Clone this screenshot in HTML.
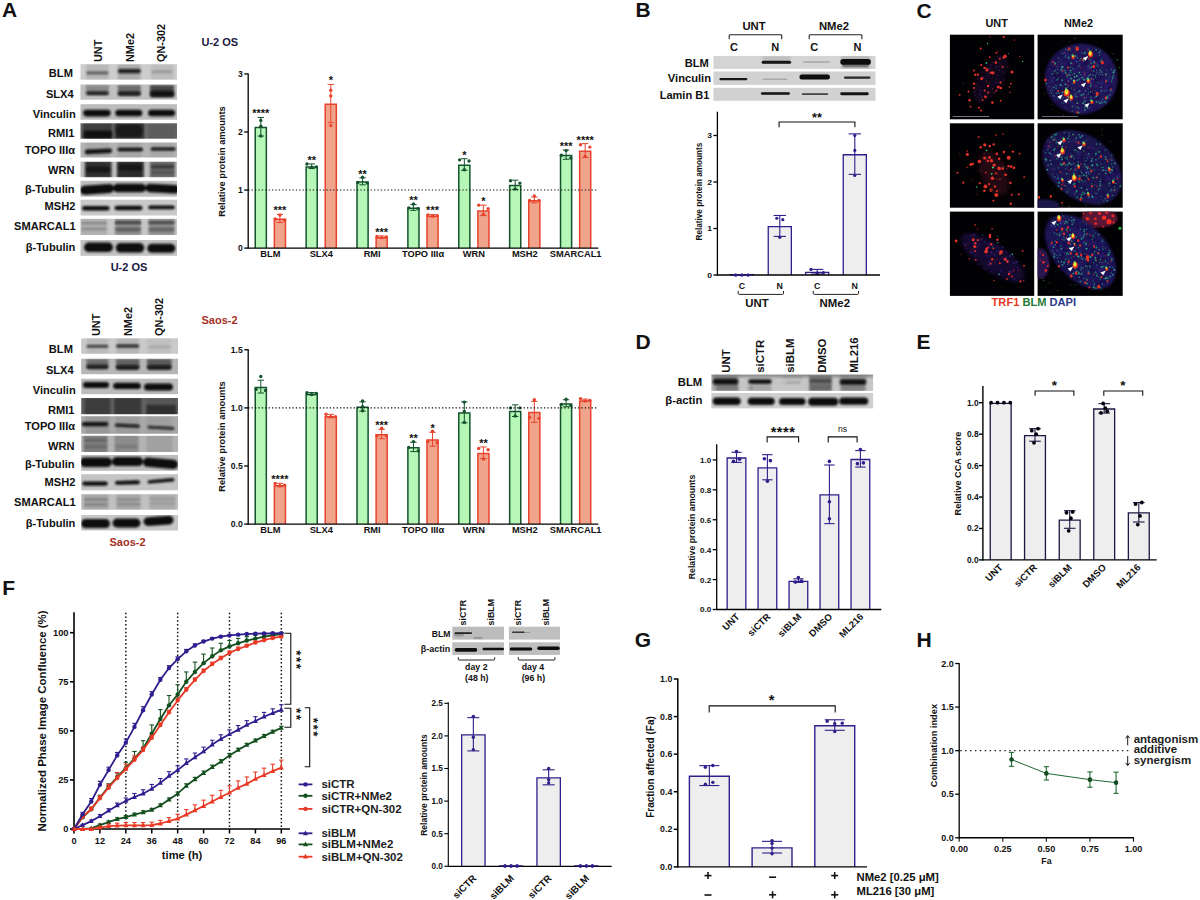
<!DOCTYPE html>
<html><head><meta charset="utf-8"><title>Figure</title>
<style>
html,body{margin:0;padding:0;background:#fff;}
body{width:1200px;height:900px;overflow:hidden;font-family:"Liberation Sans", sans-serif;}
svg{display:block;font-family:"Liberation Sans", sans-serif;}
</style></head><body>
<svg width="1200" height="900" viewBox="0 0 1200 900">
<defs>
<filter id="bl0" x="-20%" y="-50%" width="140%" height="200%"><feGaussianBlur stdDeviation="0.5"/></filter>
<filter id="bl1" x="-20%" y="-50%" width="140%" height="200%"><feGaussianBlur stdDeviation="0.8"/></filter>
<filter id="bl2" x="-20%" y="-50%" width="140%" height="200%"><feGaussianBlur stdDeviation="1.6"/></filter>
<filter id="bl3" x="-50%" y="-50%" width="200%" height="200%"><feGaussianBlur stdDeviation="0.6"/></filter>
<filter id="bl4" x="-50%" y="-50%" width="200%" height="200%"><feGaussianBlur stdDeviation="2.2"/></filter>
<filter id="bl5" x="-50%" y="-50%" width="200%" height="200%"><feGaussianBlur stdDeviation="1.1"/></filter>
</defs>
<rect x="0" y="0" width="1200" height="900" fill="#ffffff"/>

<text x="9.50" y="17.00" font-size="21" text-anchor="middle" font-weight="bold" fill="#111">A</text>
<text x="72.90" y="76.70" font-size="11.1" text-anchor="end" font-weight="bold" fill="#111">BLM</text>
<text x="73.70" y="97.50" font-size="11.1" text-anchor="end" font-weight="bold" fill="#111">SLX4</text>
<text x="75.70" y="118.00" font-size="11.1" text-anchor="end" font-weight="bold" fill="#111">Vinculin</text>
<text x="74.40" y="136.70" font-size="11.1" text-anchor="end" font-weight="bold" fill="#111">RMI1</text>
<text x="75.10" y="154.20" font-size="11.1" text-anchor="end" font-weight="bold" fill="#111">TOPO IIIα</text>
<text x="74.60" y="173.70" font-size="11.1" text-anchor="end" font-weight="bold" fill="#111">WRN</text>
<text x="74.60" y="192.50" font-size="11.1" text-anchor="end" font-weight="bold" fill="#111">β-Tubulin</text>
<text x="75.40" y="209.70" font-size="11.1" text-anchor="end" font-weight="bold" fill="#111">MSH2</text>
<text x="75.70" y="230.00" font-size="11.1" text-anchor="end" font-weight="bold" fill="#111">SMARCAL1</text>
<text x="75.40" y="251.30" font-size="11.1" text-anchor="end" font-weight="bold" fill="#111">β-Tubulin</text>
<text x="102.00" y="62.00" font-size="10.9" text-anchor="start" font-weight="bold" fill="#111" transform="rotate(-90 102.00 62.00)">UNT</text>
<text x="133.50" y="62.00" font-size="10.9" text-anchor="start" font-weight="bold" fill="#111" transform="rotate(-90 133.50 62.00)">NMe2</text>
<text x="165.00" y="62.00" font-size="10.9" text-anchor="start" font-weight="bold" fill="#111" transform="rotate(-90 165.00 62.00)">QN-302</text>
<clipPath id="cAt0"><rect x="80.50" y="64.20" width="96.50" height="15.50"/></clipPath>
<rect x="80.50" y="64.20" width="96.50" height="15.50" fill="#cdcdcd" stroke="none" stroke-width="1"/>
<g clip-path="url(#cAt0)">
<g filter="url(#bl1)">
<rect x="85.90" y="64.00" width="23.00" height="16.00" fill="#0a0a0a" opacity="0.1"/>
<rect x="117.80" y="64.00" width="23.00" height="16.00" fill="#0a0a0a" opacity="0.16"/>
<rect x="150.60" y="64.00" width="23.00" height="16.00" fill="#0a0a0a" opacity="0.08"/>
</g>
<g filter="url(#bl1)">
<rect x="86.40" y="71.40" width="22.00" height="1.60" rx="0.80" fill="#0a0a0a" opacity="0.55"/>
<rect x="86.40" y="73.10" width="22.00" height="1.40" rx="0.70" fill="#0a0a0a" opacity="0.45"/>
<rect x="117.80" y="69.00" width="23.00" height="4.20" rx="2.10" fill="#0a0a0a" opacity="0.9"/>
<rect x="151.60" y="70.50" width="21.00" height="2.60" rx="1.30" fill="#0a0a0a" opacity="0.22"/>
</g></g>
<clipPath id="cAt1"><rect x="80.50" y="84.50" width="96.50" height="15.20"/></clipPath>
<rect x="80.50" y="84.50" width="96.50" height="15.20" fill="#c0c0c0" stroke="none" stroke-width="1"/>
<g clip-path="url(#cAt1)">
<g filter="url(#bl1)">
<rect x="85.90" y="85.00" width="23.00" height="10.00" fill="#0a0a0a" opacity="0.28"/>
<rect x="117.80" y="85.00" width="23.00" height="11.00" fill="#0a0a0a" opacity="0.42"/>
<rect x="150.10" y="85.00" width="24.00" height="12.00" fill="#0a0a0a" opacity="0.68"/>
</g>
<g filter="url(#bl1)">
<rect x="86.40" y="91.60" width="22.00" height="3.40" rx="1.70" fill="#0a0a0a" opacity="0.9"/>
<rect x="118.05" y="91.60" width="22.50" height="3.80" rx="1.90" fill="#0a0a0a" opacity="0.9"/>
<rect x="150.10" y="90.80" width="24.00" height="6.00" rx="3.00" fill="#0a0a0a" opacity="0.95"/>
</g></g>
<clipPath id="cAt2"><rect x="80.50" y="104.20" width="96.50" height="15.50"/></clipPath>
<rect x="80.50" y="104.20" width="96.50" height="15.50" fill="#bcbcbc" stroke="none" stroke-width="1"/>
<g clip-path="url(#cAt2)">
<g filter="url(#bl1)">
<rect x="83.15" y="109.80" width="27.50" height="6.60" rx="3.30" fill="#0a0a0a" opacity="1"/>
<rect x="115.30" y="109.70" width="27.00" height="6.60" rx="3.30" fill="#0a0a0a" opacity="1"/>
<rect x="148.10" y="109.70" width="27.00" height="6.60" rx="3.30" fill="#0a0a0a" opacity="1"/>
</g></g>
<clipPath id="cAt3"><rect x="80.50" y="123.30" width="96.50" height="15.40"/></clipPath>
<rect x="80.50" y="123.30" width="96.50" height="15.40" fill="#6a6a6a" stroke="none" stroke-width="1"/>
<g clip-path="url(#cAt3)">
<g filter="url(#bl1)">
<rect x="82.90" y="130.50" width="29.00" height="8.50" fill="#0a0a0a" opacity="0.5"/>
<rect x="82.90" y="123.00" width="29.00" height="16.00" fill="#0a0a0a" opacity="0.42"/>
<rect x="114.80" y="123.00" width="29.00" height="16.00" fill="#0a0a0a" opacity="0.68"/>
<rect x="148.10" y="123.00" width="28.00" height="16.00" fill="#0a0a0a" opacity="0.12"/>
</g>
<g filter="url(#bl1)">
<rect x="84.40" y="131.00" width="28.00" height="7.00" rx="3.50" fill="#0a0a0a" opacity="0.5"/>
<rect x="115.80" y="125.00" width="27.00" height="12.00" rx="6.00" fill="#0a0a0a" opacity="0.45"/>
</g></g>
<clipPath id="cAt4"><rect x="80.50" y="142.50" width="96.50" height="15.00"/></clipPath>
<rect x="80.50" y="142.50" width="96.50" height="15.00" fill="#b4b4b4" stroke="none" stroke-width="1"/>
<g clip-path="url(#cAt4)">
<g filter="url(#bl1)">
<rect x="85.40" y="142.00" width="24.00" height="16.00" fill="#0a0a0a" opacity="0.06"/>
<rect x="117.30" y="142.00" width="24.00" height="16.00" fill="#0a0a0a" opacity="0.08"/>
<rect x="150.10" y="142.00" width="24.00" height="16.00" fill="#0a0a0a" opacity="0.06"/>
</g>
<g filter="url(#bl1)">
<rect x="84.65" y="149.00" width="27.50" height="4.60" rx="2.30" fill="#0a0a0a" opacity="0.97" transform="rotate(-3 98.40 151.30)"/>
<rect x="117.55" y="147.70" width="25.50" height="3.60" rx="1.80" fill="#0a0a0a" opacity="1"/>
<rect x="150.60" y="147.50" width="25.00" height="3.00" rx="1.50" fill="#0a0a0a" opacity="1"/>
</g></g>
<clipPath id="cAt5"><rect x="80.50" y="161.70" width="96.50" height="15.50"/></clipPath>
<rect x="80.50" y="161.70" width="96.50" height="15.50" fill="#bdbdbd" stroke="none" stroke-width="1"/>
<g clip-path="url(#cAt5)">
<g filter="url(#bl1)">
<rect x="84.95" y="161.00" width="26.50" height="17.00" fill="#0a0a0a" opacity="0.8"/>
<rect x="117.15" y="161.00" width="26.50" height="17.00" fill="#0a0a0a" opacity="0.84"/>
<rect x="150.00" y="161.00" width="25.00" height="17.00" fill="#0a0a0a" opacity="0.45"/>
</g>
<g filter="url(#bl1)">
<rect x="86.20" y="166.50" width="24.00" height="6.00" rx="3.00" fill="#0a0a0a" opacity="0.55"/>
<rect x="118.40" y="164.50" width="24.00" height="6.00" rx="3.00" fill="#0a0a0a" opacity="0.5"/>
<rect x="151.00" y="165.05" width="23.00" height="3.50" rx="1.75" fill="#0a0a0a" opacity="0.45"/>
<rect x="151.00" y="171.00" width="23.00" height="3.00" rx="1.50" fill="#0a0a0a" opacity="0.2"/>
</g></g>
<clipPath id="cAt6"><rect x="80.50" y="180.80" width="96.50" height="15.90"/></clipPath>
<rect x="80.50" y="180.80" width="96.50" height="15.90" fill="#bebebe" stroke="none" stroke-width="1"/>
<g clip-path="url(#cAt6)">
<g filter="url(#bl1)">
<rect x="80.00" y="184.80" width="34.00" height="9.00" rx="4.50" fill="#0a0a0a" opacity="1" transform="rotate(-4 97.00 189.30)"/>
<rect x="113.00" y="183.70" width="33.00" height="8.60" rx="4.30" fill="#0a0a0a" opacity="1"/>
<rect x="145.50" y="184.30" width="34.00" height="8.60" rx="4.30" fill="#0a0a0a" opacity="1" transform="rotate(3 162.50 188.60)"/>
</g></g>
<clipPath id="cAt7"><rect x="80.50" y="199.70" width="96.50" height="15.80"/></clipPath>
<rect x="80.50" y="199.70" width="96.50" height="15.80" fill="#c9c9c9" stroke="none" stroke-width="1"/>
<g clip-path="url(#cAt7)">
<g filter="url(#bl1)">
<rect x="82.05" y="206.00" width="27.50" height="4.40" rx="2.20" fill="#0a0a0a" opacity="1"/>
<rect x="114.50" y="205.70" width="28.00" height="4.60" rx="2.30" fill="#0a0a0a" opacity="1"/>
<rect x="148.25" y="205.50" width="26.50" height="3.80" rx="1.90" fill="#0a0a0a" opacity="1"/>
</g></g>
<clipPath id="cAt8"><rect x="80.50" y="218.80" width="96.50" height="16.20"/></clipPath>
<rect x="80.50" y="218.80" width="96.50" height="16.20" fill="#c6c6c6" stroke="none" stroke-width="1"/>
<g clip-path="url(#cAt8)">
<g filter="url(#bl1)">
<rect x="81.00" y="218.00" width="26.00" height="18.00" fill="#0a0a0a" opacity="0.1"/>
<rect x="115.00" y="218.00" width="26.00" height="18.00" fill="#0a0a0a" opacity="0.25"/>
<rect x="148.50" y="218.00" width="26.00" height="18.00" fill="#0a0a0a" opacity="0.25"/>
</g>
<g filter="url(#bl1)">
<rect x="81.00" y="222.20" width="26.00" height="2.00" rx="1.00" fill="#0a0a0a" opacity="0.3"/>
<rect x="81.00" y="227.50" width="26.00" height="3.00" rx="1.50" fill="#0a0a0a" opacity="0.22"/>
<rect x="115.00" y="221.50" width="26.00" height="2.60" rx="1.30" fill="#0a0a0a" opacity="0.75"/>
<rect x="115.00" y="227.25" width="26.00" height="4.50" rx="2.25" fill="#0a0a0a" opacity="0.35"/>
<rect x="148.50" y="221.50" width="26.00" height="2.60" rx="1.30" fill="#0a0a0a" opacity="0.7"/>
<rect x="148.50" y="227.25" width="26.00" height="4.50" rx="2.25" fill="#0a0a0a" opacity="0.32"/>
</g></g>
<clipPath id="cAt9"><rect x="80.50" y="240.00" width="96.50" height="15.80"/></clipPath>
<rect x="80.50" y="240.00" width="96.50" height="15.80" fill="#c2c2c2" stroke="none" stroke-width="1"/>
<g clip-path="url(#cAt9)">
<g filter="url(#bl1)">
<rect x="84.00" y="242.50" width="29.00" height="9.60" rx="4.80" fill="#0a0a0a" opacity="1"/>
<rect x="115.75" y="243.00" width="28.50" height="9.60" rx="4.80" fill="#0a0a0a" opacity="1"/>
<rect x="147.30" y="243.70" width="28.00" height="9.00" rx="4.50" fill="#0a0a0a" opacity="1"/>
</g></g>
<text x="129.00" y="271.20" font-size="11" text-anchor="middle" font-weight="bold" fill="#1b1943">U-2 OS</text>
<text x="72.90" y="352.70" font-size="11.1" text-anchor="end" font-weight="bold" fill="#111">BLM</text>
<text x="73.70" y="373.70" font-size="11.1" text-anchor="end" font-weight="bold" fill="#111">SLX4</text>
<text x="75.70" y="394.20" font-size="11.1" text-anchor="end" font-weight="bold" fill="#111">Vinculin</text>
<text x="74.40" y="413.70" font-size="11.1" text-anchor="end" font-weight="bold" fill="#111">RMI1</text>
<text x="75.10" y="430.00" font-size="11.1" text-anchor="end" font-weight="bold" fill="#111">TOPO IIIα</text>
<text x="74.60" y="449.70" font-size="11.1" text-anchor="end" font-weight="bold" fill="#111">WRN</text>
<text x="74.60" y="468.00" font-size="11.1" text-anchor="end" font-weight="bold" fill="#111">β-Tubulin</text>
<text x="75.40" y="486.20" font-size="11.1" text-anchor="end" font-weight="bold" fill="#111">MSH2</text>
<text x="75.70" y="505.80" font-size="11.1" text-anchor="end" font-weight="bold" fill="#111">SMARCAL1</text>
<text x="75.40" y="526.70" font-size="11.1" text-anchor="end" font-weight="bold" fill="#111">β-Tubulin</text>
<text x="99.50" y="336.00" font-size="10.9" text-anchor="start" font-weight="bold" fill="#111" transform="rotate(-90 99.50 336.00)">UNT</text>
<text x="131.50" y="336.00" font-size="10.9" text-anchor="start" font-weight="bold" fill="#111" transform="rotate(-90 131.50 336.00)">NMe2</text>
<text x="162.50" y="336.00" font-size="10.9" text-anchor="start" font-weight="bold" fill="#111" transform="rotate(-90 162.50 336.00)">QN-302</text>
<clipPath id="cAb0"><rect x="81.20" y="338.30" width="96.80" height="15.50"/></clipPath>
<rect x="81.20" y="338.30" width="96.80" height="15.50" fill="#cacaca" stroke="none" stroke-width="1"/>
<g clip-path="url(#cAb0)">
<g filter="url(#bl1)">
<rect x="86.40" y="338.00" width="22.00" height="16.00" fill="#0a0a0a" opacity="0.08"/>
<rect x="116.20" y="338.00" width="23.00" height="16.00" fill="#0a0a0a" opacity="0.1"/>
<rect x="147.30" y="338.00" width="24.00" height="16.00" fill="#0a0a0a" opacity="0.05"/>
</g>
<g filter="url(#bl1)">
<rect x="86.65" y="344.90" width="21.50" height="2.60" rx="1.30" fill="#0a0a0a" opacity="0.8"/>
<rect x="116.20" y="344.40" width="23.00" height="3.20" rx="1.60" fill="#0a0a0a" opacity="0.88"/>
<rect x="148.30" y="345.70" width="22.00" height="2.60" rx="1.30" fill="#0a0a0a" opacity="0.14"/>
</g></g>
<clipPath id="cAb1"><rect x="81.20" y="358.70" width="96.80" height="15.50"/></clipPath>
<rect x="81.20" y="358.70" width="96.80" height="15.50" fill="#b6b6b6" stroke="none" stroke-width="1"/>
<g clip-path="url(#cAb1)">
<g filter="url(#bl1)">
<rect x="86.40" y="359.00" width="22.00" height="9.00" fill="#0a0a0a" opacity="0.4"/>
<rect x="115.95" y="359.00" width="23.50" height="9.00" fill="#0a0a0a" opacity="0.46"/>
<rect x="147.05" y="359.00" width="24.50" height="9.00" fill="#0a0a0a" opacity="0.5"/>
</g>
<g filter="url(#bl1)">
<rect x="86.40" y="364.80" width="22.00" height="4.40" rx="2.20" fill="#0a0a0a" opacity="0.85"/>
<rect x="115.95" y="365.30" width="23.50" height="4.60" rx="2.30" fill="#0a0a0a" opacity="0.88"/>
<rect x="147.05" y="365.30" width="24.50" height="4.60" rx="2.30" fill="#0a0a0a" opacity="0.88"/>
</g></g>
<clipPath id="cAb2"><rect x="81.20" y="378.70" width="96.80" height="15.50"/></clipPath>
<rect x="81.20" y="378.70" width="96.80" height="15.50" fill="#bcbcbc" stroke="none" stroke-width="1"/>
<g clip-path="url(#cAb2)">
<g filter="url(#bl1)">
<rect x="83.00" y="382.00" width="26.00" height="6.00" rx="3.00" fill="#0a0a0a" opacity="1"/>
<rect x="113.25" y="382.70" width="27.50" height="6.40" rx="3.20" fill="#0a0a0a" opacity="1"/>
<rect x="144.00" y="383.40" width="29.00" height="7.20" rx="3.60" fill="#0a0a0a" opacity="1"/>
</g></g>
<clipPath id="cAb3"><rect x="81.20" y="398.00" width="96.80" height="16.20"/></clipPath>
<rect x="81.20" y="398.00" width="96.80" height="16.20" fill="#626262" stroke="none" stroke-width="1"/>
<g clip-path="url(#cAb3)">
<g filter="url(#bl1)">
<rect x="84.40" y="398.00" width="26.00" height="17.00" fill="#0a0a0a" opacity="0.38"/>
<rect x="114.20" y="398.00" width="27.00" height="17.00" fill="#0a0a0a" opacity="0.42"/>
<rect x="146.30" y="405.00" width="30.00" height="10.00" fill="#0a0a0a" opacity="0.45"/>
<rect x="146.30" y="398.00" width="30.00" height="17.00" fill="#0a0a0a" opacity="0.12"/>
</g>
<g filter="url(#bl1)">
</g></g>
<clipPath id="cAb4"><rect x="81.20" y="416.20" width="96.80" height="17.60"/></clipPath>
<rect x="81.20" y="416.20" width="96.80" height="17.60" fill="#a9a9a9" stroke="none" stroke-width="1"/>
<g clip-path="url(#cAb4)">
<g filter="url(#bl1)">
<rect x="85.40" y="416.00" width="24.00" height="18.00" fill="#0a0a0a" opacity="0.1"/>
<rect x="115.70" y="416.00" width="24.00" height="18.00" fill="#0a0a0a" opacity="0.08"/>
<rect x="146.30" y="416.00" width="26.00" height="18.00" fill="#0a0a0a" opacity="0.06"/>
</g>
<g filter="url(#bl1)">
<rect x="81.75" y="422.10" width="26.50" height="4.20" rx="2.10" fill="#0a0a0a" opacity="0.97"/>
<rect x="114.80" y="424.00" width="25.00" height="3.20" rx="1.60" fill="#0a0a0a" opacity="0.9" transform="rotate(3 127.30 425.60)"/>
<rect x="147.50" y="426.40" width="27.00" height="2.80" rx="1.40" fill="#0a0a0a" opacity="0.85" transform="rotate(3 161.00 427.80)"/>
</g></g>
<clipPath id="cAb5"><rect x="81.20" y="435.80" width="96.80" height="16.20"/></clipPath>
<rect x="81.20" y="435.80" width="96.80" height="16.20" fill="#b3b3b3" stroke="none" stroke-width="1"/>
<g clip-path="url(#cAb5)">
<g filter="url(#bl1)">
<rect x="83.50" y="435.00" width="24.00" height="18.00" fill="#0a0a0a" opacity="0.3"/>
<rect x="114.50" y="435.00" width="24.00" height="18.00" fill="#0a0a0a" opacity="0.22"/>
<rect x="146.50" y="435.00" width="26.00" height="18.00" fill="#0a0a0a" opacity="0.1"/>
</g>
<g filter="url(#bl1)">
<rect x="84.00" y="439.10" width="23.00" height="2.40" rx="1.20" fill="#0a0a0a" opacity="0.22"/>
<rect x="84.00" y="445.50" width="23.00" height="2.60" rx="1.30" fill="#0a0a0a" opacity="0.2"/>
<rect x="115.00" y="445.00" width="23.00" height="3.00" rx="1.50" fill="#0a0a0a" opacity="0.14"/>
</g></g>
<clipPath id="cAb6"><rect x="81.20" y="455.00" width="96.80" height="15.80"/></clipPath>
<rect x="81.20" y="455.00" width="96.80" height="15.80" fill="#bcbcbc" stroke="none" stroke-width="1"/>
<g clip-path="url(#cAb6)">
<g filter="url(#bl1)">
<rect x="80.00" y="457.60" width="32.00" height="9.40" rx="4.70" fill="#0a0a0a" opacity="1"/>
<rect x="112.00" y="457.10" width="31.00" height="9.00" rx="4.50" fill="#0a0a0a" opacity="1"/>
<rect x="143.00" y="458.60" width="35.00" height="9.40" rx="4.70" fill="#0a0a0a" opacity="1" transform="rotate(5 160.50 463.30)"/>
</g></g>
<clipPath id="cAb7"><rect x="81.20" y="474.20" width="96.80" height="16.10"/></clipPath>
<rect x="81.20" y="474.20" width="96.80" height="16.10" fill="#c4c4c4" stroke="none" stroke-width="1"/>
<g clip-path="url(#cAb7)">
<g filter="url(#bl1)">
<rect x="82.25" y="481.50" width="25.50" height="4.20" rx="2.10" fill="#0a0a0a" opacity="1"/>
<rect x="115.00" y="480.70" width="25.00" height="3.80" rx="1.90" fill="#0a0a0a" opacity="1" transform="rotate(-2 127.50 482.60)"/>
<rect x="147.50" y="479.10" width="27.00" height="3.40" rx="1.70" fill="#0a0a0a" opacity="1" transform="rotate(-5 161.00 480.80)"/>
</g></g>
<clipPath id="cAb8"><rect x="81.20" y="494.20" width="96.80" height="15.50"/></clipPath>
<rect x="81.20" y="494.20" width="96.80" height="15.50" fill="#c0c0c0" stroke="none" stroke-width="1"/>
<g clip-path="url(#cAb8)">
<g filter="url(#bl1)">
<rect x="83.50" y="494.00" width="25.00" height="16.00" fill="#0a0a0a" opacity="0.12"/>
<rect x="116.50" y="494.00" width="24.00" height="16.00" fill="#0a0a0a" opacity="0.12"/>
<rect x="149.50" y="494.00" width="26.00" height="16.00" fill="#0a0a0a" opacity="0.1"/>
</g>
<g filter="url(#bl1)">
<rect x="84.00" y="498.60" width="24.00" height="2.00" rx="1.00" fill="#0a0a0a" opacity="0.32"/>
<rect x="84.00" y="503.20" width="24.00" height="2.60" rx="1.30" fill="#0a0a0a" opacity="0.26"/>
<rect x="116.50" y="498.40" width="24.00" height="2.00" rx="1.00" fill="#0a0a0a" opacity="0.24"/>
<rect x="116.50" y="503.00" width="24.00" height="2.60" rx="1.30" fill="#0a0a0a" opacity="0.2"/>
<rect x="149.50" y="497.90" width="26.00" height="1.80" rx="0.90" fill="#0a0a0a" opacity="0.16"/>
<rect x="149.50" y="502.40" width="26.00" height="2.20" rx="1.10" fill="#0a0a0a" opacity="0.12"/>
</g></g>
<clipPath id="cAb9"><rect x="81.20" y="515.00" width="96.80" height="15.50"/></clipPath>
<rect x="81.20" y="515.00" width="96.80" height="15.50" fill="#c6c6c6" stroke="none" stroke-width="1"/>
<g clip-path="url(#cAb9)">
<g filter="url(#bl1)">
<rect x="81.00" y="519.10" width="29.00" height="9.00" rx="4.50" fill="#0a0a0a" opacity="1"/>
<rect x="112.50" y="518.60" width="28.00" height="8.80" rx="4.40" fill="#0a0a0a" opacity="1"/>
<rect x="143.50" y="516.40" width="30.00" height="8.80" rx="4.40" fill="#0a0a0a" opacity="1" transform="rotate(-4 158.50 520.80)"/>
</g></g>
<text x="127.50" y="546.30" font-size="11" text-anchor="middle" font-weight="bold" fill="#a5301f">Saos-2</text>
<text x="201.50" y="45.60" font-size="11" text-anchor="start" font-weight="bold" fill="#1b1943">U-2 OS</text>
<rect x="255.25" y="127.53" width="11.10" height="120.57" fill="#b6f6b6"/>
<path d="M255.25 248.10 V127.53 H266.35 V248.10" fill="none" stroke="#14532d" stroke-width="1.5"/>
<line x1="260.80" y1="117.49" x2="260.80" y2="136.06" stroke="#14532d" stroke-width="1.0"/>
<line x1="257.60" y1="117.49" x2="264.00" y2="117.49" stroke="#14532d" stroke-width="1.0"/>
<line x1="257.60" y1="136.06" x2="264.00" y2="136.06" stroke="#14532d" stroke-width="1.0"/>
<circle cx="260.80" cy="120.39" r="1.70" fill="#14532d"/>
<circle cx="260.80" cy="126.19" r="1.70" fill="#14532d"/>
<circle cx="260.80" cy="136.06" r="1.70" fill="#14532d"/>
<text x="260.80" y="117.40" font-size="11" text-anchor="middle" font-weight="bold" fill="#111">****</text>
<rect x="274.35" y="219.24" width="11.10" height="28.86" fill="#f0a48c"/>
<path d="M274.35 248.10 V219.24 H285.45 V248.10" fill="none" stroke="#e8432e" stroke-width="1.5"/>
<line x1="279.90" y1="214.43" x2="279.90" y2="222.56" stroke="#e8432e" stroke-width="1.0"/>
<line x1="276.70" y1="214.43" x2="283.10" y2="214.43" stroke="#e8432e" stroke-width="1.0"/>
<line x1="276.70" y1="222.56" x2="283.10" y2="222.56" stroke="#e8432e" stroke-width="1.0"/>
<circle cx="279.90" cy="215.01" r="1.70" fill="#e8432e"/>
<circle cx="275.20" cy="219.07" r="1.70" fill="#e8432e"/>
<circle cx="284.60" cy="220.24" r="1.70" fill="#e8432e"/>
<text x="279.90" y="214.34" font-size="11" text-anchor="middle" font-weight="bold" fill="#111">***</text>
<text x="270.40" y="257.30" font-size="9.3" text-anchor="middle" font-weight="bold" fill="#111">BLM</text>
<rect x="306.13" y="167.00" width="11.10" height="81.10" fill="#b6f6b6"/>
<path d="M306.13 248.10 V167.00 H317.23 V248.10" fill="none" stroke="#14532d" stroke-width="1.5"/>
<line x1="311.68" y1="163.93" x2="311.68" y2="168.57" stroke="#14532d" stroke-width="1.0"/>
<line x1="308.48" y1="163.93" x2="314.88" y2="163.93" stroke="#14532d" stroke-width="1.0"/>
<line x1="308.48" y1="168.57" x2="314.88" y2="168.57" stroke="#14532d" stroke-width="1.0"/>
<circle cx="306.98" cy="163.93" r="1.70" fill="#14532d"/>
<circle cx="316.38" cy="166.83" r="1.70" fill="#14532d"/>
<circle cx="311.68" cy="167.41" r="1.70" fill="#14532d"/>
<text x="311.68" y="163.84" font-size="11" text-anchor="middle" font-weight="bold" fill="#111">**</text>
<rect x="325.23" y="104.31" width="11.10" height="143.79" fill="#f0a48c"/>
<path d="M325.23 248.10 V104.31 H336.33 V248.10" fill="none" stroke="#e8432e" stroke-width="1.5"/>
<line x1="330.78" y1="84.40" x2="330.78" y2="122.71" stroke="#e8432e" stroke-width="1.0"/>
<line x1="327.58" y1="84.40" x2="333.98" y2="84.40" stroke="#e8432e" stroke-width="1.0"/>
<line x1="327.58" y1="122.71" x2="333.98" y2="122.71" stroke="#e8432e" stroke-width="1.0"/>
<circle cx="330.78" cy="90.20" r="1.70" fill="#e8432e"/>
<circle cx="330.78" cy="96.01" r="1.70" fill="#e8432e"/>
<circle cx="330.78" cy="125.61" r="1.70" fill="#e8432e"/>
<text x="330.78" y="84.31" font-size="11" text-anchor="middle" font-weight="bold" fill="#111">*</text>
<text x="321.28" y="257.30" font-size="9.3" text-anchor="middle" font-weight="bold" fill="#111">SLX4</text>
<rect x="357.01" y="182.09" width="11.10" height="66.01" fill="#b6f6b6"/>
<path d="M357.01 248.10 V182.09 H368.11 V248.10" fill="none" stroke="#14532d" stroke-width="1.5"/>
<line x1="362.56" y1="177.86" x2="362.56" y2="184.83" stroke="#14532d" stroke-width="1.0"/>
<line x1="359.36" y1="177.86" x2="365.76" y2="177.86" stroke="#14532d" stroke-width="1.0"/>
<line x1="359.36" y1="184.83" x2="365.76" y2="184.83" stroke="#14532d" stroke-width="1.0"/>
<circle cx="362.56" cy="177.28" r="1.70" fill="#14532d"/>
<circle cx="357.86" cy="182.50" r="1.70" fill="#14532d"/>
<circle cx="367.26" cy="183.08" r="1.70" fill="#14532d"/>
<text x="362.56" y="177.77" font-size="11" text-anchor="middle" font-weight="bold" fill="#111">**</text>
<rect x="376.11" y="237.82" width="11.10" height="10.28" fill="#f0a48c"/>
<path d="M376.11 248.10 V237.82 H387.21 V248.10" fill="none" stroke="#e8432e" stroke-width="1.5"/>
<line x1="381.66" y1="235.91" x2="381.66" y2="238.23" stroke="#e8432e" stroke-width="1.0"/>
<line x1="378.46" y1="235.91" x2="384.86" y2="235.91" stroke="#e8432e" stroke-width="1.0"/>
<line x1="378.46" y1="238.23" x2="384.86" y2="238.23" stroke="#e8432e" stroke-width="1.0"/>
<circle cx="376.96" cy="236.49" r="1.70" fill="#e8432e"/>
<circle cx="386.36" cy="237.07" r="1.70" fill="#e8432e"/>
<circle cx="381.66" cy="237.65" r="1.70" fill="#e8432e"/>
<text x="381.66" y="235.82" font-size="11" text-anchor="middle" font-weight="bold" fill="#111">***</text>
<text x="372.16" y="257.30" font-size="9.3" text-anchor="middle" font-weight="bold" fill="#111">RMI</text>
<rect x="407.89" y="208.22" width="11.10" height="39.88" fill="#b6f6b6"/>
<path d="M407.89 248.10 V208.22 H418.99 V248.10" fill="none" stroke="#14532d" stroke-width="1.5"/>
<line x1="413.44" y1="204.56" x2="413.44" y2="210.37" stroke="#14532d" stroke-width="1.0"/>
<line x1="410.24" y1="204.56" x2="416.64" y2="204.56" stroke="#14532d" stroke-width="1.0"/>
<line x1="410.24" y1="210.37" x2="416.64" y2="210.37" stroke="#14532d" stroke-width="1.0"/>
<circle cx="413.44" cy="203.98" r="1.70" fill="#14532d"/>
<circle cx="408.74" cy="208.05" r="1.70" fill="#14532d"/>
<circle cx="418.14" cy="208.63" r="1.70" fill="#14532d"/>
<text x="413.44" y="204.47" font-size="11" text-anchor="middle" font-weight="bold" fill="#111">**</text>
<rect x="426.99" y="216.34" width="11.10" height="31.76" fill="#f0a48c"/>
<path d="M426.99 248.10 V216.34 H438.09 V248.10" fill="none" stroke="#e8432e" stroke-width="1.5"/>
<line x1="432.54" y1="214.43" x2="432.54" y2="216.75" stroke="#e8432e" stroke-width="1.0"/>
<line x1="429.34" y1="214.43" x2="435.74" y2="214.43" stroke="#e8432e" stroke-width="1.0"/>
<line x1="429.34" y1="216.75" x2="435.74" y2="216.75" stroke="#e8432e" stroke-width="1.0"/>
<circle cx="427.84" cy="215.01" r="1.70" fill="#e8432e"/>
<circle cx="437.24" cy="215.59" r="1.70" fill="#e8432e"/>
<circle cx="432.54" cy="216.17" r="1.70" fill="#e8432e"/>
<text x="432.54" y="214.34" font-size="11" text-anchor="middle" font-weight="bold" fill="#111">***</text>
<text x="423.04" y="257.30" font-size="9.3" text-anchor="middle" font-weight="bold" fill="#111">TOPO IIIα</text>
<rect x="458.77" y="165.26" width="11.10" height="82.84" fill="#b6f6b6"/>
<path d="M458.77 248.10 V165.26 H469.87 V248.10" fill="none" stroke="#14532d" stroke-width="1.5"/>
<line x1="464.32" y1="158.70" x2="464.32" y2="170.31" stroke="#14532d" stroke-width="1.0"/>
<line x1="461.12" y1="158.70" x2="467.52" y2="158.70" stroke="#14532d" stroke-width="1.0"/>
<line x1="461.12" y1="170.31" x2="467.52" y2="170.31" stroke="#14532d" stroke-width="1.0"/>
<circle cx="459.62" cy="159.86" r="1.70" fill="#14532d"/>
<circle cx="469.02" cy="161.03" r="1.70" fill="#14532d"/>
<circle cx="464.32" cy="169.73" r="1.70" fill="#14532d"/>
<text x="464.32" y="158.61" font-size="11" text-anchor="middle" font-weight="bold" fill="#111">*</text>
<rect x="477.87" y="211.12" width="11.10" height="36.98" fill="#f0a48c"/>
<path d="M477.87 248.10 V211.12 H488.97 V248.10" fill="none" stroke="#e8432e" stroke-width="1.5"/>
<line x1="483.42" y1="205.14" x2="483.42" y2="215.59" stroke="#e8432e" stroke-width="1.0"/>
<line x1="480.22" y1="205.14" x2="486.62" y2="205.14" stroke="#e8432e" stroke-width="1.0"/>
<line x1="480.22" y1="215.59" x2="486.62" y2="215.59" stroke="#e8432e" stroke-width="1.0"/>
<circle cx="478.72" cy="205.14" r="1.70" fill="#e8432e"/>
<circle cx="488.12" cy="208.63" r="1.70" fill="#e8432e"/>
<circle cx="483.42" cy="214.43" r="1.70" fill="#e8432e"/>
<text x="483.42" y="205.05" font-size="11" text-anchor="middle" font-weight="bold" fill="#111">*</text>
<text x="473.92" y="257.30" font-size="9.3" text-anchor="middle" font-weight="bold" fill="#111">WRN</text>
<rect x="509.65" y="185.58" width="11.10" height="62.52" fill="#b6f6b6"/>
<path d="M509.65 248.10 V185.58 H520.75 V248.10" fill="none" stroke="#14532d" stroke-width="1.5"/>
<line x1="515.20" y1="180.18" x2="515.20" y2="189.47" stroke="#14532d" stroke-width="1.0"/>
<line x1="512.00" y1="180.18" x2="518.40" y2="180.18" stroke="#14532d" stroke-width="1.0"/>
<line x1="512.00" y1="189.47" x2="518.40" y2="189.47" stroke="#14532d" stroke-width="1.0"/>
<circle cx="510.50" cy="180.76" r="1.70" fill="#14532d"/>
<circle cx="519.90" cy="183.08" r="1.70" fill="#14532d"/>
<circle cx="515.20" cy="188.89" r="1.70" fill="#14532d"/>
<rect x="528.75" y="200.67" width="11.10" height="47.43" fill="#f0a48c"/>
<path d="M528.75 248.10 V200.67 H539.85 V248.10" fill="none" stroke="#e8432e" stroke-width="1.5"/>
<line x1="534.30" y1="197.02" x2="534.30" y2="202.82" stroke="#e8432e" stroke-width="1.0"/>
<line x1="531.10" y1="197.02" x2="537.50" y2="197.02" stroke="#e8432e" stroke-width="1.0"/>
<line x1="531.10" y1="202.82" x2="537.50" y2="202.82" stroke="#e8432e" stroke-width="1.0"/>
<circle cx="534.30" cy="195.85" r="1.70" fill="#e8432e"/>
<circle cx="529.60" cy="200.50" r="1.70" fill="#e8432e"/>
<circle cx="539.00" cy="200.50" r="1.70" fill="#e8432e"/>
<text x="524.80" y="257.30" font-size="9.3" text-anchor="middle" font-weight="bold" fill="#111">MSH2</text>
<rect x="560.53" y="155.39" width="11.10" height="92.71" fill="#b6f6b6"/>
<path d="M560.53 248.10 V155.39 H571.63 V248.10" fill="none" stroke="#14532d" stroke-width="1.5"/>
<line x1="566.08" y1="150.00" x2="566.08" y2="159.28" stroke="#14532d" stroke-width="1.0"/>
<line x1="562.88" y1="150.00" x2="569.28" y2="150.00" stroke="#14532d" stroke-width="1.0"/>
<line x1="562.88" y1="159.28" x2="569.28" y2="159.28" stroke="#14532d" stroke-width="1.0"/>
<circle cx="566.08" cy="150.58" r="1.70" fill="#14532d"/>
<circle cx="561.38" cy="155.22" r="1.70" fill="#14532d"/>
<circle cx="570.78" cy="158.12" r="1.70" fill="#14532d"/>
<text x="566.08" y="149.91" font-size="11" text-anchor="middle" font-weight="bold" fill="#111">***</text>
<rect x="579.63" y="151.33" width="11.10" height="96.77" fill="#f0a48c"/>
<path d="M579.63 248.10 V151.33 H590.73 V248.10" fill="none" stroke="#e8432e" stroke-width="1.5"/>
<line x1="585.18" y1="143.61" x2="585.18" y2="157.54" stroke="#e8432e" stroke-width="1.0"/>
<line x1="581.98" y1="143.61" x2="588.38" y2="143.61" stroke="#e8432e" stroke-width="1.0"/>
<line x1="581.98" y1="157.54" x2="588.38" y2="157.54" stroke="#e8432e" stroke-width="1.0"/>
<circle cx="580.48" cy="144.77" r="1.70" fill="#e8432e"/>
<circle cx="589.88" cy="147.09" r="1.70" fill="#e8432e"/>
<circle cx="585.18" cy="156.38" r="1.70" fill="#e8432e"/>
<text x="585.18" y="143.52" font-size="11" text-anchor="middle" font-weight="bold" fill="#111">****</text>
<text x="575.68" y="257.30" font-size="9.3" text-anchor="middle" font-weight="bold" fill="#111">SMARCAL1</text>
<line x1="248.20" y1="190.05" x2="597.50" y2="190.05" stroke="#111" stroke-width="1.1" stroke-dasharray="1.3 2.1"/>
<line x1="248.20" y1="73.50" x2="248.20" y2="248.60" stroke="#000" stroke-width="1.3"/>
<line x1="244.20" y1="248.10" x2="248.20" y2="248.10" stroke="#000" stroke-width="1.3"/>
<text x="242.70" y="251.20" font-size="8.6" text-anchor="end" font-weight="bold" fill="#111">0</text>
<line x1="244.20" y1="190.05" x2="248.20" y2="190.05" stroke="#000" stroke-width="1.3"/>
<text x="242.70" y="193.15" font-size="8.6" text-anchor="end" font-weight="bold" fill="#111">1</text>
<line x1="244.20" y1="132.00" x2="248.20" y2="132.00" stroke="#000" stroke-width="1.3"/>
<text x="242.70" y="135.10" font-size="8.6" text-anchor="end" font-weight="bold" fill="#111">2</text>
<line x1="244.20" y1="73.95" x2="248.20" y2="73.95" stroke="#000" stroke-width="1.3"/>
<text x="242.70" y="77.05" font-size="8.6" text-anchor="end" font-weight="bold" fill="#111">3</text>
<line x1="247.70" y1="248.10" x2="598.30" y2="248.10" stroke="#000" stroke-width="1.4"/>
<text x="225.00" y="161.50" font-size="9.25" text-anchor="middle" font-weight="bold" fill="#111" transform="rotate(-90 225.00 161.50)">Relative protein amounts</text>
<text x="201.50" y="323.50" font-size="11" text-anchor="start" font-weight="bold" fill="#a5301f">Saos-2</text>
<rect x="255.25" y="387.39" width="11.10" height="136.71" fill="#b6f6b6"/>
<path d="M255.25 524.10 V387.39 H266.35 V524.10" fill="none" stroke="#14532d" stroke-width="1.5"/>
<line x1="260.80" y1="380.24" x2="260.80" y2="393.03" stroke="#14532d" stroke-width="1.0"/>
<line x1="257.60" y1="380.24" x2="264.00" y2="380.24" stroke="#14532d" stroke-width="1.0"/>
<line x1="257.60" y1="393.03" x2="264.00" y2="393.03" stroke="#14532d" stroke-width="1.0"/>
<circle cx="260.80" cy="376.53" r="1.70" fill="#14532d"/>
<circle cx="256.10" cy="389.31" r="1.70" fill="#14532d"/>
<circle cx="265.50" cy="390.47" r="1.70" fill="#14532d"/>
<rect x="274.35" y="485.81" width="11.10" height="38.29" fill="#f0a48c"/>
<path d="M274.35 524.10 V485.81 H285.45 V524.10" fill="none" stroke="#e8432e" stroke-width="1.5"/>
<line x1="279.90" y1="483.31" x2="279.90" y2="486.80" stroke="#e8432e" stroke-width="1.0"/>
<line x1="276.70" y1="483.31" x2="283.10" y2="483.31" stroke="#e8432e" stroke-width="1.0"/>
<line x1="276.70" y1="486.80" x2="283.10" y2="486.80" stroke="#e8432e" stroke-width="1.0"/>
<circle cx="275.20" cy="483.43" r="1.70" fill="#e8432e"/>
<circle cx="284.60" cy="485.17" r="1.70" fill="#e8432e"/>
<circle cx="279.90" cy="485.75" r="1.70" fill="#e8432e"/>
<text x="279.90" y="483.22" font-size="11" text-anchor="middle" font-weight="bold" fill="#111">****</text>
<text x="270.40" y="532.80" font-size="9.3" text-anchor="middle" font-weight="bold" fill="#111">BLM</text>
<rect x="306.13" y="394.47" width="11.10" height="129.63" fill="#b6f6b6"/>
<path d="M306.13 524.10 V394.47 H317.23 V524.10" fill="none" stroke="#14532d" stroke-width="1.5"/>
<line x1="311.68" y1="392.56" x2="311.68" y2="394.89" stroke="#14532d" stroke-width="1.0"/>
<line x1="308.48" y1="392.56" x2="314.88" y2="392.56" stroke="#14532d" stroke-width="1.0"/>
<line x1="308.48" y1="394.89" x2="314.88" y2="394.89" stroke="#14532d" stroke-width="1.0"/>
<circle cx="306.98" cy="392.79" r="1.70" fill="#14532d"/>
<circle cx="316.38" cy="393.38" r="1.70" fill="#14532d"/>
<circle cx="311.68" cy="394.54" r="1.70" fill="#14532d"/>
<rect x="325.23" y="416.78" width="11.10" height="107.32" fill="#f0a48c"/>
<path d="M325.23 524.10 V416.78 H336.33 V524.10" fill="none" stroke="#e8432e" stroke-width="1.5"/>
<line x1="330.78" y1="414.29" x2="330.78" y2="417.78" stroke="#e8432e" stroke-width="1.0"/>
<line x1="327.58" y1="414.29" x2="333.98" y2="414.29" stroke="#e8432e" stroke-width="1.0"/>
<line x1="327.58" y1="417.78" x2="333.98" y2="417.78" stroke="#e8432e" stroke-width="1.0"/>
<circle cx="326.08" cy="414.29" r="1.70" fill="#e8432e"/>
<circle cx="335.48" cy="416.62" r="1.70" fill="#e8432e"/>
<circle cx="330.78" cy="416.62" r="1.70" fill="#e8432e"/>
<text x="321.28" y="532.80" font-size="9.3" text-anchor="middle" font-weight="bold" fill="#111">SLX4</text>
<rect x="357.01" y="407.26" width="11.10" height="116.84" fill="#b6f6b6"/>
<path d="M357.01 524.10 V407.26 H368.11 V524.10" fill="none" stroke="#14532d" stroke-width="1.5"/>
<line x1="362.56" y1="401.86" x2="362.56" y2="411.15" stroke="#14532d" stroke-width="1.0"/>
<line x1="359.36" y1="401.86" x2="365.76" y2="401.86" stroke="#14532d" stroke-width="1.0"/>
<line x1="359.36" y1="411.15" x2="365.76" y2="411.15" stroke="#14532d" stroke-width="1.0"/>
<circle cx="362.56" cy="400.93" r="1.70" fill="#14532d"/>
<circle cx="362.56" cy="406.74" r="1.70" fill="#14532d"/>
<circle cx="362.56" cy="410.81" r="1.70" fill="#14532d"/>
<rect x="376.11" y="434.80" width="11.10" height="89.31" fill="#f0a48c"/>
<path d="M376.11 524.10 V434.80 H387.21 V524.10" fill="none" stroke="#e8432e" stroke-width="1.5"/>
<line x1="381.66" y1="429.40" x2="381.66" y2="438.69" stroke="#e8432e" stroke-width="1.0"/>
<line x1="378.46" y1="429.40" x2="384.86" y2="429.40" stroke="#e8432e" stroke-width="1.0"/>
<line x1="378.46" y1="438.69" x2="384.86" y2="438.69" stroke="#e8432e" stroke-width="1.0"/>
<circle cx="381.66" cy="428.24" r="1.70" fill="#e8432e"/>
<circle cx="376.96" cy="435.79" r="1.70" fill="#e8432e"/>
<circle cx="386.36" cy="435.79" r="1.70" fill="#e8432e"/>
<text x="381.66" y="429.31" font-size="11" text-anchor="middle" font-weight="bold" fill="#111">***</text>
<text x="372.16" y="532.80" font-size="9.3" text-anchor="middle" font-weight="bold" fill="#111">RMI</text>
<rect x="407.89" y="447.69" width="11.10" height="76.41" fill="#b6f6b6"/>
<path d="M407.89 524.10 V447.69 H418.99 V524.10" fill="none" stroke="#14532d" stroke-width="1.5"/>
<line x1="413.44" y1="442.30" x2="413.44" y2="451.59" stroke="#14532d" stroke-width="1.0"/>
<line x1="410.24" y1="442.30" x2="416.64" y2="442.30" stroke="#14532d" stroke-width="1.0"/>
<line x1="410.24" y1="451.59" x2="416.64" y2="451.59" stroke="#14532d" stroke-width="1.0"/>
<circle cx="413.44" cy="441.60" r="1.70" fill="#14532d"/>
<circle cx="408.74" cy="447.41" r="1.70" fill="#14532d"/>
<circle cx="418.14" cy="450.89" r="1.70" fill="#14532d"/>
<text x="413.44" y="442.21" font-size="11" text-anchor="middle" font-weight="bold" fill="#111">**</text>
<rect x="426.99" y="440.02" width="11.10" height="84.08" fill="#f0a48c"/>
<path d="M426.99 524.10 V440.02 H438.09 V524.10" fill="none" stroke="#e8432e" stroke-width="1.5"/>
<line x1="432.54" y1="432.30" x2="432.54" y2="446.25" stroke="#e8432e" stroke-width="1.0"/>
<line x1="429.34" y1="432.30" x2="435.74" y2="432.30" stroke="#e8432e" stroke-width="1.0"/>
<line x1="429.34" y1="446.25" x2="435.74" y2="446.25" stroke="#e8432e" stroke-width="1.0"/>
<circle cx="432.54" cy="431.14" r="1.70" fill="#e8432e"/>
<circle cx="427.84" cy="441.60" r="1.70" fill="#e8432e"/>
<circle cx="437.24" cy="442.76" r="1.70" fill="#e8432e"/>
<text x="432.54" y="432.21" font-size="11" text-anchor="middle" font-weight="bold" fill="#111">*</text>
<text x="423.04" y="532.80" font-size="9.3" text-anchor="middle" font-weight="bold" fill="#111">TOPO IIIα</text>
<rect x="458.77" y="413.07" width="11.10" height="111.03" fill="#b6f6b6"/>
<path d="M458.77 524.10 V413.07 H469.87 V524.10" fill="none" stroke="#14532d" stroke-width="1.5"/>
<line x1="464.32" y1="401.86" x2="464.32" y2="422.77" stroke="#14532d" stroke-width="1.0"/>
<line x1="461.12" y1="401.86" x2="467.52" y2="401.86" stroke="#14532d" stroke-width="1.0"/>
<line x1="461.12" y1="422.77" x2="467.52" y2="422.77" stroke="#14532d" stroke-width="1.0"/>
<circle cx="464.32" cy="402.09" r="1.70" fill="#14532d"/>
<circle cx="464.32" cy="411.39" r="1.70" fill="#14532d"/>
<circle cx="464.32" cy="422.43" r="1.70" fill="#14532d"/>
<rect x="477.87" y="453.50" width="11.10" height="70.60" fill="#f0a48c"/>
<path d="M477.87 524.10 V453.50 H488.97 V524.10" fill="none" stroke="#e8432e" stroke-width="1.5"/>
<line x1="483.42" y1="446.94" x2="483.42" y2="458.56" stroke="#e8432e" stroke-width="1.0"/>
<line x1="480.22" y1="446.94" x2="486.62" y2="446.94" stroke="#e8432e" stroke-width="1.0"/>
<line x1="480.22" y1="458.56" x2="486.62" y2="458.56" stroke="#e8432e" stroke-width="1.0"/>
<circle cx="478.72" cy="448.57" r="1.70" fill="#e8432e"/>
<circle cx="488.12" cy="449.73" r="1.70" fill="#e8432e"/>
<circle cx="483.42" cy="459.03" r="1.70" fill="#e8432e"/>
<text x="483.42" y="446.85" font-size="11" text-anchor="middle" font-weight="bold" fill="#111">**</text>
<text x="473.92" y="532.80" font-size="9.3" text-anchor="middle" font-weight="bold" fill="#111">WRN</text>
<rect x="509.65" y="411.44" width="11.10" height="112.66" fill="#b6f6b6"/>
<path d="M509.65 524.10 V411.44 H520.75 V524.10" fill="none" stroke="#14532d" stroke-width="1.5"/>
<line x1="515.20" y1="404.88" x2="515.20" y2="416.50" stroke="#14532d" stroke-width="1.0"/>
<line x1="512.00" y1="404.88" x2="518.40" y2="404.88" stroke="#14532d" stroke-width="1.0"/>
<line x1="512.00" y1="416.50" x2="518.40" y2="416.50" stroke="#14532d" stroke-width="1.0"/>
<circle cx="510.50" cy="407.90" r="1.70" fill="#14532d"/>
<circle cx="519.90" cy="407.90" r="1.70" fill="#14532d"/>
<circle cx="515.20" cy="416.03" r="1.70" fill="#14532d"/>
<rect x="528.75" y="412.60" width="11.10" height="111.50" fill="#f0a48c"/>
<path d="M528.75 524.10 V412.60 H539.85 V524.10" fill="none" stroke="#e8432e" stroke-width="1.5"/>
<line x1="534.30" y1="401.39" x2="534.30" y2="422.31" stroke="#e8432e" stroke-width="1.0"/>
<line x1="531.10" y1="401.39" x2="537.50" y2="401.39" stroke="#e8432e" stroke-width="1.0"/>
<line x1="531.10" y1="422.31" x2="537.50" y2="422.31" stroke="#e8432e" stroke-width="1.0"/>
<circle cx="534.30" cy="399.77" r="1.70" fill="#e8432e"/>
<circle cx="529.60" cy="417.20" r="1.70" fill="#e8432e"/>
<circle cx="539.00" cy="418.36" r="1.70" fill="#e8432e"/>
<text x="524.80" y="532.80" font-size="9.3" text-anchor="middle" font-weight="bold" fill="#111">MSH2</text>
<rect x="560.53" y="404.00" width="11.10" height="120.10" fill="#b6f6b6"/>
<path d="M560.53 524.10 V404.00 H571.63 V524.10" fill="none" stroke="#14532d" stroke-width="1.5"/>
<line x1="566.08" y1="399.77" x2="566.08" y2="406.74" stroke="#14532d" stroke-width="1.0"/>
<line x1="562.88" y1="399.77" x2="569.28" y2="399.77" stroke="#14532d" stroke-width="1.0"/>
<line x1="562.88" y1="406.74" x2="569.28" y2="406.74" stroke="#14532d" stroke-width="1.0"/>
<circle cx="566.08" cy="399.19" r="1.70" fill="#14532d"/>
<circle cx="561.38" cy="404.41" r="1.70" fill="#14532d"/>
<circle cx="570.78" cy="405.58" r="1.70" fill="#14532d"/>
<rect x="579.63" y="400.98" width="11.10" height="123.12" fill="#f0a48c"/>
<path d="M579.63 524.10 V400.98 H590.73 V524.10" fill="none" stroke="#e8432e" stroke-width="1.5"/>
<line x1="585.18" y1="399.07" x2="585.18" y2="401.39" stroke="#e8432e" stroke-width="1.0"/>
<line x1="581.98" y1="399.07" x2="588.38" y2="399.07" stroke="#e8432e" stroke-width="1.0"/>
<line x1="581.98" y1="401.39" x2="588.38" y2="401.39" stroke="#e8432e" stroke-width="1.0"/>
<circle cx="580.48" cy="398.60" r="1.70" fill="#e8432e"/>
<circle cx="589.88" cy="400.35" r="1.70" fill="#e8432e"/>
<circle cx="585.18" cy="400.93" r="1.70" fill="#e8432e"/>
<text x="575.68" y="532.80" font-size="9.3" text-anchor="middle" font-weight="bold" fill="#111">SMARCAL1</text>
<line x1="248.20" y1="407.90" x2="597.50" y2="407.90" stroke="#111" stroke-width="1.1" stroke-dasharray="1.3 2.1"/>
<line x1="248.20" y1="349.20" x2="248.20" y2="524.60" stroke="#000" stroke-width="1.3"/>
<line x1="244.20" y1="524.10" x2="248.20" y2="524.10" stroke="#000" stroke-width="1.3"/>
<text x="242.70" y="527.20" font-size="8.6" text-anchor="end" font-weight="bold" fill="#111">0.0</text>
<line x1="244.20" y1="466.00" x2="248.20" y2="466.00" stroke="#000" stroke-width="1.3"/>
<text x="242.70" y="469.10" font-size="8.6" text-anchor="end" font-weight="bold" fill="#111">0.5</text>
<line x1="244.20" y1="407.90" x2="248.20" y2="407.90" stroke="#000" stroke-width="1.3"/>
<text x="242.70" y="411.00" font-size="8.6" text-anchor="end" font-weight="bold" fill="#111">1.0</text>
<line x1="244.20" y1="349.80" x2="248.20" y2="349.80" stroke="#000" stroke-width="1.3"/>
<text x="242.70" y="352.90" font-size="8.6" text-anchor="end" font-weight="bold" fill="#111">1.5</text>
<line x1="247.70" y1="524.10" x2="598.30" y2="524.10" stroke="#000" stroke-width="1.4"/>
<text x="225.00" y="436.50" font-size="9.25" text-anchor="middle" font-weight="bold" fill="#111" transform="rotate(-90 225.00 436.50)">Relative protein amounts</text>
<text x="643.00" y="17.30" font-size="21" text-anchor="middle" font-weight="bold" fill="#111">B</text>
<text x="754.00" y="30.30" font-size="11.3" text-anchor="middle" font-weight="bold" fill="#111">UNT</text>
<text x="834.00" y="30.30" font-size="11.3" text-anchor="middle" font-weight="bold" fill="#111">NMe2</text>
<path d="M729.2 39.2 V35.6 Q729.2 34.7 730.2 34.7 H780.7 Q781.7 34.7 781.7 35.6 V39.2" stroke="#222" stroke-width="1.1" fill="none"/>
<path d="M809.2 39.2 V35.6 Q809.2 34.7 810.2 34.7 H860.9 Q861.9 34.7 861.9 35.6 V39.2" stroke="#222" stroke-width="1.1" fill="none"/>
<text x="734.00" y="51.00" font-size="11.0" text-anchor="middle" font-weight="bold" fill="#111">C</text>
<text x="775.20" y="51.00" font-size="11.0" text-anchor="middle" font-weight="bold" fill="#111">N</text>
<text x="814.20" y="51.00" font-size="11.0" text-anchor="middle" font-weight="bold" fill="#111">C</text>
<text x="857.50" y="51.00" font-size="11.0" text-anchor="middle" font-weight="bold" fill="#111">N</text>
<text x="708.80" y="66.50" font-size="11.15" text-anchor="end" font-weight="bold" fill="#111">BLM</text>
<text x="711.00" y="82.20" font-size="11.15" text-anchor="end" font-weight="bold" fill="#111">Vinculin</text>
<text x="709.40" y="98.50" font-size="11.05" text-anchor="end" font-weight="bold" fill="#111">Lamin B1</text>
<clipPath id="cB0"><rect x="713.40" y="55.90" width="162.10" height="13.00"/></clipPath>
<rect x="713.40" y="55.90" width="162.10" height="13.00" fill="#d4d4d4" stroke="none" stroke-width="1"/>
<g clip-path="url(#cB0)">
<g filter="url(#bl1)">
<rect x="762.40" y="56.00" width="28.00" height="6.00" fill="#0a0a0a" opacity="0.1"/>
<rect x="841.10" y="56.00" width="29.00" height="13.00" fill="#0a0a0a" opacity="0.14"/>
</g>
<g filter="url(#bl0)">
<rect x="761.65" y="60.70" width="29.50" height="3.00" rx="1.50" fill="#0a0a0a" opacity="0.95"/>
<rect x="803.00" y="61.10" width="27.00" height="1.80" rx="0.90" fill="#0a0a0a" opacity="0.16"/>
<rect x="840.35" y="59.10" width="30.50" height="5.60" rx="2.80" fill="#0a0a0a" opacity="1"/>
<rect x="842.60" y="63.75" width="26.00" height="3.50" rx="1.75" fill="#0a0a0a" opacity="0.35"/>
</g></g>
<clipPath id="cB1"><rect x="713.40" y="71.50" width="162.10" height="13.40"/></clipPath>
<rect x="713.40" y="71.50" width="162.10" height="13.40" fill="#d2d2d2" stroke="none" stroke-width="1"/>
<g clip-path="url(#cB1)">
<g filter="url(#bl1)">
<rect x="800.20" y="72.00" width="29.00" height="5.00" fill="#0a0a0a" opacity="0.1"/>
</g>
<g filter="url(#bl0)">
<rect x="719.40" y="77.95" width="28.00" height="2.30" rx="1.15" fill="#0a0a0a" opacity="0.95"/>
<rect x="762.50" y="78.50" width="25.00" height="1.40" rx="0.70" fill="#0a0a0a" opacity="0.2"/>
<rect x="799.45" y="74.40" width="30.50" height="5.00" rx="2.50" fill="#0a0a0a" opacity="1"/>
<rect x="843.95" y="76.40" width="26.50" height="2.40" rx="1.20" fill="#0a0a0a" opacity="0.85"/>
</g></g>
<clipPath id="cB2"><rect x="713.40" y="87.80" width="162.10" height="13.00"/></clipPath>
<rect x="713.40" y="87.80" width="162.10" height="13.00" fill="#d2d2d2" stroke="none" stroke-width="1"/>
<g clip-path="url(#cB2)">
<g filter="url(#bl0)">
<rect x="760.90" y="92.15" width="29.00" height="2.50" rx="1.25" fill="#0a0a0a" opacity="0.95"/>
<rect x="801.75" y="93.15" width="26.50" height="1.90" rx="0.95" fill="#0a0a0a" opacity="0.72"/>
<rect x="840.25" y="92.25" width="28.50" height="2.90" rx="1.45" fill="#0a0a0a" opacity="0.97"/>
</g></g>
<rect x="730.35" y="274.77" width="23.10" height="0.23" fill="#eeeeee"/>
<path d="M730.35 275.00 V274.77 H753.45 V275.00" fill="none" stroke="#2f1f8a" stroke-width="1.3"/>
<circle cx="735.70" cy="275.00" r="1.60" fill="#2f1f8a"/>
<circle cx="741.90" cy="275.00" r="1.60" fill="#2f1f8a"/>
<circle cx="748.10" cy="275.00" r="1.60" fill="#2f1f8a"/>
<rect x="768.25" y="226.59" width="23.10" height="48.41" fill="#eeeeee"/>
<path d="M768.25 275.00 V226.59 H791.35 V275.00" fill="none" stroke="#2f1f8a" stroke-width="1.3"/>
<line x1="779.80" y1="215.48" x2="779.80" y2="236.41" stroke="#2f1f8a" stroke-width="1.1"/>
<line x1="773.60" y1="215.48" x2="786.00" y2="215.48" stroke="#2f1f8a" stroke-width="1.1"/>
<line x1="773.60" y1="236.41" x2="786.00" y2="236.41" stroke="#2f1f8a" stroke-width="1.1"/>
<circle cx="776.80" cy="218.27" r="1.60" fill="#2f1f8a"/>
<circle cx="782.80" cy="219.66" r="1.60" fill="#2f1f8a"/>
<circle cx="779.80" cy="237.34" r="1.60" fill="#2f1f8a"/>
<rect x="805.65" y="272.39" width="23.10" height="2.60" fill="#eeeeee"/>
<path d="M805.65 275.00 V272.39 H828.75 V275.00" fill="none" stroke="#2f1f8a" stroke-width="1.3"/>
<line x1="817.20" y1="269.42" x2="817.20" y2="274.07" stroke="#2f1f8a" stroke-width="1.1"/>
<line x1="811.00" y1="269.42" x2="823.40" y2="269.42" stroke="#2f1f8a" stroke-width="1.1"/>
<line x1="811.00" y1="274.07" x2="823.40" y2="274.07" stroke="#2f1f8a" stroke-width="1.1"/>
<circle cx="811.00" cy="269.42" r="1.60" fill="#2f1f8a"/>
<circle cx="817.20" cy="273.14" r="1.60" fill="#2f1f8a"/>
<circle cx="823.40" cy="272.68" r="1.60" fill="#2f1f8a"/>
<rect x="843.25" y="154.75" width="23.10" height="120.25" fill="#eeeeee"/>
<path d="M843.25 275.00 V154.75 H866.35 V275.00" fill="none" stroke="#2f1f8a" stroke-width="1.3"/>
<line x1="854.80" y1="133.87" x2="854.80" y2="174.33" stroke="#2f1f8a" stroke-width="1.1"/>
<line x1="848.60" y1="133.87" x2="861.00" y2="133.87" stroke="#2f1f8a" stroke-width="1.1"/>
<line x1="848.60" y1="174.33" x2="861.00" y2="174.33" stroke="#2f1f8a" stroke-width="1.1"/>
<circle cx="854.80" cy="135.50" r="1.60" fill="#2f1f8a"/>
<circle cx="854.80" cy="150.38" r="1.60" fill="#2f1f8a"/>
<circle cx="854.80" cy="175.49" r="1.60" fill="#2f1f8a"/>
<line x1="717.40" y1="111.70" x2="717.40" y2="275.50" stroke="#000" stroke-width="1.3"/>
<line x1="713.40" y1="275.00" x2="717.40" y2="275.00" stroke="#000" stroke-width="1.3"/>
<text transform="translate(712.10 277.50) scale(1 .82)" font-size="8.6" text-anchor="end" font-weight="bold" fill="#111">0</text>
<line x1="713.40" y1="228.50" x2="717.40" y2="228.50" stroke="#000" stroke-width="1.3"/>
<text transform="translate(712.10 231.00) scale(1 .82)" font-size="8.6" text-anchor="end" font-weight="bold" fill="#111">1</text>
<line x1="713.40" y1="182.00" x2="717.40" y2="182.00" stroke="#000" stroke-width="1.3"/>
<text transform="translate(712.10 184.50) scale(1 .82)" font-size="8.6" text-anchor="end" font-weight="bold" fill="#111">2</text>
<line x1="713.40" y1="135.50" x2="717.40" y2="135.50" stroke="#000" stroke-width="1.3"/>
<text transform="translate(712.10 138.00) scale(1 .82)" font-size="8.6" text-anchor="end" font-weight="bold" fill="#111">3</text>
<line x1="716.90" y1="275.00" x2="880.00" y2="275.00" stroke="#000" stroke-width="1.4"/>
<line x1="731.50" y1="275.00" x2="752.50" y2="275.00" stroke="#2f1f8a" stroke-width="1.2"/>
<circle cx="735.70" cy="275.00" r="1.60" fill="#2f1f8a"/>
<circle cx="741.90" cy="275.00" r="1.60" fill="#2f1f8a"/>
<circle cx="748.10" cy="275.00" r="1.60" fill="#2f1f8a"/>
<text x="701.80" y="191.60" font-size="8.9" text-anchor="middle" font-weight="bold" fill="#111" transform="rotate(-90 701.80 191.60)" textLength="97.8" lengthAdjust="spacingAndGlyphs">Relative protein amounts</text>
<path d="M779.1 127.2 V122.0 H854.9 V127.2" stroke="#111" stroke-width="1.1" fill="none"/>
<text x="817.00" y="121.63" font-size="12.6" text-anchor="middle" font-weight="bold" fill="#111">**</text>
<text x="741.90" y="288.60" font-size="8.8" text-anchor="middle" font-weight="bold" fill="#111">C</text>
<text x="779.80" y="288.60" font-size="8.8" text-anchor="middle" font-weight="bold" fill="#111">N</text>
<text x="817.20" y="288.60" font-size="8.8" text-anchor="middle" font-weight="bold" fill="#111">C</text>
<text x="854.80" y="288.60" font-size="8.8" text-anchor="middle" font-weight="bold" fill="#111">N</text>
<path d="M738.2 290.9 V293.5 Q738.2 294.4 739.2 294.4 H782.5 Q783.5 294.4 783.5 293.5 V290.9" stroke="#222" stroke-width="1.0" fill="none"/>
<path d="M813.3 290.9 V293.5 Q813.3 294.4 814.3 294.4 H857.5 Q858.5 294.4 858.5 293.5 V290.9" stroke="#222" stroke-width="1.0" fill="none"/>
<text x="757.00" y="306.60" font-size="11.4" text-anchor="middle" font-weight="bold" fill="#111">UNT</text>
<text x="834.80" y="306.60" font-size="11.4" text-anchor="middle" font-weight="bold" fill="#111">NMe2</text>
<text x="924.00" y="17.80" font-size="21" text-anchor="middle" font-weight="bold" fill="#111">C</text>
<text x="996.70" y="26.70" font-size="10.9" text-anchor="middle" font-weight="bold" fill="#111">UNT</text>
<text x="1078.50" y="26.70" font-size="10.9" text-anchor="middle" font-weight="bold" fill="#111">NMe2</text>
<clipPath id="cC00"><rect x="949.90" y="34.70" width="84.30" height="84.60"/></clipPath>
<rect x="949.90" y="34.70" width="84.30" height="84.60" fill="#020103" stroke="none" stroke-width="1"/>
<g clip-path="url(#cC00)">
<ellipse cx="990.9" cy="78.7" rx="27" ry="12" fill="#2a1250" opacity=".32" filter="url(#bl4)" transform="rotate(-58 990.9 78.7)"/>
<g filter="url(#bl3)" fill="#5a2070">
<circle cx="979.8" cy="94.4" r="0.89" opacity="0.58"/>
<circle cx="996.2" cy="67.2" r="0.90" opacity="0.51"/>
<circle cx="978.0" cy="97.4" r="0.52" opacity="0.67"/>
<circle cx="1000.3" cy="56.1" r="0.65" opacity="0.61"/>
<circle cx="975.9" cy="88.2" r="0.59" opacity="0.44"/>
<circle cx="1003.9" cy="78.8" r="0.61" opacity="0.68"/>
<circle cx="1000.7" cy="81.3" r="0.91" opacity="0.36"/>
<circle cx="987.5" cy="67.1" r="0.50" opacity="0.46"/>
<circle cx="1000.1" cy="67.0" r="0.60" opacity="0.64"/>
<circle cx="997.4" cy="56.4" r="0.72" opacity="0.56"/>
<circle cx="1002.0" cy="82.2" r="0.80" opacity="0.59"/>
<circle cx="998.9" cy="66.2" r="0.64" opacity="0.54"/>
<circle cx="988.5" cy="75.4" r="0.93" opacity="0.45"/>
<circle cx="995.8" cy="82.8" r="0.91" opacity="0.66"/>
<circle cx="990.2" cy="68.6" r="0.92" opacity="0.66"/>
<circle cx="1002.5" cy="72.3" r="0.76" opacity="0.50"/>
<circle cx="986.1" cy="70.4" r="0.84" opacity="0.64"/>
<circle cx="986.5" cy="97.3" r="0.85" opacity="0.35"/>
<circle cx="980.0" cy="100.5" r="0.61" opacity="0.42"/>
<circle cx="997.4" cy="75.1" r="0.87" opacity="0.53"/>
<circle cx="973.6" cy="92.5" r="0.76" opacity="0.59"/>
<circle cx="980.3" cy="90.6" r="0.97" opacity="0.46"/>
<circle cx="999.4" cy="70.4" r="0.83" opacity="0.49"/>
<circle cx="996.3" cy="79.2" r="0.58" opacity="0.62"/>
<circle cx="977.1" cy="89.3" r="0.55" opacity="0.36"/>
<circle cx="987.3" cy="67.4" r="0.53" opacity="0.68"/>
<circle cx="988.9" cy="83.7" r="0.74" opacity="0.44"/>
<circle cx="983.4" cy="76.9" r="0.79" opacity="0.40"/>
<circle cx="974.8" cy="91.2" r="0.71" opacity="0.67"/>
<circle cx="1003.5" cy="80.3" r="0.70" opacity="0.40"/>
<circle cx="990.6" cy="65.1" r="1.00" opacity="0.46"/>
<circle cx="979.7" cy="86.3" r="0.65" opacity="0.67"/>
<circle cx="1006.2" cy="56.9" r="0.62" opacity="0.30"/>
<circle cx="974.8" cy="95.4" r="0.82" opacity="0.55"/>
<circle cx="1007.5" cy="66.6" r="0.68" opacity="0.57"/>
<circle cx="994.0" cy="84.2" r="0.59" opacity="0.69"/>
<circle cx="979.6" cy="102.0" r="0.68" opacity="0.62"/>
<circle cx="996.9" cy="69.5" r="0.59" opacity="0.45"/>
<circle cx="983.5" cy="77.5" r="0.58" opacity="0.64"/>
<circle cx="987.7" cy="73.5" r="0.81" opacity="0.55"/>
</g>
<g filter="url(#bl3)" fill="#c02a2a">
<circle cx="981.5" cy="96.6" r="0.65" opacity="0.34"/>
<circle cx="993.8" cy="92.6" r="0.65" opacity="0.39"/>
<circle cx="986.5" cy="81.5" r="0.70" opacity="0.64"/>
<circle cx="976.8" cy="72.0" r="0.50" opacity="0.34"/>
<circle cx="981.0" cy="99.6" r="0.48" opacity="0.53"/>
<circle cx="1001.3" cy="64.9" r="0.51" opacity="0.68"/>
<circle cx="995.4" cy="62.7" r="0.76" opacity="0.34"/>
<circle cx="1010.2" cy="65.2" r="0.49" opacity="0.67"/>
<circle cx="990.0" cy="91.6" r="0.72" opacity="0.44"/>
<circle cx="992.3" cy="77.1" r="0.49" opacity="0.55"/>
<circle cx="976.1" cy="99.1" r="0.63" opacity="0.38"/>
<circle cx="1004.3" cy="60.2" r="0.46" opacity="0.51"/>
<circle cx="985.2" cy="59.8" r="0.65" opacity="0.39"/>
<circle cx="991.8" cy="96.8" r="0.49" opacity="0.42"/>
<circle cx="994.5" cy="92.6" r="0.69" opacity="0.67"/>
<circle cx="992.7" cy="88.9" r="0.67" opacity="0.67"/>
<circle cx="987.0" cy="59.2" r="0.56" opacity="0.38"/>
<circle cx="987.8" cy="91.2" r="0.61" opacity="0.60"/>
<circle cx="986.3" cy="97.7" r="0.75" opacity="0.32"/>
<circle cx="1004.3" cy="82.1" r="0.45" opacity="0.50"/>
<circle cx="985.5" cy="78.6" r="0.52" opacity="0.37"/>
<circle cx="976.3" cy="84.1" r="0.55" opacity="0.66"/>
<circle cx="994.0" cy="53.4" r="0.68" opacity="0.34"/>
<circle cx="977.8" cy="79.0" r="0.67" opacity="0.45"/>
<circle cx="1000.1" cy="63.1" r="0.59" opacity="0.31"/>
<circle cx="1003.3" cy="84.5" r="0.73" opacity="0.44"/>
<circle cx="998.4" cy="51.0" r="0.65" opacity="0.53"/>
<circle cx="992.5" cy="62.1" r="0.59" opacity="0.43"/>
</g>
<g filter="url(#bl3)" fill="#e2322a">
<circle cx="1003.7" cy="37.1" r="1.1" opacity="1"/>
<circle cx="1014.4" cy="40.1" r="0.8" opacity="0.7"/>
<circle cx="989.9" cy="36.9" r="0.8" opacity="0.5"/>
<circle cx="980.7" cy="48.6" r="1.0" opacity="1"/>
<circle cx="996.5" cy="52.8" r="1.0" opacity="1"/>
<circle cx="1005.1" cy="56.2" r="1.7" opacity="1"/>
<circle cx="1003.7" cy="57.5" r="1.2" opacity="1"/>
<circle cx="1019.9" cy="56.7" r="0.8" opacity="0.6"/>
<circle cx="999.8" cy="58.7" r="1.0" opacity="1"/>
<circle cx="989.9" cy="57.2" r="0.9" opacity="1"/>
<circle cx="995.9" cy="62.6" r="1.3" opacity="1"/>
<circle cx="981.2" cy="65.0" r="1.0" opacity="1"/>
<circle cx="1002.7" cy="67.0" r="1.0" opacity="1"/>
<circle cx="984.6" cy="67.9" r="1.2" opacity="1"/>
<circle cx="987.0" cy="69.9" r="1.6" opacity="1"/>
<circle cx="973.9" cy="70.4" r="1.0" opacity="1"/>
<circle cx="992.9" cy="72.8" r="1.6" opacity="1"/>
<circle cx="990.9" cy="72.8" r="1.2" opacity="1"/>
<circle cx="1011.9" cy="72.1" r="1.5" opacity="1"/>
<circle cx="975.3" cy="74.7" r="1.2" opacity="1"/>
<circle cx="977.9" cy="74.7" r="1.1" opacity="1"/>
<circle cx="981.7" cy="78.5" r="1.5" opacity="1"/>
<circle cx="973.9" cy="83.6" r="1.2" opacity="1"/>
<circle cx="1000.4" cy="82.6" r="1.1" opacity="1"/>
<circle cx="1010.9" cy="83.6" r="0.9" opacity="1"/>
<circle cx="988.0" cy="86.0" r="1.2" opacity="1"/>
<circle cx="998.3" cy="87.0" r="1.6" opacity="1"/>
<circle cx="1000.9" cy="88.0" r="1.3" opacity="1"/>
<circle cx="973.9" cy="88.0" r="1.0" opacity="1"/>
<circle cx="1009.5" cy="87.0" r="0.8" opacity="1"/>
<circle cx="984.6" cy="90.4" r="1.0" opacity="1"/>
<circle cx="968.5" cy="91.4" r="1.0" opacity="1"/>
<circle cx="959.7" cy="94.8" r="0.9" opacity="1"/>
<circle cx="985.4" cy="96.8" r="1.4" opacity="1"/>
<circle cx="1009.8" cy="92.6" r="0.8" opacity="0.7"/>
<circle cx="969.6" cy="100.2" r="1.2" opacity="1"/>
<circle cx="992.4" cy="102.6" r="1.3" opacity="1"/>
<circle cx="1000.7" cy="100.7" r="0.9" opacity="1"/>
<circle cx="970.6" cy="106.7" r="0.9" opacity="1"/>
<circle cx="979.0" cy="107.8" r="1.0" opacity="1"/>
<circle cx="981.2" cy="110.5" r="1.1" opacity="1"/>
<circle cx="982.6" cy="100.2" r="0.9" opacity="1"/>
<circle cx="996.4" cy="90.7" r="0.9" opacity="1"/>
<circle cx="987.9" cy="92.7" r="0.9" opacity="1"/>
</g>
<g filter="url(#bl3)" fill="#38c084">
<circle cx="987.5" cy="43.5" r="0.7" opacity="1"/>
<circle cx="986.4" cy="62.9" r="0.9" opacity="1"/>
<circle cx="1008.6" cy="53.6" r="0.6" opacity="0.7"/>
<circle cx="1022.5" cy="61.4" r="0.7" opacity="1"/>
<circle cx="963.3" cy="83.3" r="0.5" opacity="0.6"/>
</g>
<line x1="952.70" y1="116.50" x2="989.10" y2="116.50" stroke="#74747e" stroke-width="1.0"/>
</g>
<clipPath id="cC01"><rect x="1037.60" y="34.70" width="85.10" height="84.60"/></clipPath>
<rect x="1037.60" y="34.70" width="85.10" height="84.60" fill="#020103" stroke="none" stroke-width="1"/>
<g clip-path="url(#cC01)">
<ellipse cx="1081.1" cy="78.9" rx="36.4" ry="35.4" fill="#211759" filter="url(#bl5)" transform="rotate(0 1081.1 78.9)"/>
<g filter="url(#bl5)" fill="#120b3c">
<circle cx="1086.7" cy="58.5" r="2.54" opacity="0.57"/>
<circle cx="1078.8" cy="89.8" r="1.34" opacity="0.33"/>
<circle cx="1066.6" cy="91.8" r="1.34" opacity="0.59"/>
<circle cx="1052.8" cy="96.9" r="1.59" opacity="0.42"/>
<circle cx="1069.1" cy="88.1" r="1.65" opacity="0.32"/>
<circle cx="1076.3" cy="65.8" r="1.18" opacity="0.54"/>
<circle cx="1093.5" cy="89.9" r="2.41" opacity="0.39"/>
<circle cx="1072.8" cy="73.8" r="1.65" opacity="0.48"/>
<circle cx="1047.1" cy="76.5" r="1.86" opacity="0.37"/>
<circle cx="1047.3" cy="83.2" r="1.25" opacity="0.26"/>
<circle cx="1057.1" cy="91.2" r="2.17" opacity="0.38"/>
<circle cx="1091.6" cy="77.2" r="1.80" opacity="0.56"/>
<circle cx="1068.1" cy="103.6" r="2.11" opacity="0.49"/>
<circle cx="1048.9" cy="68.6" r="2.51" opacity="0.56"/>
<circle cx="1095.3" cy="97.2" r="2.29" opacity="0.53"/>
<circle cx="1056.4" cy="57.4" r="2.27" opacity="0.51"/>
<circle cx="1108.1" cy="75.3" r="2.42" opacity="0.30"/>
<circle cx="1069.9" cy="50.0" r="1.88" opacity="0.49"/>
<circle cx="1070.8" cy="49.3" r="1.45" opacity="0.54"/>
<circle cx="1063.9" cy="59.2" r="1.18" opacity="0.59"/>
<circle cx="1108.7" cy="66.8" r="1.15" opacity="0.48"/>
<circle cx="1090.3" cy="102.7" r="1.73" opacity="0.45"/>
<circle cx="1102.0" cy="61.4" r="1.44" opacity="0.48"/>
<circle cx="1084.7" cy="81.3" r="1.53" opacity="0.58"/>
<circle cx="1066.5" cy="90.8" r="2.43" opacity="0.39"/>
<circle cx="1055.0" cy="68.4" r="1.59" opacity="0.41"/>
<circle cx="1092.5" cy="90.7" r="2.10" opacity="0.38"/>
<circle cx="1092.3" cy="82.2" r="1.20" opacity="0.44"/>
<circle cx="1068.6" cy="90.7" r="2.18" opacity="0.33"/>
<circle cx="1076.6" cy="75.9" r="1.48" opacity="0.26"/>
<circle cx="1097.6" cy="74.8" r="2.07" opacity="0.34"/>
<circle cx="1095.6" cy="109.0" r="2.24" opacity="0.41"/>
<circle cx="1050.7" cy="73.0" r="1.72" opacity="0.35"/>
<circle cx="1089.1" cy="55.1" r="2.20" opacity="0.55"/>
<circle cx="1050.9" cy="91.7" r="1.43" opacity="0.47"/>
<circle cx="1101.6" cy="68.1" r="2.17" opacity="0.30"/>
<circle cx="1095.8" cy="73.4" r="1.42" opacity="0.33"/>
<circle cx="1061.6" cy="98.7" r="1.15" opacity="0.33"/>
<circle cx="1059.9" cy="56.1" r="2.17" opacity="0.46"/>
<circle cx="1092.4" cy="105.6" r="1.72" opacity="0.26"/>
<circle cx="1059.7" cy="80.0" r="2.14" opacity="0.57"/>
<circle cx="1081.9" cy="60.6" r="1.95" opacity="0.58"/>
<circle cx="1069.6" cy="107.7" r="2.45" opacity="0.45"/>
<circle cx="1079.8" cy="54.1" r="1.18" opacity="0.26"/>
<circle cx="1088.8" cy="93.1" r="2.59" opacity="0.46"/>
<circle cx="1066.5" cy="81.0" r="2.58" opacity="0.35"/>
<circle cx="1062.9" cy="93.8" r="1.62" opacity="0.45"/>
<circle cx="1057.1" cy="102.5" r="2.47" opacity="0.51"/>
<circle cx="1111.1" cy="67.7" r="1.05" opacity="0.36"/>
<circle cx="1108.5" cy="76.9" r="1.32" opacity="0.30"/>
<circle cx="1058.0" cy="74.8" r="2.48" opacity="0.56"/>
<circle cx="1098.8" cy="96.0" r="1.31" opacity="0.52"/>
<circle cx="1062.1" cy="80.6" r="1.05" opacity="0.56"/>
<circle cx="1055.5" cy="85.1" r="2.06" opacity="0.48"/>
<circle cx="1093.6" cy="70.2" r="2.27" opacity="0.58"/>
<circle cx="1089.2" cy="110.9" r="2.36" opacity="0.27"/>
<circle cx="1092.9" cy="51.6" r="2.06" opacity="0.38"/>
<circle cx="1059.5" cy="91.4" r="2.27" opacity="0.50"/>
<circle cx="1096.8" cy="91.2" r="1.46" opacity="0.39"/>
<circle cx="1098.8" cy="80.0" r="1.78" opacity="0.57"/>
<circle cx="1075.6" cy="102.9" r="1.07" opacity="0.44"/>
<circle cx="1094.6" cy="64.6" r="2.00" opacity="0.47"/>
<circle cx="1063.4" cy="54.6" r="1.71" opacity="0.27"/>
<circle cx="1053.7" cy="96.4" r="1.16" opacity="0.44"/>
<circle cx="1107.6" cy="75.8" r="2.30" opacity="0.54"/>
<circle cx="1100.7" cy="103.4" r="2.36" opacity="0.50"/>
<circle cx="1081.8" cy="109.5" r="2.18" opacity="0.52"/>
<circle cx="1097.7" cy="84.5" r="1.02" opacity="0.34"/>
<circle cx="1096.0" cy="80.8" r="1.90" opacity="0.35"/>
<circle cx="1085.7" cy="104.2" r="2.57" opacity="0.44"/>
<circle cx="1097.0" cy="51.3" r="1.22" opacity="0.45"/>
<circle cx="1056.8" cy="78.9" r="1.49" opacity="0.30"/>
<circle cx="1057.6" cy="73.9" r="2.27" opacity="0.31"/>
<circle cx="1064.0" cy="90.2" r="1.01" opacity="0.36"/>
<circle cx="1057.3" cy="60.9" r="2.42" opacity="0.31"/>
<circle cx="1096.2" cy="106.3" r="1.39" opacity="0.55"/>
<circle cx="1068.8" cy="97.1" r="1.93" opacity="0.37"/>
<circle cx="1107.7" cy="92.0" r="1.51" opacity="0.45"/>
<circle cx="1067.0" cy="64.6" r="2.50" opacity="0.59"/>
<circle cx="1054.1" cy="74.6" r="2.42" opacity="0.56"/>
<circle cx="1064.0" cy="75.3" r="2.48" opacity="0.32"/>
<circle cx="1053.9" cy="73.2" r="2.09" opacity="0.56"/>
<circle cx="1058.8" cy="54.1" r="1.95" opacity="0.39"/>
<circle cx="1110.2" cy="86.6" r="1.98" opacity="0.49"/>
<circle cx="1060.8" cy="105.3" r="2.38" opacity="0.54"/>
<circle cx="1100.5" cy="57.0" r="1.09" opacity="0.38"/>
<circle cx="1096.0" cy="58.9" r="2.39" opacity="0.55"/>
<circle cx="1094.6" cy="77.8" r="1.24" opacity="0.53"/>
<circle cx="1058.6" cy="78.6" r="2.21" opacity="0.47"/>
<circle cx="1062.9" cy="104.2" r="1.51" opacity="0.40"/>
<circle cx="1076.9" cy="92.4" r="1.06" opacity="0.47"/>
<circle cx="1080.3" cy="99.0" r="1.59" opacity="0.45"/>
<circle cx="1101.2" cy="76.8" r="1.48" opacity="0.35"/>
<circle cx="1061.7" cy="101.8" r="1.32" opacity="0.59"/>
<circle cx="1082.2" cy="64.5" r="2.25" opacity="0.45"/>
<circle cx="1059.3" cy="73.2" r="1.50" opacity="0.35"/>
<circle cx="1085.9" cy="95.4" r="1.67" opacity="0.43"/>
<circle cx="1100.5" cy="60.6" r="2.60" opacity="0.26"/>
<circle cx="1072.2" cy="100.6" r="1.38" opacity="0.37"/>
<circle cx="1083.8" cy="55.7" r="1.03" opacity="0.33"/>
<circle cx="1095.0" cy="80.8" r="1.46" opacity="0.45"/>
<circle cx="1052.4" cy="68.4" r="1.16" opacity="0.54"/>
<circle cx="1073.0" cy="93.3" r="1.54" opacity="0.40"/>
<circle cx="1086.3" cy="62.8" r="1.88" opacity="0.52"/>
<circle cx="1048.1" cy="78.1" r="1.18" opacity="0.43"/>
<circle cx="1057.8" cy="80.6" r="1.45" opacity="0.51"/>
<circle cx="1078.6" cy="104.9" r="2.38" opacity="0.37"/>
<circle cx="1057.5" cy="95.7" r="2.10" opacity="0.47"/>
<circle cx="1095.6" cy="64.1" r="2.33" opacity="0.50"/>
<circle cx="1092.3" cy="93.8" r="2.49" opacity="0.56"/>
</g>
<g filter="url(#bl5)" fill="#3a2a94">
<circle cx="1061.4" cy="59.1" r="1.01" opacity="0.32"/>
<circle cx="1076.0" cy="71.1" r="1.97" opacity="0.38"/>
<circle cx="1101.4" cy="102.4" r="1.89" opacity="0.35"/>
<circle cx="1075.0" cy="81.2" r="1.50" opacity="0.40"/>
<circle cx="1104.6" cy="90.3" r="1.23" opacity="0.37"/>
<circle cx="1078.1" cy="54.5" r="1.04" opacity="0.34"/>
<circle cx="1110.6" cy="92.1" r="0.97" opacity="0.47"/>
<circle cx="1096.1" cy="85.6" r="0.91" opacity="0.29"/>
<circle cx="1070.0" cy="77.8" r="1.06" opacity="0.39"/>
<circle cx="1088.6" cy="88.0" r="1.54" opacity="0.37"/>
<circle cx="1099.0" cy="62.2" r="1.28" opacity="0.22"/>
<circle cx="1100.2" cy="102.2" r="2.12" opacity="0.38"/>
<circle cx="1101.1" cy="101.3" r="1.06" opacity="0.22"/>
<circle cx="1095.5" cy="86.6" r="1.41" opacity="0.46"/>
<circle cx="1066.7" cy="50.0" r="1.94" opacity="0.22"/>
<circle cx="1095.5" cy="88.6" r="1.04" opacity="0.33"/>
<circle cx="1065.9" cy="98.8" r="1.91" opacity="0.30"/>
<circle cx="1058.0" cy="68.7" r="1.47" opacity="0.38"/>
<circle cx="1111.0" cy="67.3" r="1.09" opacity="0.39"/>
<circle cx="1076.1" cy="94.5" r="1.76" opacity="0.36"/>
<circle cx="1102.2" cy="59.2" r="1.92" opacity="0.25"/>
<circle cx="1079.7" cy="82.5" r="1.61" opacity="0.23"/>
<circle cx="1078.4" cy="64.7" r="1.26" opacity="0.33"/>
<circle cx="1075.3" cy="59.9" r="1.79" opacity="0.48"/>
<circle cx="1063.2" cy="72.9" r="1.67" opacity="0.41"/>
<circle cx="1087.1" cy="78.4" r="2.20" opacity="0.49"/>
<circle cx="1101.4" cy="62.8" r="1.90" opacity="0.21"/>
<circle cx="1111.0" cy="91.9" r="2.10" opacity="0.33"/>
<circle cx="1095.2" cy="62.7" r="2.10" opacity="0.25"/>
<circle cx="1092.1" cy="81.3" r="1.95" opacity="0.41"/>
<circle cx="1067.0" cy="55.2" r="1.62" opacity="0.42"/>
<circle cx="1059.8" cy="78.7" r="1.22" opacity="0.21"/>
<circle cx="1065.4" cy="63.7" r="1.79" opacity="0.49"/>
<circle cx="1052.2" cy="78.3" r="1.50" opacity="0.39"/>
<circle cx="1066.1" cy="84.0" r="1.43" opacity="0.37"/>
<circle cx="1106.5" cy="86.5" r="1.34" opacity="0.49"/>
<circle cx="1092.7" cy="62.4" r="2.18" opacity="0.46"/>
<circle cx="1081.7" cy="98.9" r="1.02" opacity="0.28"/>
<circle cx="1079.7" cy="107.7" r="1.38" opacity="0.50"/>
<circle cx="1086.4" cy="93.0" r="1.92" opacity="0.24"/>
<circle cx="1109.1" cy="84.9" r="1.06" opacity="0.25"/>
<circle cx="1101.1" cy="82.9" r="2.11" opacity="0.46"/>
<circle cx="1084.4" cy="73.6" r="1.89" opacity="0.49"/>
<circle cx="1068.2" cy="80.2" r="1.05" opacity="0.21"/>
<circle cx="1051.8" cy="70.8" r="1.70" opacity="0.46"/>
<circle cx="1064.7" cy="101.8" r="1.32" opacity="0.31"/>
<circle cx="1084.0" cy="111.1" r="1.50" opacity="0.22"/>
<circle cx="1072.2" cy="83.3" r="1.79" opacity="0.25"/>
<circle cx="1066.7" cy="57.3" r="1.57" opacity="0.32"/>
<circle cx="1069.0" cy="79.4" r="1.88" opacity="0.38"/>
<circle cx="1096.7" cy="72.7" r="2.10" opacity="0.24"/>
<circle cx="1079.8" cy="67.5" r="1.16" opacity="0.20"/>
<circle cx="1089.9" cy="109.1" r="1.23" opacity="0.38"/>
<circle cx="1106.7" cy="74.9" r="2.10" opacity="0.21"/>
<circle cx="1085.9" cy="96.9" r="1.54" opacity="0.45"/>
<circle cx="1079.7" cy="91.3" r="2.03" opacity="0.39"/>
<circle cx="1088.5" cy="54.0" r="1.11" opacity="0.49"/>
<circle cx="1081.2" cy="110.6" r="1.99" opacity="0.43"/>
<circle cx="1075.7" cy="61.7" r="0.99" opacity="0.27"/>
<circle cx="1080.9" cy="86.0" r="1.10" opacity="0.34"/>
<circle cx="1072.3" cy="103.4" r="1.29" opacity="0.45"/>
<circle cx="1090.7" cy="107.2" r="1.26" opacity="0.28"/>
<circle cx="1080.2" cy="63.4" r="1.68" opacity="0.49"/>
<circle cx="1083.2" cy="59.0" r="0.97" opacity="0.39"/>
<circle cx="1077.5" cy="47.1" r="1.38" opacity="0.44"/>
<circle cx="1089.6" cy="68.2" r="2.15" opacity="0.49"/>
<circle cx="1088.5" cy="68.5" r="1.18" opacity="0.44"/>
<circle cx="1108.0" cy="78.4" r="2.15" opacity="0.37"/>
<circle cx="1089.7" cy="79.9" r="1.93" opacity="0.47"/>
<circle cx="1081.2" cy="77.4" r="1.93" opacity="0.45"/>
</g>
<g filter="url(#bl3)" fill="#2fb088">
<circle cx="1092.2" cy="55.8" r="0.61" opacity="0.57"/>
<circle cx="1049.3" cy="68.9" r="0.71" opacity="0.42"/>
<circle cx="1056.2" cy="88.3" r="0.95" opacity="0.48"/>
<circle cx="1096.7" cy="73.0" r="0.55" opacity="0.91"/>
<circle cx="1053.9" cy="77.6" r="0.56" opacity="0.52"/>
<circle cx="1070.8" cy="70.7" r="0.78" opacity="0.93"/>
<circle cx="1089.0" cy="75.6" r="0.92" opacity="0.62"/>
<circle cx="1095.1" cy="75.3" r="0.89" opacity="0.41"/>
<circle cx="1058.2" cy="92.3" r="0.88" opacity="0.57"/>
<circle cx="1049.0" cy="86.5" r="0.60" opacity="0.58"/>
<circle cx="1102.6" cy="99.4" r="0.92" opacity="0.41"/>
<circle cx="1100.2" cy="103.3" r="0.92" opacity="0.81"/>
<circle cx="1051.7" cy="92.9" r="0.60" opacity="0.83"/>
<circle cx="1075.2" cy="96.1" r="0.60" opacity="0.68"/>
<circle cx="1096.4" cy="95.1" r="0.63" opacity="0.49"/>
<circle cx="1105.5" cy="98.6" r="0.78" opacity="0.36"/>
<circle cx="1096.4" cy="96.2" r="0.84" opacity="0.93"/>
<circle cx="1090.4" cy="100.4" r="0.66" opacity="0.52"/>
<circle cx="1053.6" cy="87.3" r="0.86" opacity="0.72"/>
<circle cx="1073.3" cy="68.9" r="0.96" opacity="0.43"/>
<circle cx="1052.4" cy="95.7" r="0.56" opacity="0.58"/>
<circle cx="1085.3" cy="91.0" r="0.67" opacity="0.73"/>
<circle cx="1092.1" cy="100.7" r="0.76" opacity="0.91"/>
<circle cx="1077.7" cy="107.2" r="0.73" opacity="0.79"/>
<circle cx="1066.5" cy="87.6" r="0.89" opacity="0.39"/>
<circle cx="1100.3" cy="50.6" r="0.91" opacity="0.44"/>
<circle cx="1062.9" cy="66.3" r="0.67" opacity="0.71"/>
<circle cx="1070.5" cy="100.8" r="0.72" opacity="0.82"/>
<circle cx="1068.2" cy="81.0" r="0.81" opacity="0.56"/>
<circle cx="1101.1" cy="87.5" r="0.80" opacity="0.75"/>
<circle cx="1062.1" cy="66.7" r="0.94" opacity="0.77"/>
<circle cx="1078.6" cy="112.8" r="0.97" opacity="0.78"/>
<circle cx="1054.5" cy="71.5" r="0.73" opacity="0.69"/>
<circle cx="1066.9" cy="76.5" r="0.95" opacity="0.42"/>
<circle cx="1052.2" cy="81.0" r="0.56" opacity="0.57"/>
<circle cx="1063.5" cy="97.3" r="0.63" opacity="0.66"/>
<circle cx="1106.9" cy="90.8" r="0.73" opacity="0.46"/>
<circle cx="1094.3" cy="62.3" r="0.66" opacity="0.87"/>
<circle cx="1104.3" cy="101.5" r="0.69" opacity="0.78"/>
<circle cx="1096.0" cy="49.3" r="0.57" opacity="0.52"/>
<circle cx="1102.0" cy="67.8" r="0.57" opacity="0.63"/>
<circle cx="1057.4" cy="73.0" r="0.87" opacity="0.65"/>
<circle cx="1084.1" cy="79.7" r="0.98" opacity="0.91"/>
<circle cx="1081.9" cy="53.0" r="0.86" opacity="0.44"/>
<circle cx="1076.9" cy="103.2" r="0.77" opacity="0.82"/>
<circle cx="1083.2" cy="94.1" r="0.78" opacity="0.79"/>
<circle cx="1071.0" cy="63.2" r="0.91" opacity="0.82"/>
<circle cx="1101.5" cy="90.8" r="0.91" opacity="0.69"/>
<circle cx="1092.5" cy="92.0" r="0.73" opacity="0.37"/>
<circle cx="1068.8" cy="74.2" r="0.60" opacity="0.91"/>
<circle cx="1051.5" cy="74.3" r="0.56" opacity="0.87"/>
<circle cx="1094.9" cy="97.3" r="0.81" opacity="0.76"/>
<circle cx="1065.0" cy="52.7" r="0.76" opacity="0.39"/>
<circle cx="1090.7" cy="86.1" r="0.87" opacity="0.85"/>
<circle cx="1077.2" cy="80.3" r="0.87" opacity="0.55"/>
<circle cx="1111.7" cy="81.2" r="0.77" opacity="0.76"/>
<circle cx="1109.9" cy="95.1" r="0.95" opacity="0.46"/>
<circle cx="1088.1" cy="94.3" r="0.64" opacity="0.71"/>
<circle cx="1060.7" cy="85.1" r="0.99" opacity="0.87"/>
<circle cx="1065.5" cy="49.1" r="0.66" opacity="0.67"/>
<circle cx="1069.9" cy="75.2" r="0.78" opacity="0.90"/>
<circle cx="1070.9" cy="72.6" r="0.69" opacity="0.68"/>
<circle cx="1057.2" cy="79.9" r="0.78" opacity="0.83"/>
<circle cx="1084.5" cy="107.5" r="0.70" opacity="0.64"/>
<circle cx="1096.8" cy="92.5" r="0.98" opacity="0.38"/>
<circle cx="1106.2" cy="97.4" r="0.95" opacity="0.44"/>
<circle cx="1064.5" cy="94.9" r="0.85" opacity="0.41"/>
<circle cx="1096.5" cy="70.5" r="0.76" opacity="0.45"/>
<circle cx="1100.4" cy="70.1" r="0.89" opacity="0.68"/>
<circle cx="1090.8" cy="83.8" r="0.74" opacity="0.92"/>
<circle cx="1099.6" cy="72.3" r="0.79" opacity="0.52"/>
<circle cx="1055.2" cy="63.7" r="0.93" opacity="0.49"/>
<circle cx="1059.4" cy="93.4" r="0.59" opacity="0.83"/>
<circle cx="1101.3" cy="59.6" r="0.59" opacity="0.80"/>
<circle cx="1111.3" cy="69.5" r="0.68" opacity="0.65"/>
<circle cx="1093.6" cy="70.9" r="0.76" opacity="0.87"/>
<circle cx="1064.9" cy="70.5" r="0.64" opacity="0.94"/>
<circle cx="1101.3" cy="61.1" r="0.90" opacity="0.92"/>
<circle cx="1067.4" cy="67.4" r="0.68" opacity="0.86"/>
<circle cx="1077.7" cy="103.0" r="0.73" opacity="0.80"/>
<circle cx="1112.9" cy="77.9" r="0.63" opacity="0.88"/>
<circle cx="1113.5" cy="72.5" r="0.95" opacity="0.95"/>
<circle cx="1077.9" cy="67.1" r="0.66" opacity="0.50"/>
<circle cx="1065.4" cy="55.8" r="0.55" opacity="0.54"/>
<circle cx="1054.2" cy="96.1" r="0.73" opacity="0.94"/>
<circle cx="1094.0" cy="61.6" r="0.86" opacity="0.71"/>
<circle cx="1065.1" cy="56.9" r="0.74" opacity="0.55"/>
<circle cx="1062.0" cy="98.9" r="0.69" opacity="0.66"/>
<circle cx="1071.5" cy="88.1" r="0.63" opacity="0.57"/>
<circle cx="1065.4" cy="84.4" r="0.81" opacity="0.87"/>
<circle cx="1098.6" cy="102.4" r="0.97" opacity="0.49"/>
<circle cx="1087.0" cy="57.5" r="0.83" opacity="0.79"/>
<circle cx="1106.7" cy="80.4" r="0.80" opacity="0.53"/>
<circle cx="1052.8" cy="73.7" r="0.63" opacity="0.76"/>
<circle cx="1062.7" cy="70.9" r="0.56" opacity="0.54"/>
<circle cx="1081.5" cy="95.2" r="0.97" opacity="0.74"/>
<circle cx="1105.7" cy="102.3" r="0.91" opacity="0.78"/>
<circle cx="1098.8" cy="74.4" r="0.58" opacity="0.48"/>
<circle cx="1079.0" cy="79.2" r="1.00" opacity="0.57"/>
<circle cx="1076.6" cy="96.6" r="0.68" opacity="0.58"/>
<circle cx="1058.4" cy="78.1" r="0.62" opacity="0.72"/>
<circle cx="1077.5" cy="57.9" r="0.67" opacity="0.70"/>
<circle cx="1113.8" cy="71.5" r="0.86" opacity="0.50"/>
<circle cx="1058.2" cy="98.1" r="0.97" opacity="0.50"/>
<circle cx="1067.5" cy="87.6" r="0.62" opacity="0.47"/>
<circle cx="1080.5" cy="74.6" r="0.67" opacity="0.65"/>
<circle cx="1065.6" cy="72.5" r="0.90" opacity="0.70"/>
<circle cx="1076.8" cy="76.0" r="0.99" opacity="0.93"/>
<circle cx="1107.4" cy="96.2" r="0.74" opacity="0.66"/>
<circle cx="1089.8" cy="52.1" r="0.89" opacity="0.53"/>
<circle cx="1097.8" cy="82.2" r="0.61" opacity="0.66"/>
<circle cx="1055.4" cy="70.3" r="0.82" opacity="0.59"/>
<circle cx="1074.4" cy="90.2" r="0.66" opacity="0.53"/>
<circle cx="1078.9" cy="108.5" r="0.73" opacity="0.39"/>
<circle cx="1062.2" cy="80.3" r="0.99" opacity="0.74"/>
<circle cx="1083.4" cy="61.0" r="0.70" opacity="0.88"/>
<circle cx="1114.8" cy="70.0" r="0.84" opacity="0.77"/>
<circle cx="1097.0" cy="64.2" r="0.66" opacity="0.57"/>
<circle cx="1079.9" cy="60.2" r="0.57" opacity="0.90"/>
<circle cx="1071.0" cy="78.3" r="0.68" opacity="0.92"/>
<circle cx="1092.0" cy="103.4" r="0.65" opacity="0.81"/>
<circle cx="1076.8" cy="61.7" r="0.84" opacity="0.41"/>
<circle cx="1102.6" cy="74.8" r="0.61" opacity="0.81"/>
<circle cx="1061.8" cy="63.5" r="0.57" opacity="0.40"/>
<circle cx="1106.5" cy="99.0" r="0.75" opacity="0.85"/>
<circle cx="1065.7" cy="74.0" r="0.73" opacity="0.57"/>
<circle cx="1082.4" cy="77.7" r="0.87" opacity="0.81"/>
<circle cx="1072.4" cy="74.2" r="0.80" opacity="0.44"/>
<circle cx="1099.4" cy="55.6" r="0.60" opacity="0.80"/>
<circle cx="1093.1" cy="74.9" r="0.61" opacity="0.89"/>
<circle cx="1062.7" cy="53.4" r="0.88" opacity="0.49"/>
<circle cx="1076.9" cy="97.0" r="0.62" opacity="0.76"/>
<circle cx="1068.8" cy="57.7" r="0.87" opacity="0.91"/>
<circle cx="1084.3" cy="98.3" r="0.72" opacity="0.56"/>
<circle cx="1095.6" cy="90.4" r="0.56" opacity="0.48"/>
<circle cx="1093.6" cy="79.2" r="0.61" opacity="0.56"/>
<circle cx="1085.0" cy="110.0" r="0.98" opacity="0.69"/>
<circle cx="1107.6" cy="97.7" r="0.83" opacity="0.92"/>
<circle cx="1084.4" cy="94.8" r="0.73" opacity="0.35"/>
<circle cx="1109.3" cy="76.3" r="0.57" opacity="0.83"/>
<circle cx="1055.1" cy="63.1" r="0.92" opacity="0.76"/>
<circle cx="1070.1" cy="70.4" r="0.62" opacity="0.83"/>
<circle cx="1105.9" cy="74.2" r="0.91" opacity="0.95"/>
<circle cx="1091.4" cy="78.4" r="0.85" opacity="0.68"/>
<circle cx="1071.4" cy="78.9" r="0.93" opacity="0.51"/>
<circle cx="1058.0" cy="57.9" r="0.68" opacity="0.93"/>
<circle cx="1084.9" cy="101.1" r="0.87" opacity="0.84"/>
<circle cx="1091.1" cy="97.1" r="0.90" opacity="0.58"/>
<circle cx="1072.4" cy="106.7" r="0.90" opacity="0.55"/>
<circle cx="1096.1" cy="50.2" r="0.90" opacity="0.52"/>
<circle cx="1056.0" cy="85.5" r="0.79" opacity="0.70"/>
<circle cx="1062.0" cy="102.7" r="0.84" opacity="0.36"/>
<circle cx="1052.0" cy="90.2" r="0.81" opacity="0.42"/>
<circle cx="1061.1" cy="70.6" r="0.94" opacity="0.45"/>
<circle cx="1070.7" cy="50.3" r="0.76" opacity="0.62"/>
<circle cx="1061.4" cy="69.6" r="0.80" opacity="0.77"/>
<circle cx="1108.6" cy="73.9" r="0.62" opacity="0.55"/>
<circle cx="1063.4" cy="103.1" r="0.55" opacity="0.48"/>
<circle cx="1083.9" cy="59.7" r="0.94" opacity="0.41"/>
<circle cx="1110.7" cy="90.2" r="0.94" opacity="0.65"/>
<circle cx="1073.1" cy="83.4" r="0.89" opacity="0.43"/>
<circle cx="1062.7" cy="66.6" r="0.62" opacity="0.87"/>
<circle cx="1091.6" cy="67.1" r="0.88" opacity="0.81"/>
<circle cx="1068.0" cy="96.4" r="0.88" opacity="0.82"/>
<circle cx="1074.5" cy="73.8" r="0.75" opacity="0.94"/>
<circle cx="1087.6" cy="105.9" r="0.73" opacity="0.60"/>
<circle cx="1066.0" cy="88.6" r="0.92" opacity="0.78"/>
<circle cx="1060.6" cy="59.8" r="0.61" opacity="0.47"/>
<circle cx="1101.5" cy="101.8" r="0.91" opacity="0.43"/>
<circle cx="1068.0" cy="98.8" r="0.75" opacity="0.36"/>
<circle cx="1085.0" cy="52.7" r="0.95" opacity="0.79"/>
<circle cx="1082.7" cy="103.5" r="0.97" opacity="0.51"/>
<circle cx="1086.5" cy="97.5" r="0.57" opacity="0.48"/>
<circle cx="1113.3" cy="75.9" r="0.97" opacity="0.66"/>
<circle cx="1096.5" cy="101.8" r="0.94" opacity="0.68"/>
<circle cx="1068.4" cy="97.0" r="0.96" opacity="0.85"/>
<circle cx="1088.3" cy="65.7" r="0.88" opacity="0.43"/>
<circle cx="1056.3" cy="93.5" r="0.67" opacity="0.81"/>
<circle cx="1097.5" cy="65.7" r="0.99" opacity="0.49"/>
<circle cx="1076.8" cy="92.6" r="0.57" opacity="0.63"/>
<circle cx="1085.4" cy="106.7" r="0.96" opacity="0.46"/>
<circle cx="1063.2" cy="67.5" r="0.65" opacity="0.39"/>
<circle cx="1088.7" cy="92.8" r="0.57" opacity="0.90"/>
<circle cx="1090.6" cy="91.7" r="0.73" opacity="0.87"/>
<circle cx="1101.8" cy="72.0" r="0.80" opacity="0.88"/>
<circle cx="1088.7" cy="49.3" r="0.56" opacity="0.86"/>
<circle cx="1095.5" cy="77.0" r="0.81" opacity="0.62"/>
<circle cx="1050.4" cy="90.9" r="0.58" opacity="0.49"/>
<circle cx="1079.4" cy="72.6" r="0.84" opacity="0.84"/>
<circle cx="1077.4" cy="80.2" r="0.81" opacity="0.76"/>
<circle cx="1062.1" cy="67.9" r="0.93" opacity="0.57"/>
<circle cx="1083.5" cy="103.1" r="0.81" opacity="0.90"/>
<circle cx="1079.4" cy="65.7" r="0.77" opacity="0.61"/>
<circle cx="1087.6" cy="107.7" r="0.93" opacity="0.61"/>
<circle cx="1068.4" cy="50.4" r="0.58" opacity="0.84"/>
<circle cx="1079.4" cy="91.3" r="0.99" opacity="0.69"/>
<circle cx="1106.1" cy="75.7" r="0.64" opacity="0.80"/>
<circle cx="1075.4" cy="56.0" r="0.93" opacity="0.90"/>
<circle cx="1062.2" cy="92.7" r="0.88" opacity="0.59"/>
<circle cx="1075.3" cy="106.4" r="0.57" opacity="0.51"/>
<circle cx="1083.3" cy="60.0" r="0.92" opacity="0.93"/>
<circle cx="1074.6" cy="76.9" r="0.99" opacity="0.73"/>
<circle cx="1090.5" cy="74.5" r="0.84" opacity="0.60"/>
<circle cx="1099.4" cy="52.6" r="0.96" opacity="0.71"/>
<circle cx="1112.3" cy="78.6" r="0.90" opacity="0.58"/>
<circle cx="1102.5" cy="102.8" r="0.87" opacity="0.50"/>
<circle cx="1063.0" cy="91.9" r="0.96" opacity="0.43"/>
<circle cx="1076.1" cy="47.3" r="0.99" opacity="0.39"/>
<circle cx="1104.8" cy="90.9" r="0.64" opacity="0.61"/>
<circle cx="1100.8" cy="74.5" r="0.56" opacity="0.83"/>
</g>
<g filter="url(#bl3)" fill="#2ea060">
<circle cx="1069.9" cy="41.2" r="0.45" opacity="0.67"/>
<circle cx="1090.1" cy="60.2" r="0.73" opacity="0.73"/>
<circle cx="1091.1" cy="63.4" r="0.78" opacity="0.83"/>
<circle cx="1080.6" cy="58.5" r="0.72" opacity="0.75"/>
<circle cx="1052.0" cy="104.5" r="0.48" opacity="0.70"/>
<circle cx="1072.2" cy="111.1" r="0.69" opacity="0.83"/>
<circle cx="1106.4" cy="69.9" r="0.65" opacity="0.49"/>
<circle cx="1083.6" cy="53.9" r="0.70" opacity="0.46"/>
<circle cx="1062.1" cy="41.2" r="0.48" opacity="0.77"/>
<circle cx="1119.1" cy="67.6" r="0.69" opacity="0.85"/>
<circle cx="1046.2" cy="83.6" r="0.76" opacity="0.81"/>
<circle cx="1057.7" cy="69.6" r="0.54" opacity="0.70"/>
<circle cx="1063.3" cy="115.3" r="0.71" opacity="0.41"/>
<circle cx="1088.0" cy="89.1" r="0.70" opacity="0.62"/>
<circle cx="1112.8" cy="70.4" r="0.58" opacity="0.41"/>
<circle cx="1037.6" cy="78.3" r="0.66" opacity="0.68"/>
<circle cx="1070.3" cy="66.9" r="0.76" opacity="0.68"/>
<circle cx="1044.6" cy="93.8" r="0.53" opacity="0.46"/>
<circle cx="1067.5" cy="75.9" r="0.72" opacity="0.77"/>
<circle cx="1113.2" cy="53.9" r="0.69" opacity="0.43"/>
<circle cx="1056.8" cy="66.7" r="0.72" opacity="0.41"/>
<circle cx="1053.0" cy="109.8" r="0.46" opacity="0.75"/>
<circle cx="1084.9" cy="104.0" r="0.51" opacity="0.69"/>
<circle cx="1117.4" cy="59.7" r="0.71" opacity="0.85"/>
<circle cx="1091.4" cy="51.0" r="0.75" opacity="0.57"/>
<circle cx="1123.6" cy="77.5" r="0.55" opacity="0.57"/>
<circle cx="1074.9" cy="94.2" r="0.79" opacity="0.58"/>
<circle cx="1058.5" cy="61.7" r="0.74" opacity="0.50"/>
<circle cx="1075.0" cy="38.4" r="0.69" opacity="0.73"/>
<circle cx="1098.5" cy="48.0" r="0.60" opacity="0.48"/>
</g>
<g filter="url(#bl3)" fill="#c82a2a">
<circle cx="1111.0" cy="89.0" r="0.88" opacity="0.85"/>
<circle cx="1068.1" cy="49.9" r="0.83" opacity="0.87"/>
<circle cx="1068.4" cy="81.4" r="0.78" opacity="0.52"/>
<circle cx="1095.6" cy="63.4" r="0.64" opacity="0.79"/>
<circle cx="1073.7" cy="53.4" r="0.56" opacity="0.59"/>
<circle cx="1074.7" cy="88.9" r="0.70" opacity="0.41"/>
<circle cx="1071.4" cy="97.1" r="0.89" opacity="0.66"/>
<circle cx="1062.3" cy="91.2" r="0.85" opacity="0.53"/>
<circle cx="1055.4" cy="63.8" r="0.51" opacity="0.54"/>
<circle cx="1083.6" cy="60.2" r="0.69" opacity="0.65"/>
<circle cx="1087.4" cy="49.0" r="0.60" opacity="0.74"/>
<circle cx="1091.7" cy="85.8" r="0.58" opacity="0.49"/>
<circle cx="1054.7" cy="65.0" r="0.94" opacity="0.42"/>
<circle cx="1065.9" cy="93.6" r="0.67" opacity="0.51"/>
<circle cx="1062.9" cy="70.7" r="0.85" opacity="0.72"/>
<circle cx="1064.4" cy="53.0" r="0.68" opacity="0.49"/>
<circle cx="1067.2" cy="84.2" r="0.63" opacity="0.66"/>
<circle cx="1091.6" cy="52.4" r="0.52" opacity="0.57"/>
<circle cx="1072.4" cy="63.8" r="0.68" opacity="0.46"/>
<circle cx="1089.7" cy="67.8" r="0.63" opacity="0.58"/>
<circle cx="1105.6" cy="75.1" r="0.83" opacity="0.52"/>
<circle cx="1091.9" cy="79.1" r="0.92" opacity="0.59"/>
<circle cx="1084.7" cy="97.2" r="0.76" opacity="0.80"/>
<circle cx="1070.9" cy="94.1" r="0.71" opacity="0.81"/>
<circle cx="1082.3" cy="59.8" r="0.89" opacity="0.86"/>
<circle cx="1094.1" cy="63.3" r="0.62" opacity="0.44"/>
<circle cx="1084.5" cy="72.6" r="0.52" opacity="0.67"/>
<circle cx="1068.4" cy="85.8" r="0.78" opacity="0.73"/>
<circle cx="1084.7" cy="74.6" r="0.90" opacity="0.59"/>
<circle cx="1077.2" cy="103.4" r="0.53" opacity="0.53"/>
<circle cx="1088.8" cy="58.7" r="0.92" opacity="0.82"/>
<circle cx="1094.5" cy="92.8" r="0.76" opacity="0.44"/>
<circle cx="1091.6" cy="70.9" r="0.62" opacity="0.50"/>
<circle cx="1067.0" cy="98.6" r="0.51" opacity="0.68"/>
<circle cx="1067.3" cy="74.9" r="0.79" opacity="0.88"/>
<circle cx="1081.9" cy="59.5" r="0.64" opacity="0.84"/>
<circle cx="1096.0" cy="86.0" r="0.54" opacity="0.41"/>
<circle cx="1080.5" cy="67.6" r="0.64" opacity="0.80"/>
<circle cx="1093.0" cy="90.3" r="0.68" opacity="0.81"/>
<circle cx="1067.8" cy="97.3" r="0.56" opacity="0.89"/>
</g>
<ellipse cx="1077.2" cy="48.9" rx="1.70" ry="2.12" fill="#e8301c" filter="url(#bl3)"/>
<ellipse cx="1069.4" cy="48.4" rx="1.00" ry="1.25" fill="#e8301c" filter="url(#bl3)"/>
<ellipse cx="1073.1" cy="57.2" rx="1.60" ry="2.00" fill="#e8301c" filter="url(#bl3)"/>
<ellipse cx="1072.9" cy="56.2" rx="0.96" ry="1.12" fill="#f0d238" filter="url(#bl3)"/>
<circle cx="1072.5" cy="55.2" r="0.99" fill="#3fd47a" filter="url(#bl3)"/>
<ellipse cx="1090.4" cy="54.3" rx="2.50" ry="3.12" fill="#e8301c" filter="url(#bl3)"/>
<ellipse cx="1090.2" cy="53.4" rx="1.55" ry="2.25" fill="#f6e23a" filter="url(#bl3)"/>
<circle cx="1089.9" cy="51.6" r="1.00" fill="#8fe84a" filter="url(#bl3)"/>
<ellipse cx="1102.4" cy="62.6" rx="1.50" ry="1.88" fill="#e8301c" filter="url(#bl3)"/>
<ellipse cx="1093.8" cy="66.5" rx="1.40" ry="1.75" fill="#e8301c" filter="url(#bl3)"/>
<ellipse cx="1045.4" cy="80.0" rx="1.30" ry="1.62" fill="#e8301c" filter="url(#bl3)"/>
<ellipse cx="1074.3" cy="82.1" rx="1.40" ry="1.75" fill="#e8301c" filter="url(#bl3)"/>
<ellipse cx="1074.1" cy="81.1" rx="0.84" ry="0.98" fill="#f0d238" filter="url(#bl3)"/>
<circle cx="1073.7" cy="80.3" r="0.87" fill="#3fd47a" filter="url(#bl3)"/>
<ellipse cx="1088.4" cy="81.1" rx="1.90" ry="2.38" fill="#e8301c" filter="url(#bl3)"/>
<ellipse cx="1088.2" cy="80.1" rx="1.14" ry="1.33" fill="#f0d238" filter="url(#bl3)"/>
<circle cx="1087.8" cy="78.8" r="1.18" fill="#3fd47a" filter="url(#bl3)"/>
<ellipse cx="1066.7" cy="92.9" rx="3.00" ry="3.75" fill="#e8301c" filter="url(#bl3)"/>
<ellipse cx="1066.5" cy="92.0" rx="1.86" ry="2.70" fill="#f6e23a" filter="url(#bl3)"/>
<circle cx="1066.2" cy="89.7" r="1.20" fill="#8fe84a" filter="url(#bl3)"/>
<ellipse cx="1071.3" cy="97.8" rx="2.10" ry="2.62" fill="#e8301c" filter="url(#bl3)"/>
<ellipse cx="1071.1" cy="96.9" rx="1.30" ry="1.89" fill="#f6e23a" filter="url(#bl3)"/>
<circle cx="1070.8" cy="95.4" r="0.84" fill="#8fe84a" filter="url(#bl3)"/>
<ellipse cx="1091.9" cy="102.2" rx="1.50" ry="1.88" fill="#e8301c" filter="url(#bl3)"/>
<ellipse cx="1091.7" cy="101.2" rx="0.90" ry="1.05" fill="#f0d238" filter="url(#bl3)"/>
<circle cx="1091.3" cy="100.3" r="0.93" fill="#3fd47a" filter="url(#bl3)"/>
<ellipse cx="1097.2" cy="93.9" rx="1.50" ry="1.88" fill="#e8301c" filter="url(#bl3)"/>
<ellipse cx="1105.8" cy="97.8" rx="1.10" ry="1.38" fill="#e8301c" filter="url(#bl3)"/>
<ellipse cx="1077.2" cy="112.4" rx="0.90" ry="1.12" fill="#e8301c" filter="url(#bl3)"/>
<ellipse cx="1105.8" cy="81.6" rx="0.90" ry="1.12" fill="#e8301c" filter="url(#bl3)"/>
<ellipse cx="1067.9" cy="67.5" rx="0.90" ry="1.12" fill="#e8301c" filter="url(#bl3)"/>
<ellipse cx="1052.8" cy="62.1" rx="0.80" ry="1.00" fill="#e8301c" filter="url(#bl3)"/>
<ellipse cx="1058.1" cy="90.9" rx="0.90" ry="1.12" fill="#e8301c" filter="url(#bl3)"/>
<path d="M1082.80 57.90 L1088.20 56.00 L1085.70 60.70 Z" fill="#fff"/>
<path d="M1080.80 84.50 L1086.20 82.60 L1083.70 87.30 Z" fill="#fff"/>
<path d="M1057.40 96.50 L1062.80 94.60 L1060.30 99.30 Z" fill="#fff"/>
<path d="M1063.40 100.40 L1068.80 98.50 L1066.30 103.20 Z" fill="#fff"/>
<path d="M1084.30 104.80 L1089.70 102.90 L1087.20 107.60 Z" fill="#fff"/>
<line x1="1041.90" y1="116.50" x2="1078.10" y2="116.50" stroke="#6a6478" stroke-width="1.0"/>
</g>
<clipPath id="cC10"><rect x="949.90" y="123.30" width="84.30" height="84.40"/></clipPath>
<rect x="949.90" y="123.30" width="84.30" height="84.40" fill="#020103" stroke="none" stroke-width="1"/>
<g clip-path="url(#cC10)">
<ellipse cx="993.9" cy="173.3" rx="13" ry="24" fill="#4a1228" opacity=".45" filter="url(#bl4)" transform="rotate(-25 993.9 173.3)"/>
<g filter="url(#bl3)" fill="#7a1c2c">
<circle cx="1002.6" cy="163.3" r="0.91" opacity="0.40"/>
<circle cx="988.9" cy="163.7" r="0.77" opacity="0.33"/>
<circle cx="988.1" cy="166.3" r="0.52" opacity="0.63"/>
<circle cx="997.8" cy="173.0" r="0.71" opacity="0.54"/>
<circle cx="993.5" cy="161.7" r="0.68" opacity="0.50"/>
<circle cx="1000.1" cy="168.2" r="0.95" opacity="0.69"/>
<circle cx="997.4" cy="155.5" r="0.71" opacity="0.39"/>
<circle cx="999.9" cy="189.3" r="0.75" opacity="0.43"/>
<circle cx="978.1" cy="161.6" r="0.91" opacity="0.68"/>
<circle cx="980.7" cy="160.4" r="0.73" opacity="0.38"/>
<circle cx="992.6" cy="171.3" r="0.82" opacity="0.51"/>
<circle cx="984.7" cy="153.5" r="0.97" opacity="0.47"/>
<circle cx="999.7" cy="161.2" r="0.55" opacity="0.70"/>
<circle cx="987.0" cy="159.0" r="0.98" opacity="0.67"/>
<circle cx="997.7" cy="174.5" r="0.85" opacity="0.42"/>
<circle cx="989.0" cy="180.1" r="0.54" opacity="0.32"/>
<circle cx="980.9" cy="170.5" r="0.92" opacity="0.57"/>
<circle cx="988.9" cy="173.5" r="0.73" opacity="0.52"/>
<circle cx="1002.3" cy="176.6" r="0.62" opacity="0.41"/>
<circle cx="1006.9" cy="168.5" r="0.96" opacity="0.67"/>
<circle cx="1004.4" cy="175.1" r="0.87" opacity="0.42"/>
<circle cx="984.2" cy="172.0" r="0.59" opacity="0.37"/>
<circle cx="1003.4" cy="179.8" r="0.58" opacity="0.49"/>
<circle cx="1005.5" cy="191.3" r="0.81" opacity="0.35"/>
<circle cx="991.1" cy="191.3" r="0.92" opacity="0.34"/>
<circle cx="1009.0" cy="187.6" r="0.61" opacity="0.50"/>
<circle cx="985.6" cy="173.2" r="0.88" opacity="0.38"/>
<circle cx="996.6" cy="178.9" r="0.93" opacity="0.68"/>
<circle cx="1002.2" cy="164.3" r="0.67" opacity="0.66"/>
<circle cx="1009.3" cy="182.4" r="0.80" opacity="0.68"/>
</g>
<g filter="url(#bl3)" fill="#e2322a">
<circle cx="995.8" cy="135.1" r="0.9" opacity="0.8"/>
<circle cx="1002.9" cy="134.1" r="0.9" opacity="0.7"/>
<circle cx="978.7" cy="137.0" r="1.0" opacity="0.8"/>
<circle cx="984.8" cy="144.9" r="1.6" opacity="1"/>
<circle cx="989.8" cy="146.1" r="1.3" opacity="1"/>
<circle cx="993.7" cy="144.4" r="1.2" opacity="1"/>
<circle cx="980.7" cy="147.3" r="1.2" opacity="1"/>
<circle cx="1010.0" cy="146.4" r="0.8" opacity="0.5"/>
<circle cx="967.3" cy="154.4" r="1.6" opacity="1"/>
<circle cx="967.2" cy="151.0" r="0.9" opacity="0.6"/>
<circle cx="959.7" cy="153.9" r="0.7" opacity="0.5"/>
<circle cx="1003.9" cy="152.1" r="1.3" opacity="1"/>
<circle cx="1012.9" cy="151.6" r="1.2" opacity="1"/>
<circle cx="1019.5" cy="153.7" r="0.9" opacity="1"/>
<circle cx="996.8" cy="153.9" r="1.3" opacity="1"/>
<circle cx="1008.7" cy="157.8" r="2.0" opacity="1"/>
<circle cx="984.6" cy="158.1" r="1.5" opacity="1"/>
<circle cx="989.5" cy="157.5" r="1.4" opacity="1"/>
<circle cx="991.4" cy="160.7" r="1.7" opacity="1"/>
<circle cx="987.8" cy="161.0" r="1.3" opacity="1"/>
<circle cx="999.1" cy="158.8" r="1.3" opacity="1"/>
<circle cx="979.4" cy="161.5" r="1.7" opacity="1"/>
<circle cx="970.9" cy="164.5" r="1.6" opacity="1"/>
<circle cx="972.9" cy="163.9" r="1.2" opacity="1"/>
<circle cx="967.0" cy="167.3" r="0.9" opacity="0.7"/>
<circle cx="994.1" cy="165.1" r="1.7" opacity="1"/>
<circle cx="999.1" cy="168.4" r="1.8" opacity="1"/>
<circle cx="1002.7" cy="168.6" r="1.3" opacity="1"/>
<circle cx="1008.4" cy="166.1" r="1.2" opacity="1"/>
<circle cx="1011.0" cy="166.6" r="1.4" opacity="1"/>
<circle cx="1013.9" cy="167.8" r="1.4" opacity="1"/>
<circle cx="957.4" cy="172.7" r="1.0" opacity="1"/>
<circle cx="985.8" cy="172.5" r="1.0" opacity="0.6"/>
<circle cx="1005.6" cy="174.7" r="1.3" opacity="1"/>
<circle cx="992.4" cy="178.3" r="1.7" opacity="1"/>
<circle cx="1024.2" cy="177.1" r="0.9" opacity="1"/>
<circle cx="963.3" cy="182.7" r="1.1" opacity="1"/>
<circle cx="979.7" cy="183.2" r="1.1" opacity="1"/>
<circle cx="1010.5" cy="182.9" r="1.2" opacity="1"/>
<circle cx="985.4" cy="186.4" r="1.9" opacity="1"/>
<circle cx="989.0" cy="184.2" r="1.1" opacity="1"/>
<circle cx="994.9" cy="186.4" r="1.2" opacity="1"/>
<circle cx="984.4" cy="190.7" r="1.3" opacity="1"/>
<circle cx="991.0" cy="190.1" r="1.8" opacity="0.7"/>
<circle cx="996.8" cy="191.0" r="1.1" opacity="1"/>
<circle cx="996.3" cy="195.1" r="2.0" opacity="1"/>
<circle cx="1011.7" cy="194.8" r="1.0" opacity="1"/>
<circle cx="1018.8" cy="194.3" r="1.1" opacity="1"/>
<circle cx="993.4" cy="200.8" r="1.0" opacity="1"/>
<circle cx="1010.7" cy="203.7" r="1.2" opacity="1"/>
<circle cx="977.1" cy="194.0" r="0.7" opacity="0.4"/>
<circle cx="971.4" cy="179.8" r="0.7" opacity="0.4"/>
<circle cx="995.9" cy="173.3" r="1.2" opacity="0.7"/>
<circle cx="999.9" cy="179.3" r="1.0" opacity="0.6"/>
</g>
<g filter="url(#bl3)" fill="#3fd47a">
<circle cx="986.6" cy="150.5" r="0.8" opacity="1"/>
<circle cx="992.9" cy="167.4" r="1.0" opacity="1"/>
<circle cx="991.7" cy="173.9" r="0.8" opacity="1"/>
<circle cx="976.8" cy="187.1" r="0.8" opacity="0.8"/>
<circle cx="1003.7" cy="166.6" r="0.6" opacity="0.6"/>
</g>
</g>
<clipPath id="cC11"><rect x="1037.60" y="123.30" width="85.10" height="84.40"/></clipPath>
<rect x="1037.60" y="123.30" width="85.10" height="84.40" fill="#020103" stroke="none" stroke-width="1"/>
<g clip-path="url(#cC11)">
<ellipse cx="1043.6" cy="205.3" rx="16" ry="6" fill="#1a1248" filter="url(#bl5)"/>
<ellipse cx="1082.1" cy="167.3" rx="45" ry="31" fill="#1c134f" filter="url(#bl5)" transform="rotate(40 1082.1 167.3)"/>
<g filter="url(#bl5)" fill="#120b3c">
<circle cx="1114.4" cy="172.6" r="2.51" opacity="0.42"/>
<circle cx="1071.0" cy="166.8" r="1.27" opacity="0.32"/>
<circle cx="1087.0" cy="151.0" r="2.07" opacity="0.40"/>
<circle cx="1082.7" cy="151.0" r="1.35" opacity="0.50"/>
<circle cx="1114.2" cy="182.9" r="2.29" opacity="0.36"/>
<circle cx="1109.0" cy="170.1" r="1.91" opacity="0.39"/>
<circle cx="1096.8" cy="199.4" r="1.17" opacity="0.28"/>
<circle cx="1090.1" cy="152.4" r="1.38" opacity="0.58"/>
<circle cx="1045.9" cy="146.5" r="2.52" opacity="0.56"/>
<circle cx="1085.9" cy="188.6" r="1.77" opacity="0.42"/>
<circle cx="1085.9" cy="187.1" r="1.25" opacity="0.52"/>
<circle cx="1101.1" cy="179.9" r="1.93" opacity="0.59"/>
<circle cx="1084.4" cy="146.8" r="2.10" opacity="0.57"/>
<circle cx="1049.6" cy="160.0" r="1.62" opacity="0.49"/>
<circle cx="1063.8" cy="186.1" r="1.92" opacity="0.59"/>
<circle cx="1055.7" cy="151.1" r="1.43" opacity="0.27"/>
<circle cx="1058.1" cy="136.7" r="2.40" opacity="0.28"/>
<circle cx="1073.8" cy="188.6" r="1.58" opacity="0.50"/>
<circle cx="1078.5" cy="184.1" r="1.77" opacity="0.59"/>
<circle cx="1086.2" cy="148.9" r="1.19" opacity="0.34"/>
<circle cx="1101.0" cy="180.9" r="1.08" opacity="0.32"/>
<circle cx="1114.0" cy="187.6" r="2.25" opacity="0.29"/>
<circle cx="1057.5" cy="136.1" r="1.56" opacity="0.32"/>
<circle cx="1088.5" cy="178.5" r="1.90" opacity="0.36"/>
<circle cx="1084.9" cy="152.1" r="1.88" opacity="0.39"/>
<circle cx="1074.8" cy="196.2" r="1.52" opacity="0.46"/>
<circle cx="1080.7" cy="173.2" r="1.90" opacity="0.29"/>
<circle cx="1062.5" cy="149.6" r="2.48" opacity="0.49"/>
<circle cx="1114.6" cy="182.4" r="1.88" opacity="0.46"/>
<circle cx="1079.7" cy="134.6" r="1.54" opacity="0.28"/>
<circle cx="1101.6" cy="192.3" r="2.20" opacity="0.45"/>
<circle cx="1066.4" cy="183.6" r="1.55" opacity="0.34"/>
<circle cx="1084.1" cy="136.7" r="1.03" opacity="0.35"/>
<circle cx="1102.3" cy="161.2" r="1.76" opacity="0.35"/>
<circle cx="1108.4" cy="169.6" r="1.72" opacity="0.51"/>
<circle cx="1081.8" cy="197.1" r="1.02" opacity="0.41"/>
<circle cx="1047.2" cy="167.6" r="1.40" opacity="0.53"/>
<circle cx="1073.2" cy="180.2" r="2.27" opacity="0.55"/>
<circle cx="1111.2" cy="184.5" r="2.08" opacity="0.57"/>
<circle cx="1103.9" cy="181.2" r="2.33" opacity="0.52"/>
<circle cx="1080.5" cy="161.6" r="1.70" opacity="0.58"/>
<circle cx="1067.3" cy="136.3" r="2.18" opacity="0.50"/>
<circle cx="1076.8" cy="147.6" r="1.91" opacity="0.52"/>
<circle cx="1075.6" cy="159.6" r="1.69" opacity="0.54"/>
<circle cx="1103.9" cy="195.4" r="1.40" opacity="0.40"/>
<circle cx="1072.0" cy="168.3" r="1.50" opacity="0.46"/>
<circle cx="1082.1" cy="170.5" r="2.55" opacity="0.40"/>
<circle cx="1101.8" cy="196.3" r="1.33" opacity="0.26"/>
<circle cx="1094.8" cy="145.4" r="1.12" opacity="0.47"/>
<circle cx="1059.9" cy="147.4" r="2.35" opacity="0.42"/>
<circle cx="1074.1" cy="161.3" r="2.47" opacity="0.31"/>
<circle cx="1106.0" cy="167.2" r="1.98" opacity="0.26"/>
<circle cx="1105.9" cy="167.3" r="2.16" opacity="0.36"/>
<circle cx="1109.4" cy="168.0" r="1.10" opacity="0.41"/>
<circle cx="1084.8" cy="194.5" r="2.36" opacity="0.57"/>
<circle cx="1086.6" cy="171.9" r="2.59" opacity="0.38"/>
<circle cx="1107.4" cy="172.5" r="2.51" opacity="0.47"/>
<circle cx="1089.5" cy="174.3" r="1.26" opacity="0.32"/>
<circle cx="1050.1" cy="148.7" r="1.34" opacity="0.26"/>
<circle cx="1082.0" cy="179.8" r="1.14" opacity="0.34"/>
<circle cx="1100.4" cy="197.6" r="2.26" opacity="0.34"/>
<circle cx="1046.4" cy="149.4" r="1.92" opacity="0.46"/>
<circle cx="1048.5" cy="148.4" r="2.35" opacity="0.42"/>
<circle cx="1095.7" cy="153.2" r="1.61" opacity="0.32"/>
<circle cx="1081.6" cy="138.2" r="1.93" opacity="0.32"/>
<circle cx="1113.7" cy="171.8" r="1.54" opacity="0.35"/>
<circle cx="1084.2" cy="177.8" r="2.53" opacity="0.29"/>
<circle cx="1109.2" cy="175.1" r="2.41" opacity="0.59"/>
<circle cx="1063.0" cy="177.2" r="1.63" opacity="0.29"/>
<circle cx="1072.1" cy="168.5" r="1.82" opacity="0.42"/>
<circle cx="1051.6" cy="151.0" r="2.14" opacity="0.47"/>
<circle cx="1056.2" cy="161.7" r="2.26" opacity="0.36"/>
<circle cx="1071.8" cy="153.4" r="1.93" opacity="0.58"/>
<circle cx="1064.5" cy="159.2" r="2.49" opacity="0.48"/>
<circle cx="1116.4" cy="171.9" r="1.41" opacity="0.36"/>
<circle cx="1047.9" cy="155.1" r="2.01" opacity="0.49"/>
<circle cx="1088.3" cy="186.9" r="1.05" opacity="0.43"/>
<circle cx="1095.1" cy="157.8" r="1.39" opacity="0.55"/>
<circle cx="1080.3" cy="157.0" r="2.29" opacity="0.47"/>
<circle cx="1082.7" cy="157.8" r="1.99" opacity="0.41"/>
<circle cx="1090.3" cy="162.8" r="2.13" opacity="0.32"/>
<circle cx="1064.9" cy="151.5" r="1.05" opacity="0.40"/>
<circle cx="1045.5" cy="155.1" r="1.93" opacity="0.55"/>
<circle cx="1084.3" cy="177.0" r="1.50" opacity="0.27"/>
<circle cx="1063.4" cy="188.2" r="2.21" opacity="0.29"/>
<circle cx="1083.5" cy="188.2" r="1.45" opacity="0.28"/>
<circle cx="1103.3" cy="149.9" r="2.39" opacity="0.35"/>
<circle cx="1080.5" cy="178.2" r="1.94" opacity="0.49"/>
<circle cx="1056.1" cy="148.0" r="2.23" opacity="0.29"/>
<circle cx="1113.3" cy="168.3" r="1.71" opacity="0.37"/>
<circle cx="1108.1" cy="154.6" r="1.48" opacity="0.37"/>
<circle cx="1056.8" cy="177.2" r="2.42" opacity="0.47"/>
<circle cx="1080.8" cy="176.1" r="2.46" opacity="0.38"/>
<circle cx="1067.1" cy="171.2" r="1.63" opacity="0.38"/>
<circle cx="1092.1" cy="182.5" r="1.21" opacity="0.36"/>
<circle cx="1060.9" cy="149.4" r="2.41" opacity="0.47"/>
<circle cx="1103.0" cy="151.3" r="1.55" opacity="0.57"/>
<circle cx="1078.4" cy="191.0" r="1.32" opacity="0.27"/>
<circle cx="1061.7" cy="133.1" r="1.58" opacity="0.40"/>
<circle cx="1057.4" cy="171.8" r="2.00" opacity="0.48"/>
<circle cx="1088.1" cy="160.7" r="2.15" opacity="0.57"/>
<circle cx="1064.6" cy="158.1" r="2.03" opacity="0.36"/>
<circle cx="1072.9" cy="134.2" r="1.33" opacity="0.59"/>
<circle cx="1101.0" cy="172.7" r="2.57" opacity="0.36"/>
<circle cx="1099.0" cy="185.0" r="1.13" opacity="0.57"/>
<circle cx="1068.8" cy="166.0" r="1.01" opacity="0.37"/>
<circle cx="1094.8" cy="186.4" r="1.90" opacity="0.28"/>
<circle cx="1075.0" cy="184.6" r="2.42" opacity="0.28"/>
<circle cx="1108.6" cy="156.5" r="1.20" opacity="0.50"/>
<circle cx="1070.4" cy="155.5" r="2.51" opacity="0.53"/>
</g>
<g filter="url(#bl5)" fill="#3a2a94">
<circle cx="1095.2" cy="198.1" r="1.99" opacity="0.31"/>
<circle cx="1088.5" cy="155.7" r="2.14" opacity="0.42"/>
<circle cx="1109.2" cy="155.9" r="1.96" opacity="0.21"/>
<circle cx="1105.2" cy="171.4" r="1.60" opacity="0.25"/>
<circle cx="1072.6" cy="163.7" r="1.46" opacity="0.44"/>
<circle cx="1075.6" cy="171.2" r="1.81" opacity="0.38"/>
<circle cx="1087.1" cy="169.9" r="2.02" opacity="0.46"/>
<circle cx="1063.3" cy="152.8" r="1.35" opacity="0.31"/>
<circle cx="1064.2" cy="150.3" r="1.54" opacity="0.37"/>
<circle cx="1080.0" cy="184.0" r="1.07" opacity="0.23"/>
<circle cx="1088.8" cy="188.6" r="1.90" opacity="0.24"/>
<circle cx="1106.0" cy="198.1" r="1.55" opacity="0.30"/>
<circle cx="1074.9" cy="167.6" r="1.91" opacity="0.33"/>
<circle cx="1086.9" cy="170.6" r="1.15" opacity="0.24"/>
<circle cx="1080.4" cy="136.7" r="1.49" opacity="0.49"/>
<circle cx="1112.0" cy="173.0" r="1.66" opacity="0.22"/>
<circle cx="1087.9" cy="164.8" r="1.27" opacity="0.22"/>
<circle cx="1108.7" cy="178.4" r="2.10" opacity="0.42"/>
<circle cx="1059.6" cy="153.2" r="1.82" opacity="0.34"/>
<circle cx="1091.9" cy="160.9" r="2.15" opacity="0.24"/>
<circle cx="1092.1" cy="148.0" r="1.76" opacity="0.43"/>
<circle cx="1068.5" cy="164.7" r="1.17" opacity="0.22"/>
<circle cx="1106.2" cy="167.7" r="2.19" opacity="0.42"/>
<circle cx="1063.2" cy="173.9" r="1.45" opacity="0.40"/>
<circle cx="1070.3" cy="154.3" r="1.76" opacity="0.43"/>
<circle cx="1068.4" cy="180.0" r="1.34" opacity="0.48"/>
<circle cx="1107.4" cy="177.4" r="2.10" opacity="0.20"/>
<circle cx="1113.3" cy="180.9" r="1.01" opacity="0.42"/>
<circle cx="1048.0" cy="147.0" r="2.07" opacity="0.50"/>
<circle cx="1077.0" cy="145.6" r="0.95" opacity="0.33"/>
<circle cx="1112.8" cy="173.2" r="1.11" opacity="0.48"/>
<circle cx="1064.8" cy="142.4" r="2.16" opacity="0.24"/>
<circle cx="1063.4" cy="164.7" r="1.03" opacity="0.43"/>
<circle cx="1110.5" cy="171.8" r="1.29" opacity="0.45"/>
<circle cx="1083.1" cy="141.7" r="1.57" opacity="0.30"/>
<circle cx="1086.7" cy="184.9" r="1.75" opacity="0.30"/>
<circle cx="1057.1" cy="177.9" r="1.74" opacity="0.33"/>
<circle cx="1058.2" cy="138.9" r="1.68" opacity="0.22"/>
<circle cx="1059.1" cy="158.3" r="1.18" opacity="0.49"/>
<circle cx="1047.6" cy="153.8" r="1.04" opacity="0.49"/>
<circle cx="1118.0" cy="176.1" r="2.08" opacity="0.41"/>
<circle cx="1106.3" cy="173.9" r="1.06" opacity="0.39"/>
<circle cx="1102.0" cy="156.2" r="2.06" opacity="0.35"/>
<circle cx="1052.2" cy="154.7" r="1.81" opacity="0.46"/>
<circle cx="1058.9" cy="177.8" r="1.53" opacity="0.45"/>
<circle cx="1090.9" cy="195.6" r="1.52" opacity="0.27"/>
<circle cx="1052.6" cy="168.7" r="1.35" opacity="0.40"/>
<circle cx="1073.6" cy="192.8" r="1.65" opacity="0.26"/>
<circle cx="1079.7" cy="153.4" r="1.63" opacity="0.50"/>
<circle cx="1085.7" cy="172.7" r="1.77" opacity="0.38"/>
<circle cx="1073.7" cy="187.0" r="1.90" opacity="0.36"/>
<circle cx="1078.2" cy="152.9" r="1.26" opacity="0.31"/>
<circle cx="1099.4" cy="179.4" r="1.02" opacity="0.43"/>
<circle cx="1100.6" cy="191.4" r="1.06" opacity="0.49"/>
<circle cx="1090.8" cy="172.7" r="1.49" opacity="0.26"/>
<circle cx="1076.1" cy="193.5" r="0.93" opacity="0.40"/>
<circle cx="1085.6" cy="193.9" r="1.43" opacity="0.41"/>
<circle cx="1079.9" cy="180.0" r="0.98" opacity="0.21"/>
<circle cx="1062.8" cy="150.6" r="1.52" opacity="0.26"/>
<circle cx="1072.3" cy="140.4" r="1.89" opacity="0.37"/>
<circle cx="1111.4" cy="187.1" r="1.24" opacity="0.35"/>
<circle cx="1059.3" cy="154.0" r="1.27" opacity="0.26"/>
<circle cx="1101.1" cy="199.0" r="0.94" opacity="0.25"/>
<circle cx="1048.9" cy="144.6" r="0.97" opacity="0.32"/>
<circle cx="1072.8" cy="178.5" r="1.32" opacity="0.37"/>
<circle cx="1101.1" cy="188.1" r="1.05" opacity="0.27"/>
<circle cx="1086.6" cy="173.5" r="1.25" opacity="0.40"/>
<circle cx="1054.1" cy="158.5" r="2.18" opacity="0.25"/>
<circle cx="1078.3" cy="143.3" r="2.19" opacity="0.38"/>
<circle cx="1078.9" cy="157.7" r="1.48" opacity="0.48"/>
</g>
<g filter="url(#bl3)" fill="#2fb088">
<circle cx="1111.5" cy="164.1" r="0.77" opacity="0.47"/>
<circle cx="1081.2" cy="170.7" r="0.74" opacity="0.38"/>
<circle cx="1073.6" cy="178.8" r="0.88" opacity="0.54"/>
<circle cx="1058.4" cy="186.2" r="0.79" opacity="0.79"/>
<circle cx="1058.4" cy="168.0" r="0.63" opacity="0.49"/>
<circle cx="1075.8" cy="165.4" r="0.63" opacity="0.50"/>
<circle cx="1115.8" cy="188.2" r="0.57" opacity="0.39"/>
<circle cx="1063.5" cy="142.4" r="0.59" opacity="0.60"/>
<circle cx="1073.2" cy="156.0" r="0.76" opacity="0.43"/>
<circle cx="1053.2" cy="139.7" r="0.96" opacity="0.45"/>
<circle cx="1101.2" cy="196.2" r="0.63" opacity="0.63"/>
<circle cx="1111.8" cy="160.5" r="0.67" opacity="0.65"/>
<circle cx="1071.4" cy="156.7" r="0.96" opacity="0.78"/>
<circle cx="1079.5" cy="182.0" r="0.86" opacity="0.48"/>
<circle cx="1054.8" cy="148.7" r="0.98" opacity="0.55"/>
<circle cx="1084.5" cy="193.6" r="1.00" opacity="0.81"/>
<circle cx="1075.9" cy="140.8" r="0.68" opacity="0.39"/>
<circle cx="1045.6" cy="152.8" r="0.75" opacity="0.59"/>
<circle cx="1105.0" cy="159.2" r="0.64" opacity="0.48"/>
<circle cx="1112.0" cy="169.6" r="0.62" opacity="0.88"/>
<circle cx="1047.3" cy="169.6" r="0.95" opacity="0.91"/>
<circle cx="1068.8" cy="133.2" r="0.69" opacity="0.65"/>
<circle cx="1075.2" cy="149.8" r="0.86" opacity="0.71"/>
<circle cx="1054.9" cy="134.4" r="0.89" opacity="0.69"/>
<circle cx="1100.7" cy="179.3" r="0.88" opacity="0.38"/>
<circle cx="1086.2" cy="172.8" r="0.75" opacity="0.64"/>
<circle cx="1045.8" cy="159.3" r="1.00" opacity="0.85"/>
<circle cx="1073.6" cy="173.7" r="0.72" opacity="0.41"/>
<circle cx="1112.5" cy="195.4" r="0.70" opacity="0.81"/>
<circle cx="1066.8" cy="173.7" r="0.85" opacity="0.54"/>
<circle cx="1065.2" cy="157.8" r="0.98" opacity="0.47"/>
<circle cx="1058.9" cy="182.7" r="0.85" opacity="0.95"/>
<circle cx="1079.4" cy="176.0" r="0.88" opacity="0.68"/>
<circle cx="1061.5" cy="188.3" r="0.88" opacity="0.86"/>
<circle cx="1068.3" cy="164.4" r="0.70" opacity="0.76"/>
<circle cx="1062.8" cy="164.3" r="0.98" opacity="0.88"/>
<circle cx="1082.4" cy="135.8" r="0.92" opacity="0.84"/>
<circle cx="1067.2" cy="165.7" r="0.72" opacity="0.57"/>
<circle cx="1114.1" cy="179.0" r="0.70" opacity="0.80"/>
<circle cx="1085.3" cy="181.0" r="0.55" opacity="0.63"/>
<circle cx="1073.2" cy="184.5" r="0.70" opacity="0.50"/>
<circle cx="1078.6" cy="165.9" r="0.62" opacity="0.48"/>
<circle cx="1106.3" cy="159.4" r="0.66" opacity="0.83"/>
<circle cx="1067.3" cy="156.6" r="0.72" opacity="0.73"/>
<circle cx="1055.1" cy="139.0" r="0.63" opacity="0.66"/>
<circle cx="1114.9" cy="163.3" r="0.90" opacity="0.86"/>
<circle cx="1081.6" cy="172.7" r="0.80" opacity="0.87"/>
<circle cx="1111.5" cy="155.7" r="0.56" opacity="0.55"/>
<circle cx="1111.8" cy="169.8" r="0.93" opacity="0.80"/>
<circle cx="1062.1" cy="146.6" r="0.87" opacity="0.84"/>
<circle cx="1084.6" cy="164.4" r="0.85" opacity="0.60"/>
<circle cx="1078.2" cy="161.9" r="0.71" opacity="0.93"/>
<circle cx="1110.6" cy="191.1" r="0.64" opacity="0.67"/>
<circle cx="1083.6" cy="181.8" r="0.67" opacity="0.52"/>
<circle cx="1112.5" cy="170.8" r="0.75" opacity="0.44"/>
<circle cx="1071.6" cy="155.4" r="0.93" opacity="0.55"/>
<circle cx="1097.0" cy="177.3" r="0.91" opacity="0.83"/>
<circle cx="1079.9" cy="137.1" r="0.94" opacity="0.42"/>
<circle cx="1100.7" cy="181.3" r="0.66" opacity="0.92"/>
<circle cx="1073.1" cy="134.4" r="0.93" opacity="0.79"/>
<circle cx="1110.6" cy="172.7" r="0.71" opacity="0.86"/>
<circle cx="1051.4" cy="150.1" r="0.58" opacity="0.43"/>
<circle cx="1054.4" cy="169.1" r="0.72" opacity="0.42"/>
<circle cx="1105.1" cy="198.7" r="0.67" opacity="0.73"/>
<circle cx="1105.7" cy="173.5" r="0.98" opacity="0.60"/>
<circle cx="1107.2" cy="200.8" r="0.71" opacity="0.85"/>
<circle cx="1076.8" cy="190.9" r="0.80" opacity="0.83"/>
<circle cx="1081.9" cy="180.5" r="0.80" opacity="0.90"/>
<circle cx="1050.3" cy="153.6" r="0.75" opacity="0.94"/>
<circle cx="1085.1" cy="147.0" r="0.62" opacity="0.50"/>
<circle cx="1077.5" cy="151.9" r="0.70" opacity="0.68"/>
<circle cx="1076.3" cy="138.0" r="0.96" opacity="0.56"/>
<circle cx="1051.6" cy="137.2" r="0.86" opacity="0.80"/>
<circle cx="1057.0" cy="158.8" r="0.83" opacity="0.68"/>
<circle cx="1069.2" cy="163.0" r="0.90" opacity="0.75"/>
<circle cx="1076.5" cy="191.1" r="0.61" opacity="0.85"/>
<circle cx="1106.3" cy="170.8" r="0.79" opacity="0.64"/>
<circle cx="1067.4" cy="192.0" r="0.99" opacity="0.49"/>
<circle cx="1080.9" cy="137.4" r="0.87" opacity="0.60"/>
<circle cx="1086.8" cy="189.6" r="0.98" opacity="0.70"/>
<circle cx="1066.5" cy="173.4" r="0.60" opacity="0.52"/>
<circle cx="1093.2" cy="177.8" r="0.97" opacity="0.70"/>
<circle cx="1063.0" cy="151.8" r="0.58" opacity="0.58"/>
<circle cx="1079.2" cy="134.8" r="0.93" opacity="0.54"/>
<circle cx="1071.7" cy="164.8" r="0.79" opacity="0.70"/>
<circle cx="1092.7" cy="197.6" r="0.86" opacity="0.61"/>
<circle cx="1063.4" cy="179.5" r="0.78" opacity="0.56"/>
<circle cx="1057.5" cy="154.2" r="0.87" opacity="0.49"/>
<circle cx="1091.2" cy="171.4" r="0.73" opacity="0.66"/>
<circle cx="1096.0" cy="153.7" r="0.86" opacity="0.90"/>
<circle cx="1053.9" cy="139.7" r="0.93" opacity="0.46"/>
<circle cx="1091.6" cy="183.8" r="0.58" opacity="0.80"/>
<circle cx="1091.5" cy="160.9" r="0.86" opacity="0.82"/>
<circle cx="1120.3" cy="186.1" r="0.95" opacity="0.76"/>
<circle cx="1076.3" cy="192.0" r="0.98" opacity="0.36"/>
<circle cx="1072.7" cy="175.8" r="0.73" opacity="0.41"/>
<circle cx="1098.6" cy="189.5" r="0.88" opacity="0.60"/>
<circle cx="1089.8" cy="168.9" r="0.82" opacity="0.40"/>
<circle cx="1117.5" cy="177.1" r="0.83" opacity="0.37"/>
<circle cx="1057.3" cy="174.8" r="0.77" opacity="0.46"/>
<circle cx="1085.9" cy="166.9" r="0.80" opacity="0.75"/>
<circle cx="1062.2" cy="159.4" r="0.96" opacity="0.77"/>
<circle cx="1091.5" cy="187.8" r="0.77" opacity="0.42"/>
<circle cx="1109.0" cy="185.6" r="0.56" opacity="0.59"/>
<circle cx="1115.9" cy="183.4" r="0.67" opacity="0.81"/>
<circle cx="1100.3" cy="185.4" r="0.92" opacity="0.91"/>
<circle cx="1048.1" cy="165.4" r="0.97" opacity="0.45"/>
<circle cx="1082.8" cy="192.2" r="0.90" opacity="0.61"/>
<circle cx="1074.5" cy="183.8" r="0.94" opacity="0.74"/>
<circle cx="1087.5" cy="158.5" r="0.70" opacity="0.53"/>
<circle cx="1060.4" cy="163.4" r="0.75" opacity="0.55"/>
<circle cx="1084.4" cy="158.0" r="0.62" opacity="0.58"/>
<circle cx="1068.1" cy="189.0" r="0.55" opacity="0.65"/>
<circle cx="1098.7" cy="151.9" r="0.94" opacity="0.72"/>
<circle cx="1046.4" cy="160.6" r="0.75" opacity="0.62"/>
<circle cx="1081.5" cy="187.9" r="0.91" opacity="0.69"/>
<circle cx="1065.4" cy="185.9" r="0.94" opacity="0.49"/>
<circle cx="1112.7" cy="166.9" r="0.91" opacity="0.39"/>
<circle cx="1088.7" cy="194.3" r="0.62" opacity="0.55"/>
<circle cx="1106.1" cy="149.7" r="0.80" opacity="0.40"/>
<circle cx="1071.0" cy="181.8" r="0.58" opacity="0.48"/>
<circle cx="1095.5" cy="155.2" r="0.58" opacity="0.54"/>
<circle cx="1101.0" cy="164.0" r="0.62" opacity="0.48"/>
<circle cx="1054.7" cy="177.0" r="0.98" opacity="0.45"/>
<circle cx="1057.8" cy="178.3" r="0.95" opacity="0.58"/>
<circle cx="1073.9" cy="173.7" r="0.96" opacity="0.52"/>
<circle cx="1105.6" cy="157.0" r="0.83" opacity="0.88"/>
<circle cx="1056.2" cy="143.1" r="0.75" opacity="0.46"/>
<circle cx="1074.8" cy="194.3" r="0.77" opacity="0.36"/>
<circle cx="1087.6" cy="168.7" r="0.74" opacity="0.91"/>
<circle cx="1103.1" cy="167.4" r="0.72" opacity="0.80"/>
<circle cx="1111.6" cy="189.7" r="0.79" opacity="0.91"/>
<circle cx="1067.2" cy="158.7" r="0.82" opacity="0.91"/>
<circle cx="1065.8" cy="168.8" r="0.87" opacity="0.39"/>
<circle cx="1081.0" cy="197.2" r="0.85" opacity="0.83"/>
<circle cx="1096.1" cy="193.3" r="0.90" opacity="0.55"/>
<circle cx="1100.1" cy="183.2" r="0.64" opacity="0.70"/>
<circle cx="1096.4" cy="144.1" r="0.81" opacity="0.69"/>
<circle cx="1057.7" cy="142.2" r="0.66" opacity="0.44"/>
<circle cx="1102.2" cy="170.4" r="0.90" opacity="0.46"/>
<circle cx="1048.0" cy="149.6" r="0.71" opacity="0.93"/>
<circle cx="1083.7" cy="175.2" r="0.99" opacity="0.77"/>
<circle cx="1114.6" cy="190.2" r="0.99" opacity="0.64"/>
<circle cx="1082.4" cy="198.5" r="0.64" opacity="0.63"/>
<circle cx="1101.4" cy="167.6" r="0.69" opacity="0.39"/>
<circle cx="1069.7" cy="174.3" r="0.60" opacity="0.44"/>
<circle cx="1092.1" cy="158.8" r="0.74" opacity="0.89"/>
<circle cx="1109.5" cy="183.5" r="0.98" opacity="0.69"/>
<circle cx="1076.9" cy="197.7" r="0.65" opacity="0.90"/>
<circle cx="1056.0" cy="135.4" r="0.77" opacity="0.56"/>
<circle cx="1049.6" cy="142.1" r="0.68" opacity="0.43"/>
<circle cx="1080.9" cy="176.1" r="0.65" opacity="0.94"/>
<circle cx="1098.5" cy="158.5" r="0.72" opacity="0.41"/>
<circle cx="1103.8" cy="170.2" r="0.83" opacity="0.82"/>
<circle cx="1097.5" cy="165.5" r="0.67" opacity="0.90"/>
<circle cx="1056.8" cy="133.8" r="0.98" opacity="0.41"/>
<circle cx="1086.0" cy="160.7" r="0.67" opacity="0.76"/>
<circle cx="1095.9" cy="159.8" r="0.70" opacity="0.80"/>
<circle cx="1067.9" cy="138.3" r="0.86" opacity="0.86"/>
<circle cx="1100.1" cy="144.1" r="0.86" opacity="0.55"/>
<circle cx="1054.0" cy="150.0" r="0.95" opacity="0.67"/>
<circle cx="1065.6" cy="164.8" r="0.71" opacity="0.73"/>
<circle cx="1074.3" cy="158.7" r="0.63" opacity="0.73"/>
<circle cx="1050.1" cy="146.8" r="0.59" opacity="0.64"/>
<circle cx="1086.5" cy="175.9" r="0.78" opacity="0.81"/>
<circle cx="1061.7" cy="157.1" r="0.86" opacity="0.79"/>
<circle cx="1068.6" cy="183.5" r="0.67" opacity="0.52"/>
<circle cx="1108.2" cy="193.8" r="0.73" opacity="0.69"/>
<circle cx="1068.8" cy="141.9" r="0.85" opacity="0.43"/>
<circle cx="1092.1" cy="165.6" r="0.89" opacity="0.36"/>
<circle cx="1069.2" cy="136.0" r="0.86" opacity="0.58"/>
<circle cx="1061.1" cy="164.9" r="0.90" opacity="0.73"/>
<circle cx="1047.7" cy="140.8" r="0.63" opacity="0.43"/>
<circle cx="1086.3" cy="140.3" r="0.67" opacity="0.58"/>
<circle cx="1096.7" cy="164.2" r="0.82" opacity="0.83"/>
<circle cx="1088.4" cy="172.1" r="0.91" opacity="0.40"/>
<circle cx="1057.7" cy="155.9" r="0.86" opacity="0.63"/>
<circle cx="1073.8" cy="163.4" r="0.58" opacity="0.77"/>
<circle cx="1050.3" cy="160.4" r="0.76" opacity="0.74"/>
<circle cx="1088.9" cy="196.9" r="0.84" opacity="0.65"/>
<circle cx="1070.1" cy="163.7" r="0.72" opacity="0.73"/>
<circle cx="1081.7" cy="194.6" r="0.97" opacity="0.87"/>
<circle cx="1092.3" cy="165.2" r="0.94" opacity="0.90"/>
<circle cx="1078.4" cy="181.3" r="0.84" opacity="0.39"/>
<circle cx="1092.2" cy="196.2" r="0.99" opacity="0.80"/>
<circle cx="1089.2" cy="174.0" r="0.83" opacity="0.61"/>
<circle cx="1086.5" cy="172.9" r="0.56" opacity="0.84"/>
<circle cx="1051.1" cy="164.2" r="0.88" opacity="0.60"/>
<circle cx="1088.7" cy="153.7" r="0.68" opacity="0.88"/>
<circle cx="1087.4" cy="167.2" r="0.93" opacity="0.61"/>
<circle cx="1053.2" cy="136.1" r="0.56" opacity="0.65"/>
<circle cx="1049.0" cy="152.6" r="0.79" opacity="0.50"/>
<circle cx="1083.6" cy="151.5" r="0.84" opacity="0.35"/>
<circle cx="1064.3" cy="132.6" r="0.86" opacity="0.47"/>
<circle cx="1056.7" cy="141.3" r="0.79" opacity="0.43"/>
<circle cx="1060.9" cy="140.6" r="0.87" opacity="0.55"/>
<circle cx="1071.1" cy="168.9" r="0.80" opacity="0.79"/>
<circle cx="1099.2" cy="173.9" r="0.65" opacity="0.86"/>
<circle cx="1094.0" cy="169.8" r="0.76" opacity="0.58"/>
<circle cx="1083.8" cy="150.3" r="0.58" opacity="0.64"/>
</g>
<g filter="url(#bl3)" fill="#2ea060">
<circle cx="1059.3" cy="186.2" r="0.51" opacity="0.48"/>
<circle cx="1077.2" cy="196.5" r="0.51" opacity="0.81"/>
<circle cx="1099.3" cy="188.0" r="0.70" opacity="0.57"/>
<circle cx="1052.5" cy="174.6" r="0.50" opacity="0.75"/>
<circle cx="1094.3" cy="185.2" r="0.71" opacity="0.52"/>
<circle cx="1110.3" cy="141.4" r="0.53" opacity="0.49"/>
<circle cx="1101.2" cy="163.6" r="0.47" opacity="0.79"/>
<circle cx="1072.5" cy="121.7" r="0.75" opacity="0.48"/>
<circle cx="1082.8" cy="174.1" r="0.46" opacity="0.69"/>
<circle cx="1059.4" cy="153.9" r="0.64" opacity="0.78"/>
<circle cx="1099.4" cy="181.3" r="0.65" opacity="0.44"/>
<circle cx="1074.2" cy="150.2" r="0.71" opacity="0.45"/>
<circle cx="1080.1" cy="121.9" r="0.71" opacity="0.42"/>
<circle cx="1036.2" cy="159.3" r="0.49" opacity="0.80"/>
<circle cx="1104.9" cy="150.6" r="0.52" opacity="0.69"/>
<circle cx="1091.4" cy="168.3" r="0.48" opacity="0.43"/>
<circle cx="1074.3" cy="170.1" r="0.70" opacity="0.66"/>
<circle cx="1058.5" cy="144.6" r="0.66" opacity="0.55"/>
<circle cx="1103.9" cy="201.0" r="0.74" opacity="0.49"/>
<circle cx="1100.3" cy="151.7" r="0.62" opacity="0.46"/>
<circle cx="1087.1" cy="177.6" r="0.52" opacity="0.83"/>
<circle cx="1111.9" cy="159.2" r="0.66" opacity="0.56"/>
<circle cx="1086.5" cy="213.3" r="0.65" opacity="0.48"/>
<circle cx="1052.8" cy="188.6" r="0.45" opacity="0.50"/>
<circle cx="1111.9" cy="154.9" r="0.71" opacity="0.54"/>
<circle cx="1069.3" cy="206.6" r="0.53" opacity="0.80"/>
<circle cx="1034.8" cy="166.4" r="0.64" opacity="0.43"/>
<circle cx="1076.3" cy="150.3" r="0.49" opacity="0.69"/>
<circle cx="1127.8" cy="183.4" r="0.71" opacity="0.62"/>
<circle cx="1114.4" cy="186.9" r="0.75" opacity="0.78"/>
<circle cx="1034.2" cy="155.2" r="0.50" opacity="0.69"/>
<circle cx="1109.1" cy="172.2" r="0.65" opacity="0.80"/>
<circle cx="1062.3" cy="205.8" r="0.58" opacity="0.54"/>
<circle cx="1102.0" cy="134.9" r="0.51" opacity="0.68"/>
<circle cx="1102.0" cy="129.4" r="0.48" opacity="0.81"/>
<circle cx="1085.8" cy="205.4" r="0.68" opacity="0.50"/>
</g>
<g filter="url(#bl3)" fill="#c82a2a">
<circle cx="1117.4" cy="179.0" r="0.90" opacity="0.82"/>
<circle cx="1077.1" cy="178.8" r="0.83" opacity="0.72"/>
<circle cx="1054.2" cy="140.4" r="0.79" opacity="0.77"/>
<circle cx="1048.5" cy="146.4" r="0.82" opacity="0.85"/>
<circle cx="1064.0" cy="185.3" r="0.81" opacity="0.88"/>
<circle cx="1062.0" cy="184.6" r="0.88" opacity="0.73"/>
<circle cx="1063.9" cy="141.4" r="0.69" opacity="0.72"/>
<circle cx="1110.9" cy="170.1" r="0.73" opacity="0.52"/>
<circle cx="1113.5" cy="190.6" r="0.63" opacity="0.73"/>
<circle cx="1109.9" cy="159.4" r="0.82" opacity="0.44"/>
<circle cx="1080.8" cy="164.1" r="0.78" opacity="0.78"/>
<circle cx="1070.7" cy="179.5" r="0.53" opacity="0.56"/>
<circle cx="1073.1" cy="135.2" r="0.60" opacity="0.45"/>
<circle cx="1114.9" cy="189.5" r="0.75" opacity="0.52"/>
<circle cx="1106.0" cy="159.1" r="0.73" opacity="0.78"/>
<circle cx="1085.4" cy="153.6" r="0.53" opacity="0.51"/>
<circle cx="1075.6" cy="169.2" r="0.84" opacity="0.76"/>
<circle cx="1076.2" cy="142.2" r="0.73" opacity="0.55"/>
<circle cx="1088.2" cy="147.7" r="0.70" opacity="0.80"/>
<circle cx="1060.4" cy="172.2" r="0.91" opacity="0.84"/>
<circle cx="1055.6" cy="155.7" r="0.90" opacity="0.66"/>
<circle cx="1065.8" cy="147.1" r="0.78" opacity="0.70"/>
<circle cx="1058.0" cy="146.4" r="0.75" opacity="0.64"/>
<circle cx="1096.8" cy="186.5" r="0.90" opacity="0.50"/>
<circle cx="1063.0" cy="183.3" r="0.76" opacity="0.58"/>
<circle cx="1083.7" cy="143.3" r="0.62" opacity="0.62"/>
<circle cx="1088.7" cy="167.2" r="0.66" opacity="0.86"/>
<circle cx="1096.5" cy="177.5" r="0.90" opacity="0.85"/>
<circle cx="1107.0" cy="194.9" r="0.86" opacity="0.43"/>
<circle cx="1062.2" cy="147.7" r="0.66" opacity="0.83"/>
<circle cx="1069.0" cy="170.6" r="0.73" opacity="0.83"/>
<circle cx="1049.6" cy="142.5" r="0.69" opacity="0.45"/>
<circle cx="1089.8" cy="141.8" r="0.51" opacity="0.40"/>
<circle cx="1106.6" cy="198.5" r="0.58" opacity="0.79"/>
</g>
<ellipse cx="1064.0" cy="140.2" rx="1.60" ry="2.00" fill="#e8301c" filter="url(#bl3)"/>
<ellipse cx="1063.8" cy="139.2" rx="0.96" ry="1.12" fill="#f0d238" filter="url(#bl3)"/>
<circle cx="1063.4" cy="138.2" r="0.99" fill="#3fd47a" filter="url(#bl3)"/>
<ellipse cx="1084.0" cy="144.3" rx="1.70" ry="2.12" fill="#e8301c" filter="url(#bl3)"/>
<ellipse cx="1083.8" cy="143.3" rx="1.02" ry="1.19" fill="#f0d238" filter="url(#bl3)"/>
<circle cx="1083.4" cy="142.2" r="1.05" fill="#3fd47a" filter="url(#bl3)"/>
<ellipse cx="1062.5" cy="151.5" rx="2.40" ry="3.00" fill="#e8301c" filter="url(#bl3)"/>
<ellipse cx="1062.3" cy="150.6" rx="1.49" ry="2.16" fill="#f6e23a" filter="url(#bl3)"/>
<circle cx="1062.0" cy="148.8" r="0.96" fill="#8fe84a" filter="url(#bl3)"/>
<ellipse cx="1078.7" cy="167.1" rx="1.50" ry="1.88" fill="#e8301c" filter="url(#bl3)"/>
<ellipse cx="1078.5" cy="166.1" rx="0.90" ry="1.05" fill="#f0d238" filter="url(#bl3)"/>
<circle cx="1078.1" cy="165.2" r="0.93" fill="#3fd47a" filter="url(#bl3)"/>
<ellipse cx="1074.3" cy="178.1" rx="2.50" ry="3.12" fill="#e8301c" filter="url(#bl3)"/>
<ellipse cx="1074.1" cy="177.2" rx="1.55" ry="2.25" fill="#f6e23a" filter="url(#bl3)"/>
<circle cx="1073.8" cy="175.3" r="1.00" fill="#8fe84a" filter="url(#bl3)"/>
<ellipse cx="1062.5" cy="180.3" rx="1.30" ry="1.62" fill="#e8301c" filter="url(#bl3)"/>
<ellipse cx="1062.3" cy="179.3" rx="0.78" ry="0.91" fill="#f0d238" filter="url(#bl3)"/>
<circle cx="1061.9" cy="178.6" r="0.81" fill="#3fd47a" filter="url(#bl3)"/>
<ellipse cx="1079.6" cy="178.8" rx="1.30" ry="1.62" fill="#e8301c" filter="url(#bl3)"/>
<ellipse cx="1109.4" cy="169.5" rx="1.50" ry="1.88" fill="#e8301c" filter="url(#bl3)"/>
<ellipse cx="1109.2" cy="168.5" rx="0.90" ry="1.05" fill="#f0d238" filter="url(#bl3)"/>
<circle cx="1108.8" cy="167.6" r="0.93" fill="#3fd47a" filter="url(#bl3)"/>
<ellipse cx="1113.4" cy="182.3" rx="1.30" ry="1.62" fill="#e8301c" filter="url(#bl3)"/>
<ellipse cx="1113.2" cy="181.3" rx="0.78" ry="0.91" fill="#f0d238" filter="url(#bl3)"/>
<circle cx="1112.8" cy="180.6" r="0.81" fill="#3fd47a" filter="url(#bl3)"/>
<ellipse cx="1088.4" cy="194.5" rx="1.40" ry="1.75" fill="#e8301c" filter="url(#bl3)"/>
<ellipse cx="1088.2" cy="193.5" rx="0.84" ry="0.98" fill="#f0d238" filter="url(#bl3)"/>
<circle cx="1087.8" cy="192.7" r="0.87" fill="#3fd47a" filter="url(#bl3)"/>
<ellipse cx="1108.0" cy="196.4" rx="1.20" ry="1.50" fill="#e8301c" filter="url(#bl3)"/>
<ellipse cx="1107.8" cy="195.4" rx="0.72" ry="0.84" fill="#f0d238" filter="url(#bl3)"/>
<circle cx="1107.4" cy="194.8" r="0.74" fill="#3fd47a" filter="url(#bl3)"/>
<ellipse cx="1050.8" cy="196.4" rx="1.10" ry="1.38" fill="#e8301c" filter="url(#bl3)"/>
<ellipse cx="1039.1" cy="197.4" rx="1.10" ry="1.38" fill="#e8301c" filter="url(#bl3)"/>
<ellipse cx="1080.6" cy="199.4" rx="1.10" ry="1.38" fill="#e8301c" filter="url(#bl3)"/>
<ellipse cx="1061.8" cy="202.8" rx="0.80" ry="1.00" fill="#e8301c" filter="url(#bl3)"/>
<ellipse cx="1091.4" cy="171.0" rx="1.00" ry="1.25" fill="#e8301c" filter="url(#bl3)"/>
<ellipse cx="1100.9" cy="156.4" rx="1.00" ry="1.25" fill="#e8301c" filter="url(#bl3)"/>
<ellipse cx="1107.5" cy="161.2" rx="0.80" ry="1.00" fill="#e8301c" filter="url(#bl3)"/>
<ellipse cx="1064.0" cy="163.2" rx="1.00" ry="1.25" fill="#e8301c" filter="url(#bl3)"/>
<ellipse cx="1078.6" cy="142.7" rx="0.90" ry="1.12" fill="#e8301c" filter="url(#bl3)"/>
<ellipse cx="1091.9" cy="186.2" rx="0.90" ry="1.12" fill="#e8301c" filter="url(#bl3)"/>
<ellipse cx="1061.5" cy="189.1" rx="0.90" ry="1.12" fill="#e8301c" filter="url(#bl3)"/>
<ellipse cx="1074.7" cy="186.2" rx="1.00" ry="1.25" fill="#e8301c" filter="url(#bl3)"/>
<ellipse cx="1088.4" cy="179.3" rx="0.90" ry="1.12" fill="#e8301c" filter="url(#bl3)"/>
<ellipse cx="1070.3" cy="156.8" rx="0.80" ry="1.00" fill="#e8301c" filter="url(#bl3)"/>
<path d="M1057.40 142.40 L1062.80 140.50 L1060.30 145.20 Z" fill="#fff"/>
<path d="M1077.40 147.30 L1082.80 145.40 L1080.30 150.10 Z" fill="#fff"/>
<path d="M1056.10 155.10 L1061.50 153.20 L1059.00 157.90 Z" fill="#fff"/>
<path d="M1067.40 181.20 L1072.80 179.30 L1070.30 184.00 Z" fill="#fff"/>
</g>
<clipPath id="cC20"><rect x="949.90" y="211.60" width="84.30" height="84.30"/></clipPath>
<rect x="949.90" y="211.60" width="84.30" height="84.30" fill="#020103" stroke="none" stroke-width="1"/>
<g clip-path="url(#cC20)">
<ellipse cx="992.9" cy="257.6" rx="38" ry="14" fill="#2a1766" opacity=".45" filter="url(#bl4)" transform="rotate(35 992.9 257.6)"/>
<g filter="url(#bl3)" fill="#3a1f80">
<circle cx="998.8" cy="251.1" r="1.27" opacity="0.55"/>
<circle cx="991.3" cy="271.5" r="0.66" opacity="0.62"/>
<circle cx="980.1" cy="240.1" r="0.82" opacity="0.60"/>
<circle cx="1016.3" cy="281.1" r="0.82" opacity="0.35"/>
<circle cx="984.5" cy="242.1" r="0.95" opacity="0.50"/>
<circle cx="974.3" cy="234.6" r="1.22" opacity="0.58"/>
<circle cx="991.7" cy="252.8" r="1.16" opacity="0.58"/>
<circle cx="990.9" cy="252.2" r="0.98" opacity="0.63"/>
<circle cx="1012.1" cy="257.0" r="0.62" opacity="0.44"/>
<circle cx="975.6" cy="255.0" r="1.03" opacity="0.36"/>
<circle cx="986.9" cy="256.0" r="0.94" opacity="0.40"/>
<circle cx="1007.9" cy="260.6" r="1.30" opacity="0.45"/>
<circle cx="988.2" cy="264.7" r="0.85" opacity="0.66"/>
<circle cx="995.4" cy="260.8" r="0.77" opacity="0.43"/>
<circle cx="989.4" cy="266.1" r="0.71" opacity="0.64"/>
<circle cx="1005.9" cy="257.7" r="0.67" opacity="0.69"/>
<circle cx="979.0" cy="244.9" r="1.09" opacity="0.54"/>
<circle cx="997.2" cy="247.2" r="1.19" opacity="0.36"/>
<circle cx="989.1" cy="245.5" r="1.18" opacity="0.38"/>
<circle cx="1011.0" cy="272.0" r="1.03" opacity="0.60"/>
<circle cx="988.7" cy="243.8" r="1.12" opacity="0.55"/>
<circle cx="993.0" cy="246.9" r="0.71" opacity="0.48"/>
<circle cx="1006.8" cy="260.5" r="0.61" opacity="0.48"/>
<circle cx="972.7" cy="251.9" r="1.09" opacity="0.50"/>
<circle cx="964.6" cy="243.9" r="0.93" opacity="0.61"/>
<circle cx="1016.4" cy="261.9" r="0.80" opacity="0.52"/>
<circle cx="1013.4" cy="256.6" r="0.77" opacity="0.35"/>
<circle cx="1014.0" cy="279.6" r="1.13" opacity="0.63"/>
<circle cx="971.0" cy="253.1" r="0.85" opacity="0.46"/>
<circle cx="971.0" cy="234.7" r="0.87" opacity="0.63"/>
<circle cx="996.2" cy="252.3" r="1.02" opacity="0.42"/>
<circle cx="1014.6" cy="267.1" r="0.75" opacity="0.46"/>
<circle cx="995.6" cy="264.4" r="0.79" opacity="0.52"/>
<circle cx="1006.7" cy="257.7" r="0.82" opacity="0.47"/>
<circle cx="1016.7" cy="261.7" r="0.79" opacity="0.66"/>
<circle cx="1002.4" cy="247.3" r="0.98" opacity="0.69"/>
<circle cx="989.1" cy="264.8" r="1.18" opacity="0.36"/>
<circle cx="964.8" cy="244.3" r="0.88" opacity="0.60"/>
<circle cx="987.5" cy="255.8" r="0.98" opacity="0.59"/>
<circle cx="978.8" cy="264.4" r="0.63" opacity="0.59"/>
<circle cx="1005.9" cy="251.5" r="0.80" opacity="0.59"/>
<circle cx="966.2" cy="236.1" r="1.07" opacity="0.39"/>
<circle cx="1003.1" cy="249.1" r="0.69" opacity="0.33"/>
<circle cx="994.9" cy="255.4" r="1.15" opacity="0.58"/>
<circle cx="983.9" cy="268.1" r="0.97" opacity="0.55"/>
<circle cx="1016.3" cy="262.5" r="1.29" opacity="0.45"/>
<circle cx="985.6" cy="269.3" r="0.64" opacity="0.60"/>
<circle cx="966.5" cy="248.7" r="0.82" opacity="0.60"/>
<circle cx="989.6" cy="262.0" r="1.24" opacity="0.60"/>
<circle cx="1013.9" cy="262.8" r="1.14" opacity="0.56"/>
<circle cx="973.4" cy="243.2" r="0.93" opacity="0.48"/>
<circle cx="1010.0" cy="255.9" r="1.21" opacity="0.67"/>
<circle cx="993.5" cy="254.3" r="0.90" opacity="0.48"/>
<circle cx="980.2" cy="246.6" r="0.86" opacity="0.44"/>
<circle cx="1009.3" cy="271.5" r="1.27" opacity="0.65"/>
<circle cx="1017.7" cy="267.9" r="1.10" opacity="0.49"/>
<circle cx="974.3" cy="235.1" r="0.63" opacity="0.47"/>
<circle cx="1006.5" cy="252.8" r="1.05" opacity="0.40"/>
<circle cx="1005.3" cy="257.6" r="0.94" opacity="0.45"/>
<circle cx="1001.2" cy="270.4" r="1.18" opacity="0.59"/>
</g>
<g filter="url(#bl3)" fill="#a02440">
<circle cx="990.7" cy="255.5" r="0.56" opacity="0.33"/>
<circle cx="976.8" cy="247.9" r="0.57" opacity="0.67"/>
<circle cx="1017.9" cy="269.9" r="0.71" opacity="0.55"/>
<circle cx="980.1" cy="251.3" r="0.46" opacity="0.42"/>
<circle cx="994.4" cy="262.5" r="0.70" opacity="0.66"/>
<circle cx="999.5" cy="260.7" r="0.58" opacity="0.44"/>
<circle cx="974.0" cy="238.2" r="0.64" opacity="0.44"/>
<circle cx="972.5" cy="249.1" r="0.57" opacity="0.53"/>
<circle cx="968.0" cy="243.7" r="0.60" opacity="0.69"/>
<circle cx="972.8" cy="236.6" r="0.71" opacity="0.48"/>
<circle cx="993.0" cy="272.8" r="0.64" opacity="0.34"/>
<circle cx="970.4" cy="249.7" r="0.47" opacity="0.61"/>
<circle cx="981.7" cy="238.7" r="0.76" opacity="0.52"/>
<circle cx="970.5" cy="251.9" r="0.71" opacity="0.67"/>
<circle cx="1018.5" cy="274.2" r="0.75" opacity="0.31"/>
<circle cx="1001.9" cy="257.7" r="0.59" opacity="0.68"/>
<circle cx="997.2" cy="258.7" r="0.64" opacity="0.70"/>
<circle cx="970.8" cy="235.8" r="0.49" opacity="0.53"/>
<circle cx="995.4" cy="260.1" r="0.79" opacity="0.41"/>
<circle cx="1013.7" cy="269.6" r="0.74" opacity="0.67"/>
<circle cx="986.4" cy="251.7" r="0.51" opacity="0.61"/>
<circle cx="1019.8" cy="270.8" r="0.69" opacity="0.51"/>
</g>
<g filter="url(#bl3)" fill="#e2322a">
<circle cx="975.0" cy="224.8" r="0.9" opacity="0.8"/>
<circle cx="977.5" cy="229.0" r="0.8" opacity="0.7"/>
<circle cx="992.1" cy="228.8" r="0.9" opacity="0.8"/>
<circle cx="956.1" cy="241.0" r="1.4" opacity="1"/>
<circle cx="990.0" cy="235.0" r="1.3" opacity="1"/>
<circle cx="990.0" cy="237.0" r="1.3" opacity="1"/>
<circle cx="973.2" cy="239.8" r="1.5" opacity="1"/>
<circle cx="977.8" cy="240.2" r="1.1" opacity="1"/>
<circle cx="997.5" cy="239.8" r="1.2" opacity="1"/>
<circle cx="975.3" cy="243.2" r="1.2" opacity="1"/>
<circle cx="974.8" cy="246.6" r="1.6" opacity="1"/>
<circle cx="965.5" cy="246.1" r="0.8" opacity="0.5"/>
<circle cx="991.2" cy="244.3" r="1.2" opacity="1"/>
<circle cx="993.4" cy="248.6" r="0.9" opacity="1"/>
<circle cx="975.3" cy="251.0" r="1.0" opacity="1"/>
<circle cx="986.6" cy="248.9" r="1.4" opacity="1"/>
<circle cx="986.1" cy="251.6" r="1.9" opacity="1"/>
<circle cx="988.1" cy="247.6" r="1.0" opacity="1"/>
<circle cx="1001.2" cy="252.0" r="1.8" opacity="1"/>
<circle cx="1000.2" cy="253.6" r="1.3" opacity="1"/>
<circle cx="1022.7" cy="250.8" r="0.9" opacity="1"/>
<circle cx="961.3" cy="253.9" r="0.7" opacity="0.5"/>
<circle cx="969.3" cy="258.8" r="0.8" opacity="0.8"/>
<circle cx="975.8" cy="259.8" r="0.9" opacity="1"/>
<circle cx="992.2" cy="259.3" r="1.2" opacity="1"/>
<circle cx="1005.1" cy="259.3" r="1.5" opacity="1"/>
<circle cx="1007.4" cy="261.6" r="1.3" opacity="1"/>
<circle cx="990.7" cy="263.7" r="1.0" opacity="1"/>
<circle cx="999.8" cy="263.2" r="1.0" opacity="1"/>
<circle cx="1024.0" cy="265.7" r="0.9" opacity="1"/>
<circle cx="1013.4" cy="271.0" r="0.8" opacity="0.6"/>
<circle cx="1009.0" cy="274.0" r="1.2" opacity="1"/>
<circle cx="1011.8" cy="276.4" r="0.9" opacity="1"/>
<circle cx="1006.9" cy="278.9" r="0.9" opacity="1"/>
<circle cx="993.9" cy="280.6" r="0.8" opacity="0.8"/>
<circle cx="1020.5" cy="281.3" r="1.1" opacity="1"/>
<circle cx="1023.7" cy="280.8" r="0.8" opacity="0.8"/>
</g>
<g filter="url(#bl3)" fill="#30b89a">
<circle cx="997.8" cy="242.7" r="0.8" opacity="0.8"/>
<circle cx="997.3" cy="236.3" r="0.6" opacity="0.6"/>
<circle cx="992.9" cy="247.1" r="0.6" opacity="0.7"/>
<circle cx="1012.3" cy="254.4" r="0.8" opacity="1"/>
<circle cx="999.1" cy="274.3" r="0.8" opacity="1"/>
<circle cx="982.7" cy="234.9" r="0.6" opacity="0.5"/>
</g>
</g>
<clipPath id="cC21"><rect x="1037.60" y="211.60" width="85.10" height="84.30"/></clipPath>
<rect x="1037.60" y="211.60" width="85.10" height="84.30" fill="#020103" stroke="none" stroke-width="1"/>
<g clip-path="url(#cC21)">
<ellipse cx="1099.6" cy="218.1" rx="18" ry="9.5" fill="#5a1734" filter="url(#bl5)"/>
<ellipse cx="1040.6" cy="263.6" rx="9" ry="15" fill="#2a1450" filter="url(#bl5)"/>
<g filter="url(#bl3)" fill="#ee2c22">
<circle cx="1087.5" cy="218.7" r="1.7" opacity="1"/>
<circle cx="1095.3" cy="218.7" r="1.3" opacity="1"/>
<circle cx="1104.1" cy="217.8" r="2.3" opacity="1"/>
<circle cx="1109.0" cy="221.7" r="2.6" opacity="1"/>
<circle cx="1095.8" cy="223.6" r="1.3" opacity="1"/>
<circle cx="1103.1" cy="226.6" r="1.2" opacity="0.6"/>
<circle cx="1112.9" cy="215.8" r="1.5" opacity="1"/>
<circle cx="1099.6" cy="213.6" r="1.5" opacity="1"/>
<circle cx="1090.6" cy="213.1" r="1.2" opacity="1"/>
<circle cx="1083.6" cy="213.6" r="1.0" opacity="1"/>
<circle cx="1106.6" cy="212.6" r="1.4" opacity="1"/>
<circle cx="1094.6" cy="227.1" r="0.9" opacity="0.7"/>
<circle cx="1113.6" cy="222.6" r="1.2" opacity="0.8"/>
<circle cx="1043.0" cy="254.9" r="1.0" opacity="1"/>
<circle cx="1043.5" cy="262.2" r="1.2" opacity="1"/>
<circle cx="1045.9" cy="270.5" r="1.3" opacity="1"/>
<circle cx="1047.9" cy="266.1" r="1.0" opacity="1"/>
<circle cx="1040.1" cy="260.1" r="0.8" opacity="0.6"/>
<circle cx="1040.6" cy="252.6" r="0.7" opacity="0.6"/>
</g>
<ellipse cx="1080.6" cy="251.8" rx="44.5" ry="26.5" fill="#1f1556" filter="url(#bl5)" transform="rotate(48 1080.6 251.8)"/>
<g filter="url(#bl5)" fill="#120b3c">
<circle cx="1054.1" cy="228.5" r="1.64" opacity="0.57"/>
<circle cx="1086.3" cy="259.8" r="2.50" opacity="0.35"/>
<circle cx="1103.3" cy="271.3" r="2.08" opacity="0.59"/>
<circle cx="1094.2" cy="274.6" r="2.29" opacity="0.26"/>
<circle cx="1063.4" cy="259.1" r="2.20" opacity="0.41"/>
<circle cx="1070.8" cy="229.7" r="1.69" opacity="0.29"/>
<circle cx="1100.1" cy="284.2" r="1.85" opacity="0.31"/>
<circle cx="1073.7" cy="237.7" r="1.23" opacity="0.37"/>
<circle cx="1064.4" cy="251.1" r="2.45" opacity="0.25"/>
<circle cx="1083.0" cy="256.9" r="1.35" opacity="0.51"/>
<circle cx="1097.1" cy="261.2" r="1.79" opacity="0.45"/>
<circle cx="1078.2" cy="271.3" r="1.29" opacity="0.32"/>
<circle cx="1075.4" cy="222.8" r="2.26" opacity="0.55"/>
<circle cx="1066.0" cy="249.3" r="2.27" opacity="0.55"/>
<circle cx="1093.0" cy="271.6" r="2.28" opacity="0.36"/>
<circle cx="1094.3" cy="250.3" r="1.65" opacity="0.38"/>
<circle cx="1098.6" cy="235.3" r="1.70" opacity="0.42"/>
<circle cx="1096.3" cy="284.5" r="1.24" opacity="0.39"/>
<circle cx="1110.3" cy="254.3" r="2.38" opacity="0.27"/>
<circle cx="1088.1" cy="264.9" r="2.53" opacity="0.38"/>
<circle cx="1081.4" cy="229.2" r="1.44" opacity="0.36"/>
<circle cx="1093.2" cy="249.5" r="1.29" opacity="0.55"/>
<circle cx="1057.2" cy="245.2" r="2.18" opacity="0.58"/>
<circle cx="1096.3" cy="270.6" r="1.08" opacity="0.26"/>
<circle cx="1058.1" cy="243.0" r="1.25" opacity="0.45"/>
<circle cx="1092.5" cy="269.9" r="2.17" opacity="0.53"/>
<circle cx="1087.1" cy="264.4" r="2.31" opacity="0.34"/>
<circle cx="1090.1" cy="237.6" r="2.23" opacity="0.45"/>
<circle cx="1079.4" cy="238.7" r="1.14" opacity="0.30"/>
<circle cx="1080.0" cy="256.4" r="2.20" opacity="0.31"/>
<circle cx="1087.9" cy="233.1" r="1.18" opacity="0.38"/>
<circle cx="1088.8" cy="247.9" r="1.62" opacity="0.45"/>
<circle cx="1056.7" cy="218.2" r="2.14" opacity="0.25"/>
<circle cx="1057.0" cy="231.6" r="2.19" opacity="0.59"/>
<circle cx="1068.6" cy="266.2" r="1.67" opacity="0.43"/>
<circle cx="1111.2" cy="271.2" r="1.70" opacity="0.58"/>
<circle cx="1061.7" cy="261.6" r="2.07" opacity="0.30"/>
<circle cx="1097.9" cy="257.9" r="2.54" opacity="0.34"/>
<circle cx="1071.6" cy="223.7" r="2.14" opacity="0.39"/>
<circle cx="1071.8" cy="272.2" r="2.14" opacity="0.54"/>
<circle cx="1082.8" cy="223.9" r="1.82" opacity="0.31"/>
<circle cx="1093.5" cy="269.8" r="1.95" opacity="0.32"/>
<circle cx="1062.8" cy="256.1" r="2.02" opacity="0.37"/>
<circle cx="1082.8" cy="255.6" r="2.36" opacity="0.47"/>
<circle cx="1052.9" cy="244.7" r="1.60" opacity="0.25"/>
<circle cx="1090.8" cy="259.1" r="1.37" opacity="0.28"/>
<circle cx="1091.3" cy="265.8" r="2.49" opacity="0.32"/>
<circle cx="1060.8" cy="254.0" r="2.16" opacity="0.33"/>
<circle cx="1058.4" cy="243.2" r="1.67" opacity="0.25"/>
<circle cx="1063.0" cy="263.4" r="1.80" opacity="0.39"/>
<circle cx="1088.8" cy="230.2" r="2.39" opacity="0.30"/>
<circle cx="1077.4" cy="245.8" r="1.44" opacity="0.27"/>
<circle cx="1104.0" cy="280.9" r="2.57" opacity="0.55"/>
<circle cx="1102.1" cy="253.5" r="1.36" opacity="0.26"/>
<circle cx="1098.6" cy="283.9" r="2.37" opacity="0.41"/>
<circle cx="1102.6" cy="272.5" r="1.50" opacity="0.56"/>
<circle cx="1069.6" cy="267.5" r="2.39" opacity="0.28"/>
<circle cx="1074.9" cy="244.0" r="1.96" opacity="0.28"/>
<circle cx="1067.6" cy="266.5" r="1.55" opacity="0.59"/>
<circle cx="1086.4" cy="227.1" r="1.89" opacity="0.28"/>
<circle cx="1103.7" cy="259.2" r="2.44" opacity="0.40"/>
<circle cx="1077.6" cy="227.7" r="2.39" opacity="0.40"/>
<circle cx="1097.5" cy="264.2" r="2.22" opacity="0.30"/>
<circle cx="1107.0" cy="253.5" r="2.59" opacity="0.29"/>
<circle cx="1105.0" cy="246.3" r="1.06" opacity="0.54"/>
<circle cx="1076.4" cy="237.2" r="1.09" opacity="0.39"/>
<circle cx="1076.7" cy="240.4" r="2.12" opacity="0.40"/>
<circle cx="1048.9" cy="227.3" r="1.34" opacity="0.41"/>
<circle cx="1093.5" cy="238.7" r="1.72" opacity="0.52"/>
<circle cx="1077.4" cy="277.4" r="2.23" opacity="0.53"/>
<circle cx="1099.9" cy="259.5" r="1.37" opacity="0.53"/>
<circle cx="1091.6" cy="251.5" r="2.38" opacity="0.26"/>
<circle cx="1081.3" cy="256.3" r="2.01" opacity="0.25"/>
<circle cx="1103.6" cy="246.1" r="1.25" opacity="0.35"/>
<circle cx="1080.7" cy="277.9" r="2.35" opacity="0.46"/>
<circle cx="1084.4" cy="247.3" r="1.52" opacity="0.44"/>
<circle cx="1094.2" cy="285.1" r="1.12" opacity="0.52"/>
<circle cx="1102.1" cy="251.1" r="1.85" opacity="0.39"/>
<circle cx="1057.5" cy="262.0" r="2.38" opacity="0.58"/>
<circle cx="1084.9" cy="228.6" r="1.26" opacity="0.35"/>
<circle cx="1058.4" cy="225.6" r="1.37" opacity="0.38"/>
<circle cx="1055.2" cy="258.6" r="2.53" opacity="0.51"/>
<circle cx="1101.1" cy="252.9" r="2.34" opacity="0.45"/>
<circle cx="1047.8" cy="241.9" r="1.95" opacity="0.39"/>
<circle cx="1055.0" cy="238.9" r="1.18" opacity="0.30"/>
<circle cx="1113.5" cy="264.9" r="2.15" opacity="0.40"/>
<circle cx="1075.8" cy="252.2" r="2.05" opacity="0.30"/>
<circle cx="1091.8" cy="272.0" r="1.52" opacity="0.58"/>
<circle cx="1098.2" cy="259.9" r="2.44" opacity="0.54"/>
<circle cx="1075.3" cy="255.3" r="2.21" opacity="0.60"/>
<circle cx="1108.6" cy="271.5" r="1.99" opacity="0.43"/>
<circle cx="1100.1" cy="249.8" r="1.53" opacity="0.44"/>
<circle cx="1102.4" cy="284.3" r="1.15" opacity="0.60"/>
<circle cx="1087.7" cy="258.7" r="1.92" opacity="0.41"/>
<circle cx="1083.0" cy="259.8" r="2.31" opacity="0.31"/>
<circle cx="1092.3" cy="243.8" r="1.39" opacity="0.60"/>
<circle cx="1072.5" cy="246.3" r="1.50" opacity="0.40"/>
<circle cx="1098.1" cy="268.6" r="1.79" opacity="0.53"/>
<circle cx="1064.5" cy="270.4" r="1.93" opacity="0.41"/>
<circle cx="1064.1" cy="243.8" r="2.48" opacity="0.27"/>
<circle cx="1106.2" cy="257.0" r="1.63" opacity="0.28"/>
<circle cx="1083.0" cy="271.8" r="1.62" opacity="0.36"/>
<circle cx="1086.1" cy="251.1" r="1.62" opacity="0.34"/>
<circle cx="1058.6" cy="240.6" r="1.67" opacity="0.39"/>
<circle cx="1081.3" cy="242.8" r="1.75" opacity="0.46"/>
<circle cx="1062.8" cy="230.2" r="1.75" opacity="0.29"/>
<circle cx="1049.0" cy="229.2" r="1.28" opacity="0.42"/>
<circle cx="1100.7" cy="260.8" r="1.87" opacity="0.60"/>
<circle cx="1097.1" cy="240.0" r="2.31" opacity="0.32"/>
<circle cx="1099.4" cy="244.0" r="1.60" opacity="0.42"/>
</g>
<g filter="url(#bl5)" fill="#3a2a94">
<circle cx="1066.6" cy="241.7" r="1.10" opacity="0.32"/>
<circle cx="1080.7" cy="257.3" r="1.77" opacity="0.34"/>
<circle cx="1087.9" cy="282.2" r="1.51" opacity="0.30"/>
<circle cx="1084.6" cy="244.8" r="1.63" opacity="0.49"/>
<circle cx="1058.7" cy="252.1" r="1.86" opacity="0.25"/>
<circle cx="1061.0" cy="251.4" r="1.58" opacity="0.42"/>
<circle cx="1075.2" cy="271.9" r="1.38" opacity="0.43"/>
<circle cx="1092.3" cy="242.4" r="1.04" opacity="0.40"/>
<circle cx="1100.5" cy="249.5" r="1.62" opacity="0.20"/>
<circle cx="1083.2" cy="259.5" r="1.72" opacity="0.46"/>
<circle cx="1103.6" cy="273.0" r="1.38" opacity="0.33"/>
<circle cx="1060.3" cy="227.6" r="2.17" opacity="0.40"/>
<circle cx="1087.3" cy="255.8" r="1.16" opacity="0.39"/>
<circle cx="1071.4" cy="242.8" r="1.98" opacity="0.24"/>
<circle cx="1075.2" cy="230.6" r="1.29" opacity="0.41"/>
<circle cx="1055.7" cy="227.2" r="1.39" opacity="0.22"/>
<circle cx="1061.4" cy="221.6" r="2.20" opacity="0.22"/>
<circle cx="1071.7" cy="250.7" r="1.75" opacity="0.34"/>
<circle cx="1070.6" cy="229.0" r="1.41" opacity="0.33"/>
<circle cx="1102.4" cy="254.2" r="1.80" opacity="0.43"/>
<circle cx="1060.7" cy="234.4" r="1.44" opacity="0.48"/>
<circle cx="1073.8" cy="222.0" r="1.07" opacity="0.40"/>
<circle cx="1058.9" cy="220.5" r="1.26" opacity="0.37"/>
<circle cx="1060.2" cy="243.2" r="1.81" opacity="0.24"/>
<circle cx="1069.6" cy="263.8" r="1.39" opacity="0.38"/>
<circle cx="1098.9" cy="237.4" r="1.30" opacity="0.25"/>
<circle cx="1096.9" cy="267.3" r="1.86" opacity="0.43"/>
<circle cx="1082.1" cy="236.4" r="1.61" opacity="0.36"/>
<circle cx="1109.0" cy="263.4" r="1.16" opacity="0.33"/>
<circle cx="1052.9" cy="251.4" r="1.53" opacity="0.20"/>
<circle cx="1076.3" cy="229.0" r="1.33" opacity="0.37"/>
<circle cx="1100.0" cy="247.1" r="1.54" opacity="0.25"/>
<circle cx="1082.7" cy="243.5" r="1.12" opacity="0.33"/>
<circle cx="1079.6" cy="265.1" r="1.88" opacity="0.35"/>
<circle cx="1062.2" cy="240.0" r="1.03" opacity="0.35"/>
<circle cx="1094.0" cy="244.2" r="1.78" opacity="0.47"/>
<circle cx="1101.7" cy="269.2" r="2.10" opacity="0.40"/>
<circle cx="1101.9" cy="263.4" r="1.39" opacity="0.48"/>
<circle cx="1096.3" cy="254.2" r="1.18" opacity="0.36"/>
<circle cx="1080.9" cy="242.1" r="1.09" opacity="0.31"/>
<circle cx="1079.7" cy="231.9" r="1.48" opacity="0.46"/>
<circle cx="1065.1" cy="254.6" r="1.07" opacity="0.47"/>
<circle cx="1088.4" cy="251.2" r="1.30" opacity="0.32"/>
<circle cx="1080.0" cy="222.8" r="0.90" opacity="0.41"/>
<circle cx="1105.8" cy="264.7" r="0.90" opacity="0.45"/>
<circle cx="1106.6" cy="283.4" r="1.23" opacity="0.43"/>
<circle cx="1080.5" cy="235.0" r="1.64" opacity="0.44"/>
<circle cx="1078.3" cy="233.0" r="1.48" opacity="0.36"/>
<circle cx="1111.7" cy="275.6" r="1.52" opacity="0.46"/>
<circle cx="1090.7" cy="248.1" r="0.95" opacity="0.22"/>
<circle cx="1103.4" cy="244.7" r="0.98" opacity="0.39"/>
<circle cx="1069.6" cy="236.0" r="1.66" opacity="0.32"/>
<circle cx="1053.4" cy="227.6" r="1.48" opacity="0.42"/>
<circle cx="1063.7" cy="247.7" r="1.54" opacity="0.30"/>
<circle cx="1073.5" cy="232.5" r="0.92" opacity="0.37"/>
<circle cx="1099.9" cy="270.0" r="1.88" opacity="0.49"/>
<circle cx="1101.7" cy="255.9" r="2.14" opacity="0.39"/>
<circle cx="1112.8" cy="266.2" r="1.38" opacity="0.42"/>
<circle cx="1061.5" cy="222.6" r="1.92" opacity="0.47"/>
<circle cx="1109.6" cy="257.3" r="1.94" opacity="0.34"/>
<circle cx="1053.2" cy="245.3" r="2.13" opacity="0.47"/>
<circle cx="1074.1" cy="219.4" r="1.45" opacity="0.46"/>
<circle cx="1052.2" cy="244.9" r="1.39" opacity="0.40"/>
<circle cx="1053.9" cy="230.7" r="1.49" opacity="0.26"/>
<circle cx="1099.0" cy="247.0" r="1.12" opacity="0.28"/>
<circle cx="1090.3" cy="276.3" r="1.01" opacity="0.21"/>
<circle cx="1081.3" cy="250.3" r="1.22" opacity="0.46"/>
<circle cx="1064.8" cy="252.0" r="1.02" opacity="0.47"/>
<circle cx="1102.5" cy="242.7" r="1.34" opacity="0.47"/>
<circle cx="1051.7" cy="226.2" r="1.73" opacity="0.45"/>
</g>
<g filter="url(#bl3)" fill="#2fb088">
<circle cx="1064.5" cy="223.6" r="0.74" opacity="0.78"/>
<circle cx="1090.2" cy="267.0" r="0.80" opacity="0.76"/>
<circle cx="1074.1" cy="222.5" r="0.86" opacity="0.42"/>
<circle cx="1084.4" cy="234.7" r="0.98" opacity="0.61"/>
<circle cx="1086.1" cy="245.0" r="0.74" opacity="0.57"/>
<circle cx="1083.3" cy="258.6" r="0.90" opacity="0.35"/>
<circle cx="1086.6" cy="234.1" r="0.86" opacity="0.58"/>
<circle cx="1071.7" cy="240.9" r="0.98" opacity="0.53"/>
<circle cx="1101.7" cy="266.4" r="0.89" opacity="0.50"/>
<circle cx="1069.6" cy="237.1" r="0.71" opacity="0.93"/>
<circle cx="1109.7" cy="250.6" r="0.60" opacity="0.95"/>
<circle cx="1071.6" cy="217.5" r="0.71" opacity="0.57"/>
<circle cx="1057.1" cy="234.2" r="0.70" opacity="0.79"/>
<circle cx="1057.8" cy="224.7" r="0.86" opacity="0.81"/>
<circle cx="1080.2" cy="281.5" r="0.75" opacity="0.90"/>
<circle cx="1083.0" cy="272.2" r="0.73" opacity="0.48"/>
<circle cx="1101.6" cy="267.3" r="0.62" opacity="0.85"/>
<circle cx="1105.4" cy="247.9" r="0.74" opacity="0.40"/>
<circle cx="1070.8" cy="251.1" r="0.58" opacity="0.49"/>
<circle cx="1062.5" cy="264.7" r="0.98" opacity="0.71"/>
<circle cx="1067.0" cy="254.8" r="0.67" opacity="0.53"/>
<circle cx="1054.1" cy="257.0" r="0.74" opacity="0.74"/>
<circle cx="1076.1" cy="255.6" r="0.80" opacity="0.38"/>
<circle cx="1107.7" cy="278.3" r="0.93" opacity="0.63"/>
<circle cx="1102.4" cy="284.2" r="0.69" opacity="0.88"/>
<circle cx="1094.3" cy="283.9" r="0.72" opacity="0.84"/>
<circle cx="1108.0" cy="254.9" r="0.89" opacity="0.50"/>
<circle cx="1086.6" cy="229.2" r="0.74" opacity="0.78"/>
<circle cx="1055.1" cy="256.1" r="0.72" opacity="0.43"/>
<circle cx="1111.1" cy="272.7" r="0.62" opacity="0.78"/>
<circle cx="1078.5" cy="272.1" r="0.75" opacity="0.72"/>
<circle cx="1087.1" cy="279.7" r="0.98" opacity="0.56"/>
<circle cx="1060.0" cy="220.3" r="0.90" opacity="0.36"/>
<circle cx="1079.1" cy="277.2" r="0.75" opacity="0.89"/>
<circle cx="1053.1" cy="221.0" r="0.61" opacity="0.61"/>
<circle cx="1057.4" cy="257.9" r="0.69" opacity="0.74"/>
<circle cx="1068.7" cy="259.3" r="0.76" opacity="0.49"/>
<circle cx="1057.2" cy="250.3" r="0.79" opacity="0.42"/>
<circle cx="1092.5" cy="253.8" r="0.80" opacity="0.53"/>
<circle cx="1085.7" cy="278.4" r="0.63" opacity="0.49"/>
<circle cx="1054.6" cy="233.1" r="0.74" opacity="0.73"/>
<circle cx="1096.9" cy="264.8" r="0.65" opacity="0.79"/>
<circle cx="1093.1" cy="235.8" r="0.78" opacity="0.78"/>
<circle cx="1075.4" cy="268.7" r="0.82" opacity="0.62"/>
<circle cx="1070.2" cy="238.9" r="0.94" opacity="0.86"/>
<circle cx="1067.2" cy="222.4" r="0.96" opacity="0.64"/>
<circle cx="1087.2" cy="266.7" r="0.66" opacity="0.62"/>
<circle cx="1071.3" cy="238.4" r="0.73" opacity="0.84"/>
<circle cx="1103.5" cy="266.7" r="0.91" opacity="0.44"/>
<circle cx="1100.5" cy="287.4" r="0.75" opacity="0.52"/>
<circle cx="1055.0" cy="241.0" r="0.71" opacity="0.64"/>
<circle cx="1111.9" cy="259.4" r="0.99" opacity="0.73"/>
<circle cx="1095.5" cy="259.5" r="0.88" opacity="0.44"/>
<circle cx="1083.6" cy="278.3" r="0.58" opacity="0.63"/>
<circle cx="1106.4" cy="277.2" r="0.61" opacity="0.64"/>
<circle cx="1054.9" cy="253.5" r="0.66" opacity="0.58"/>
<circle cx="1095.6" cy="233.1" r="0.69" opacity="0.46"/>
<circle cx="1105.4" cy="261.9" r="0.61" opacity="0.85"/>
<circle cx="1060.8" cy="245.7" r="0.58" opacity="0.84"/>
<circle cx="1081.6" cy="238.8" r="1.00" opacity="0.79"/>
<circle cx="1084.0" cy="242.4" r="0.87" opacity="0.43"/>
<circle cx="1110.2" cy="276.5" r="0.91" opacity="0.72"/>
<circle cx="1069.0" cy="219.6" r="0.58" opacity="0.90"/>
<circle cx="1066.4" cy="229.5" r="0.74" opacity="0.87"/>
<circle cx="1071.7" cy="220.8" r="0.89" opacity="0.73"/>
<circle cx="1096.6" cy="245.5" r="0.60" opacity="0.38"/>
<circle cx="1070.7" cy="244.6" r="0.73" opacity="0.59"/>
<circle cx="1076.4" cy="237.1" r="0.84" opacity="0.77"/>
<circle cx="1075.1" cy="251.3" r="0.84" opacity="0.47"/>
<circle cx="1102.9" cy="240.2" r="0.90" opacity="0.38"/>
<circle cx="1083.3" cy="221.8" r="0.75" opacity="0.43"/>
<circle cx="1101.9" cy="241.4" r="0.63" opacity="0.75"/>
<circle cx="1102.9" cy="249.3" r="0.91" opacity="0.57"/>
<circle cx="1088.6" cy="272.0" r="0.94" opacity="0.66"/>
<circle cx="1100.4" cy="279.1" r="0.94" opacity="0.43"/>
<circle cx="1102.9" cy="246.8" r="0.63" opacity="0.67"/>
<circle cx="1112.2" cy="267.4" r="0.70" opacity="0.69"/>
<circle cx="1098.7" cy="234.6" r="0.84" opacity="0.79"/>
<circle cx="1095.3" cy="257.8" r="0.99" opacity="0.82"/>
<circle cx="1084.1" cy="253.5" r="0.82" opacity="0.41"/>
<circle cx="1061.4" cy="261.6" r="0.86" opacity="0.90"/>
<circle cx="1083.1" cy="267.9" r="0.71" opacity="0.71"/>
<circle cx="1062.1" cy="229.4" r="0.68" opacity="0.71"/>
<circle cx="1071.6" cy="257.8" r="0.68" opacity="0.40"/>
<circle cx="1064.3" cy="263.3" r="0.79" opacity="0.39"/>
<circle cx="1093.2" cy="281.1" r="0.72" opacity="0.36"/>
<circle cx="1086.0" cy="248.5" r="0.85" opacity="0.65"/>
<circle cx="1058.3" cy="261.5" r="0.70" opacity="0.75"/>
<circle cx="1096.9" cy="273.7" r="0.62" opacity="0.74"/>
<circle cx="1092.9" cy="275.8" r="0.57" opacity="0.43"/>
<circle cx="1112.9" cy="274.7" r="0.89" opacity="0.75"/>
<circle cx="1066.9" cy="253.4" r="0.79" opacity="0.86"/>
<circle cx="1100.5" cy="259.2" r="0.89" opacity="0.38"/>
<circle cx="1094.4" cy="285.1" r="0.60" opacity="0.55"/>
<circle cx="1095.4" cy="272.2" r="0.86" opacity="0.62"/>
<circle cx="1078.1" cy="256.4" r="0.92" opacity="0.89"/>
<circle cx="1063.9" cy="262.6" r="0.74" opacity="0.91"/>
<circle cx="1060.5" cy="223.1" r="0.72" opacity="0.86"/>
<circle cx="1084.4" cy="233.1" r="0.64" opacity="0.60"/>
<circle cx="1064.6" cy="261.3" r="0.60" opacity="0.59"/>
<circle cx="1096.3" cy="247.7" r="0.89" opacity="0.78"/>
<circle cx="1073.4" cy="273.4" r="0.89" opacity="0.86"/>
<circle cx="1081.0" cy="269.0" r="0.69" opacity="0.59"/>
<circle cx="1070.4" cy="229.9" r="0.69" opacity="0.77"/>
<circle cx="1051.5" cy="225.3" r="0.80" opacity="0.50"/>
<circle cx="1060.0" cy="254.9" r="0.73" opacity="0.80"/>
<circle cx="1061.9" cy="239.3" r="0.56" opacity="0.68"/>
<circle cx="1110.3" cy="252.6" r="0.61" opacity="0.65"/>
<circle cx="1073.9" cy="219.9" r="0.96" opacity="0.76"/>
<circle cx="1081.4" cy="267.5" r="0.63" opacity="0.63"/>
<circle cx="1051.1" cy="242.9" r="0.76" opacity="0.42"/>
<circle cx="1061.3" cy="248.6" r="0.93" opacity="0.77"/>
<circle cx="1086.7" cy="248.6" r="0.90" opacity="0.92"/>
<circle cx="1084.1" cy="231.4" r="0.87" opacity="0.64"/>
<circle cx="1069.8" cy="247.8" r="0.94" opacity="0.56"/>
<circle cx="1100.3" cy="259.8" r="0.62" opacity="0.81"/>
<circle cx="1085.7" cy="259.2" r="0.81" opacity="0.67"/>
<circle cx="1088.5" cy="256.0" r="0.60" opacity="0.59"/>
<circle cx="1105.3" cy="260.6" r="0.77" opacity="0.55"/>
<circle cx="1076.5" cy="271.5" r="0.96" opacity="0.83"/>
<circle cx="1068.7" cy="254.0" r="0.81" opacity="0.76"/>
<circle cx="1107.7" cy="254.1" r="0.92" opacity="0.36"/>
<circle cx="1081.2" cy="270.0" r="0.60" opacity="0.92"/>
<circle cx="1080.4" cy="229.1" r="0.76" opacity="0.70"/>
<circle cx="1054.1" cy="257.3" r="0.89" opacity="0.53"/>
<circle cx="1086.0" cy="243.4" r="0.84" opacity="0.84"/>
<circle cx="1082.0" cy="258.9" r="0.91" opacity="0.53"/>
<circle cx="1096.5" cy="261.1" r="0.70" opacity="0.58"/>
<circle cx="1095.6" cy="260.3" r="0.68" opacity="0.88"/>
<circle cx="1065.7" cy="259.3" r="0.76" opacity="0.71"/>
<circle cx="1055.1" cy="226.6" r="0.96" opacity="0.35"/>
<circle cx="1057.5" cy="239.6" r="0.55" opacity="0.48"/>
<circle cx="1059.5" cy="235.2" r="0.96" opacity="0.74"/>
<circle cx="1072.3" cy="224.2" r="0.85" opacity="0.78"/>
<circle cx="1056.6" cy="255.5" r="0.55" opacity="0.65"/>
<circle cx="1064.1" cy="239.9" r="0.80" opacity="0.55"/>
<circle cx="1059.6" cy="233.1" r="0.85" opacity="0.42"/>
<circle cx="1109.0" cy="252.9" r="0.88" opacity="0.64"/>
<circle cx="1061.9" cy="231.7" r="0.70" opacity="0.55"/>
<circle cx="1100.3" cy="277.5" r="0.60" opacity="0.66"/>
<circle cx="1078.3" cy="247.7" r="0.59" opacity="0.89"/>
<circle cx="1073.0" cy="266.2" r="0.88" opacity="0.38"/>
<circle cx="1086.5" cy="224.0" r="0.77" opacity="0.38"/>
<circle cx="1098.4" cy="253.5" r="0.90" opacity="0.59"/>
<circle cx="1092.2" cy="239.5" r="0.81" opacity="0.59"/>
<circle cx="1065.7" cy="221.5" r="0.84" opacity="0.87"/>
<circle cx="1095.9" cy="288.3" r="0.96" opacity="0.63"/>
<circle cx="1054.2" cy="254.7" r="0.62" opacity="0.92"/>
<circle cx="1114.4" cy="269.7" r="0.97" opacity="0.92"/>
<circle cx="1090.5" cy="257.0" r="0.97" opacity="0.94"/>
<circle cx="1107.6" cy="263.4" r="0.56" opacity="0.40"/>
<circle cx="1062.9" cy="216.0" r="0.63" opacity="0.73"/>
<circle cx="1083.4" cy="237.0" r="0.95" opacity="0.68"/>
<circle cx="1069.9" cy="252.0" r="0.71" opacity="0.36"/>
<circle cx="1069.9" cy="235.0" r="0.93" opacity="0.75"/>
<circle cx="1066.7" cy="229.6" r="0.92" opacity="0.35"/>
<circle cx="1063.9" cy="237.2" r="0.94" opacity="0.42"/>
<circle cx="1056.2" cy="223.8" r="0.92" opacity="0.36"/>
<circle cx="1108.6" cy="255.0" r="0.90" opacity="0.79"/>
<circle cx="1053.5" cy="247.2" r="0.85" opacity="0.65"/>
<circle cx="1084.5" cy="282.3" r="0.58" opacity="0.45"/>
<circle cx="1093.4" cy="237.2" r="0.78" opacity="0.44"/>
<circle cx="1096.7" cy="275.7" r="0.73" opacity="0.88"/>
<circle cx="1065.5" cy="221.2" r="0.75" opacity="0.45"/>
<circle cx="1081.5" cy="274.1" r="0.89" opacity="0.94"/>
<circle cx="1098.2" cy="276.6" r="0.59" opacity="0.64"/>
<circle cx="1084.2" cy="229.7" r="0.72" opacity="0.94"/>
<circle cx="1093.7" cy="287.3" r="0.97" opacity="0.76"/>
<circle cx="1106.7" cy="280.4" r="0.65" opacity="0.35"/>
<circle cx="1105.8" cy="278.6" r="0.99" opacity="0.73"/>
<circle cx="1109.5" cy="267.0" r="0.70" opacity="0.77"/>
<circle cx="1105.2" cy="278.3" r="0.66" opacity="0.64"/>
<circle cx="1080.4" cy="258.0" r="0.81" opacity="0.40"/>
<circle cx="1085.9" cy="266.2" r="0.81" opacity="0.66"/>
<circle cx="1078.9" cy="256.4" r="0.87" opacity="0.59"/>
<circle cx="1094.7" cy="251.5" r="0.70" opacity="0.86"/>
<circle cx="1099.4" cy="262.6" r="0.64" opacity="0.77"/>
<circle cx="1102.7" cy="262.3" r="0.56" opacity="0.80"/>
<circle cx="1102.0" cy="266.7" r="0.81" opacity="0.59"/>
<circle cx="1108.2" cy="269.7" r="0.57" opacity="0.55"/>
<circle cx="1089.6" cy="265.9" r="0.88" opacity="0.45"/>
<circle cx="1087.0" cy="283.7" r="0.90" opacity="0.75"/>
<circle cx="1093.8" cy="262.6" r="0.68" opacity="0.62"/>
<circle cx="1104.2" cy="278.7" r="0.62" opacity="0.66"/>
<circle cx="1089.1" cy="234.4" r="0.60" opacity="0.38"/>
<circle cx="1052.5" cy="250.5" r="0.79" opacity="0.48"/>
<circle cx="1088.5" cy="259.8" r="0.94" opacity="0.87"/>
<circle cx="1055.3" cy="244.9" r="0.77" opacity="0.66"/>
<circle cx="1099.1" cy="249.7" r="0.82" opacity="0.85"/>
<circle cx="1079.3" cy="273.4" r="0.94" opacity="0.90"/>
</g>
<g filter="url(#bl3)" fill="#2ea060">
<circle cx="1042.8" cy="278.4" r="0.65" opacity="0.61"/>
<circle cx="1073.9" cy="250.6" r="0.66" opacity="0.59"/>
<circle cx="1070.5" cy="267.6" r="0.65" opacity="0.58"/>
<circle cx="1094.4" cy="274.1" r="0.68" opacity="0.45"/>
<circle cx="1087.7" cy="269.7" r="0.46" opacity="0.84"/>
<circle cx="1080.1" cy="252.2" r="0.54" opacity="0.77"/>
<circle cx="1045.4" cy="287.0" r="0.57" opacity="0.41"/>
<circle cx="1067.2" cy="251.9" r="0.51" opacity="0.60"/>
<circle cx="1067.7" cy="264.2" r="0.59" opacity="0.72"/>
<circle cx="1094.3" cy="273.6" r="0.49" opacity="0.83"/>
<circle cx="1077.5" cy="274.5" r="0.56" opacity="0.64"/>
<circle cx="1085.9" cy="265.5" r="0.68" opacity="0.58"/>
<circle cx="1089.4" cy="255.3" r="0.43" opacity="0.61"/>
<circle cx="1068.0" cy="296.8" r="0.68" opacity="0.57"/>
<circle cx="1090.4" cy="273.3" r="0.55" opacity="0.62"/>
<circle cx="1064.7" cy="252.8" r="0.44" opacity="0.79"/>
<circle cx="1051.1" cy="252.7" r="0.48" opacity="0.44"/>
<circle cx="1049.3" cy="291.2" r="0.51" opacity="0.45"/>
<circle cx="1070.7" cy="284.8" r="0.55" opacity="0.71"/>
<circle cx="1095.0" cy="289.1" r="0.41" opacity="0.44"/>
<circle cx="1024.3" cy="272.0" r="0.51" opacity="0.52"/>
<circle cx="1057.7" cy="290.6" r="0.69" opacity="0.62"/>
<circle cx="1074.3" cy="278.9" r="0.40" opacity="0.49"/>
<circle cx="1053.8" cy="294.8" r="0.41" opacity="0.42"/>
<circle cx="1085.1" cy="261.8" r="0.67" opacity="0.48"/>
<circle cx="1049.4" cy="282.8" r="0.60" opacity="0.71"/>
<circle cx="1044.0" cy="280.7" r="0.59" opacity="0.79"/>
<circle cx="1027.3" cy="277.4" r="0.51" opacity="0.83"/>
<circle cx="1075.0" cy="284.9" r="0.64" opacity="0.45"/>
<circle cx="1055.6" cy="271.9" r="0.46" opacity="0.77"/>
<circle cx="1081.5" cy="256.5" r="0.65" opacity="0.84"/>
<circle cx="1100.3" cy="257.7" r="0.49" opacity="0.57"/>
<circle cx="1048.8" cy="263.9" r="0.47" opacity="0.61"/>
<circle cx="1074.4" cy="254.6" r="0.47" opacity="0.63"/>
<circle cx="1026.7" cy="277.0" r="0.62" opacity="0.51"/>
<circle cx="1079.2" cy="290.2" r="0.48" opacity="0.47"/>
<circle cx="1081.9" cy="281.0" r="0.44" opacity="0.76"/>
<circle cx="1101.2" cy="288.9" r="0.58" opacity="0.73"/>
<circle cx="1033.6" cy="269.2" r="0.44" opacity="0.49"/>
<circle cx="1093.1" cy="289.3" r="0.61" opacity="0.49"/>
</g>
<g filter="url(#bl3)" fill="#c82a2a">
<circle cx="1100.3" cy="270.3" r="0.70" opacity="0.41"/>
<circle cx="1067.6" cy="248.4" r="0.65" opacity="0.61"/>
<circle cx="1067.2" cy="231.0" r="0.73" opacity="0.75"/>
<circle cx="1050.2" cy="244.7" r="0.73" opacity="0.59"/>
<circle cx="1103.0" cy="260.6" r="0.57" opacity="0.49"/>
<circle cx="1093.6" cy="274.3" r="0.66" opacity="0.77"/>
<circle cx="1089.9" cy="243.3" r="0.52" opacity="0.53"/>
<circle cx="1086.0" cy="240.7" r="0.54" opacity="0.42"/>
<circle cx="1086.6" cy="254.0" r="0.70" opacity="0.69"/>
<circle cx="1108.0" cy="263.0" r="0.51" opacity="0.72"/>
<circle cx="1087.0" cy="233.8" r="0.90" opacity="0.81"/>
<circle cx="1101.1" cy="262.1" r="0.63" opacity="0.81"/>
<circle cx="1105.5" cy="255.8" r="0.71" opacity="0.79"/>
<circle cx="1067.3" cy="231.1" r="0.83" opacity="0.58"/>
<circle cx="1096.5" cy="259.9" r="0.75" opacity="0.61"/>
<circle cx="1063.6" cy="221.1" r="0.71" opacity="0.76"/>
<circle cx="1071.0" cy="240.9" r="0.53" opacity="0.80"/>
<circle cx="1078.4" cy="258.2" r="0.56" opacity="0.44"/>
<circle cx="1056.6" cy="230.0" r="0.88" opacity="0.74"/>
<circle cx="1065.4" cy="218.1" r="0.53" opacity="0.59"/>
<circle cx="1092.8" cy="241.5" r="0.60" opacity="0.72"/>
<circle cx="1073.5" cy="256.5" r="0.85" opacity="0.65"/>
<circle cx="1053.7" cy="252.6" r="0.66" opacity="0.51"/>
<circle cx="1104.4" cy="258.6" r="0.50" opacity="0.42"/>
<circle cx="1087.3" cy="280.4" r="0.79" opacity="0.55"/>
<circle cx="1081.7" cy="262.1" r="0.57" opacity="0.89"/>
<circle cx="1066.4" cy="237.9" r="0.83" opacity="0.80"/>
<circle cx="1090.2" cy="235.3" r="0.73" opacity="0.88"/>
<circle cx="1088.8" cy="245.0" r="0.59" opacity="0.69"/>
<circle cx="1111.2" cy="261.2" r="0.87" opacity="0.60"/>
</g>
<circle cx="1119.90" cy="228.20" r="1.50" fill="#2fb84a" filter="url(#bl3)"/>
<ellipse cx="1059.1" cy="218.5" rx="2.30" ry="2.88" fill="#e8301c" filter="url(#bl3)"/>
<ellipse cx="1058.9" cy="217.6" rx="1.43" ry="2.07" fill="#f6e23a" filter="url(#bl3)"/>
<circle cx="1058.6" cy="215.9" r="0.92" fill="#8fe84a" filter="url(#bl3)"/>
<ellipse cx="1073.1" cy="236.4" rx="2.10" ry="2.62" fill="#e8301c" filter="url(#bl3)"/>
<ellipse cx="1072.9" cy="235.5" rx="1.30" ry="1.89" fill="#f6e23a" filter="url(#bl3)"/>
<circle cx="1072.6" cy="234.0" r="0.84" fill="#8fe84a" filter="url(#bl3)"/>
<ellipse cx="1074.7" cy="244.7" rx="1.00" ry="1.25" fill="#e8301c" filter="url(#bl3)"/>
<ellipse cx="1074.5" cy="243.7" rx="0.60" ry="0.70" fill="#f0d238" filter="url(#bl3)"/>
<circle cx="1074.1" cy="243.2" r="0.62" fill="#3fd47a" filter="url(#bl3)"/>
<ellipse cx="1075.2" cy="265.2" rx="2.60" ry="3.25" fill="#e8301c" filter="url(#bl3)"/>
<ellipse cx="1075.0" cy="264.3" rx="1.61" ry="2.34" fill="#f6e23a" filter="url(#bl3)"/>
<circle cx="1074.7" cy="262.4" r="1.04" fill="#8fe84a" filter="url(#bl3)"/>
<ellipse cx="1106.7" cy="269.1" rx="1.50" ry="1.88" fill="#e8301c" filter="url(#bl3)"/>
<ellipse cx="1106.5" cy="268.1" rx="0.90" ry="1.05" fill="#f0d238" filter="url(#bl3)"/>
<circle cx="1106.1" cy="267.2" r="0.93" fill="#3fd47a" filter="url(#bl3)"/>
<ellipse cx="1062.2" cy="229.0" rx="1.30" ry="1.62" fill="#e8301c" filter="url(#bl3)"/>
<ellipse cx="1067.9" cy="227.5" rx="1.00" ry="1.25" fill="#e8301c" filter="url(#bl3)"/>
<ellipse cx="1064.0" cy="233.9" rx="1.10" ry="1.38" fill="#e8301c" filter="url(#bl3)"/>
<ellipse cx="1051.8" cy="242.7" rx="0.90" ry="1.12" fill="#e8301c" filter="url(#bl3)"/>
<ellipse cx="1056.7" cy="242.2" rx="1.00" ry="1.25" fill="#e8301c" filter="url(#bl3)"/>
<ellipse cx="1068.7" cy="243.2" rx="1.10" ry="1.38" fill="#e8301c" filter="url(#bl3)"/>
<ellipse cx="1078.2" cy="240.7" rx="1.10" ry="1.38" fill="#e8301c" filter="url(#bl3)"/>
<ellipse cx="1080.1" cy="245.6" rx="1.00" ry="1.25" fill="#e8301c" filter="url(#bl3)"/>
<ellipse cx="1094.1" cy="246.4" rx="1.00" ry="1.25" fill="#e8301c" filter="url(#bl3)"/>
<ellipse cx="1070.8" cy="253.4" rx="1.00" ry="1.25" fill="#e8301c" filter="url(#bl3)"/>
<ellipse cx="1076.7" cy="253.9" rx="1.20" ry="1.50" fill="#e8301c" filter="url(#bl3)"/>
<ellipse cx="1081.1" cy="254.9" rx="1.10" ry="1.38" fill="#e8301c" filter="url(#bl3)"/>
<ellipse cx="1087.5" cy="257.4" rx="1.80" ry="2.25" fill="#e8301c" filter="url(#bl3)"/>
<ellipse cx="1087.9" cy="260.3" rx="1.20" ry="1.50" fill="#e8301c" filter="url(#bl3)"/>
<ellipse cx="1092.3" cy="254.9" rx="1.00" ry="1.25" fill="#e8301c" filter="url(#bl3)"/>
<ellipse cx="1098.2" cy="253.0" rx="0.90" ry="1.12" fill="#e8301c" filter="url(#bl3)"/>
<ellipse cx="1068.7" cy="261.8" rx="1.10" ry="1.38" fill="#e8301c" filter="url(#bl3)"/>
<ellipse cx="1058.9" cy="266.2" rx="1.00" ry="1.25" fill="#e8301c" filter="url(#bl3)"/>
<ellipse cx="1076.2" cy="273.0" rx="1.30" ry="1.62" fill="#e8301c" filter="url(#bl3)"/>
<ellipse cx="1071.3" cy="275.9" rx="1.30" ry="1.62" fill="#e8301c" filter="url(#bl3)"/>
<ellipse cx="1088.4" cy="273.5" rx="0.90" ry="1.12" fill="#e8301c" filter="url(#bl3)"/>
<ellipse cx="1101.6" cy="276.9" rx="0.90" ry="1.12" fill="#e8301c" filter="url(#bl3)"/>
<ellipse cx="1085.5" cy="282.8" rx="1.00" ry="1.25" fill="#e8301c" filter="url(#bl3)"/>
<ellipse cx="1098.7" cy="286.7" rx="1.50" ry="1.88" fill="#e8301c" filter="url(#bl3)"/>
<ellipse cx="1089.4" cy="287.5" rx="0.90" ry="1.12" fill="#e8301c" filter="url(#bl3)"/>
<ellipse cx="1107.5" cy="281.3" rx="0.90" ry="1.12" fill="#e8301c" filter="url(#bl3)"/>
<path d="M1051.30 222.40 L1056.70 220.50 L1054.20 225.20 Z" fill="#fff"/>
<path d="M1066.20 238.70 L1071.60 236.80 L1069.10 241.50 Z" fill="#fff"/>
<path d="M1068.90 248.30 L1074.30 246.40 L1071.80 251.10 Z" fill="#fff"/>
<path d="M1067.60 268.60 L1073.00 266.70 L1070.50 271.40 Z" fill="#fff"/>
<path d="M1100.40 272.50 L1105.80 270.60 L1103.30 275.30 Z" fill="#fff"/>
</g>
<text x="991.6" y="305.8" font-size="11.1" font-weight="bold" text-anchor="start"><tspan fill="#e8391f">TRF1</tspan> <tspan fill="#1f7a36">BLM</tspan> <tspan fill="#2a3a8c">DAPI</tspan></text>
<text x="643.00" y="349.30" font-size="21" text-anchor="middle" font-weight="bold" fill="#111">D</text>
<text x="730.00" y="372.80" font-size="11.4" text-anchor="start" font-weight="bold" fill="#111" transform="rotate(-90 730.00 372.80)">UNT</text>
<text x="763.60" y="372.80" font-size="11.4" text-anchor="start" font-weight="bold" fill="#111" transform="rotate(-90 763.60 372.80)">siCTR</text>
<text x="794.30" y="372.80" font-size="11.4" text-anchor="start" font-weight="bold" fill="#111" transform="rotate(-90 794.30 372.80)">siBLM</text>
<text x="826.40" y="372.80" font-size="11.4" text-anchor="start" font-weight="bold" fill="#111" transform="rotate(-90 826.40 372.80)">DMSO</text>
<text x="857.80" y="372.80" font-size="11.4" text-anchor="start" font-weight="bold" fill="#111" transform="rotate(-90 857.80 372.80)">ML216</text>
<text x="702.30" y="386.20" font-size="11.3" text-anchor="end" font-weight="bold" fill="#111">BLM</text>
<text x="702.30" y="404.00" font-size="11.3" text-anchor="end" font-weight="bold" fill="#111">β-actin</text>
<clipPath id="cD0"><rect x="711.30" y="374.60" width="161.80" height="16.30"/></clipPath>
<rect x="711.30" y="374.60" width="161.80" height="16.30" fill="#c6c6c6" stroke="none" stroke-width="1"/>
<g clip-path="url(#cD0)">
<rect x="711.00" y="373.60" width="163.00" height="3.20" fill="#444" opacity="0.55" filter="url(#bl2)"/>
<g filter="url(#bl1)">
<rect x="712.50" y="375.00" width="26.00" height="16.00" fill="#0a0a0a" opacity="0.18"/>
<rect x="716.50" y="385.00" width="22.00" height="6.00" fill="#0a0a0a" opacity="0.25"/>
<rect x="747.50" y="385.00" width="24.00" height="6.00" fill="#0a0a0a" opacity="0.16"/>
<rect x="809.00" y="376.00" width="23.00" height="15.00" fill="#0a0a0a" opacity="0.38"/>
<rect x="810.00" y="384.00" width="21.00" height="7.00" fill="#0a0a0a" opacity="0.15"/>
<rect x="839.50" y="375.00" width="27.00" height="16.00" fill="#0a0a0a" opacity="0.15"/>
<rect x="841.00" y="385.50" width="24.00" height="5.50" fill="#0a0a0a" opacity="0.25"/>
<rect x="782.50" y="375.00" width="20.00" height="5.00" fill="#0a0a0a" opacity="0.08"/>
</g>
<g filter="url(#bl1)">
<rect x="712.75" y="378.40" width="25.50" height="6.40" rx="3.20" fill="#0a0a0a" opacity="0.97"/>
<rect x="748.25" y="379.20" width="23.50" height="4.80" rx="2.40" fill="#0a0a0a" opacity="0.97"/>
<rect x="786.50" y="381.70" width="14.00" height="1.80" rx="0.90" fill="#0a0a0a" opacity="0.25"/>
<rect x="781.50" y="382.50" width="6.00" height="1.40" rx="0.70" fill="#0a0a0a" opacity="0.12"/>
<rect x="809.50" y="379.40" width="22.00" height="3.20" rx="1.60" fill="#0a0a0a" opacity="0.5"/>
<rect x="839.75" y="379.10" width="26.50" height="5.80" rx="2.90" fill="#0a0a0a" opacity="0.95"/>
<rect x="750.80" y="387.60" width="1.40" height="1.40" rx="0.70" fill="#0a0a0a" opacity="0.9"/>
</g></g>
<clipPath id="cD1"><rect x="711.30" y="393.00" width="161.80" height="15.40"/></clipPath>
<rect x="711.30" y="393.00" width="161.80" height="15.40" fill="#cfcfcf" stroke="none" stroke-width="1"/>
<g clip-path="url(#cD1)">
<g filter="url(#bl1)">
<rect x="712.70" y="397.60" width="28.00" height="7.40" rx="3.70" fill="#0a0a0a" opacity="1"/>
<rect x="747.70" y="397.70" width="27.00" height="7.20" rx="3.60" fill="#0a0a0a" opacity="1"/>
<rect x="779.05" y="398.00" width="26.50" height="7.00" rx="3.50" fill="#0a0a0a" opacity="1"/>
<rect x="808.20" y="397.80" width="30.00" height="8.00" rx="4.00" fill="#0a0a0a" opacity="1"/>
<rect x="839.20" y="397.60" width="29.00" height="7.20" rx="3.60" fill="#0a0a0a" opacity="1"/>
</g></g>
<rect x="727.15" y="458.01" width="18.70" height="151.49" fill="#eeeeee"/>
<path d="M727.15 609.50 V458.01 H745.85 V609.50" fill="none" stroke="#2f1f8a" stroke-width="1.3"/>
<line x1="736.50" y1="452.27" x2="736.50" y2="462.44" stroke="#2f1f8a" stroke-width="1.1"/>
<line x1="731.30" y1="452.27" x2="741.70" y2="452.27" stroke="#2f1f8a" stroke-width="1.1"/>
<line x1="731.30" y1="462.44" x2="741.70" y2="462.44" stroke="#2f1f8a" stroke-width="1.1"/>
<circle cx="733.50" cy="461.40" r="1.80" fill="#2f1f8a"/>
<circle cx="736.50" cy="451.67" r="1.80" fill="#2f1f8a"/>
<circle cx="739.50" cy="459.15" r="1.80" fill="#2f1f8a"/>
<rect x="758.05" y="467.88" width="18.70" height="141.62" fill="#eeeeee"/>
<path d="M758.05 609.50 V467.88 H776.75 V609.50" fill="none" stroke="#2f1f8a" stroke-width="1.3"/>
<line x1="767.40" y1="454.66" x2="767.40" y2="479.80" stroke="#2f1f8a" stroke-width="1.1"/>
<line x1="762.20" y1="454.66" x2="772.60" y2="454.66" stroke="#2f1f8a" stroke-width="1.1"/>
<line x1="762.20" y1="479.80" x2="772.60" y2="479.80" stroke="#2f1f8a" stroke-width="1.1"/>
<circle cx="764.40" cy="458.70" r="1.80" fill="#2f1f8a"/>
<circle cx="767.40" cy="481.14" r="1.80" fill="#2f1f8a"/>
<circle cx="770.40" cy="460.65" r="1.80" fill="#2f1f8a"/>
<rect x="789.05" y="581.28" width="18.70" height="28.22" fill="#eeeeee"/>
<path d="M789.05 609.50 V581.28 H807.75 V609.50" fill="none" stroke="#2f1f8a" stroke-width="1.3"/>
<line x1="798.40" y1="578.83" x2="798.40" y2="582.42" stroke="#2f1f8a" stroke-width="1.1"/>
<line x1="793.20" y1="578.83" x2="803.60" y2="578.83" stroke="#2f1f8a" stroke-width="1.1"/>
<line x1="793.20" y1="582.42" x2="803.60" y2="582.42" stroke="#2f1f8a" stroke-width="1.1"/>
<circle cx="795.40" cy="582.12" r="1.80" fill="#2f1f8a"/>
<circle cx="798.40" cy="577.64" r="1.80" fill="#2f1f8a"/>
<circle cx="801.40" cy="581.08" r="1.80" fill="#2f1f8a"/>
<rect x="820.05" y="494.96" width="18.70" height="114.54" fill="#eeeeee"/>
<path d="M820.05 609.50 V494.96 H838.75 V609.50" fill="none" stroke="#2f1f8a" stroke-width="1.3"/>
<line x1="829.40" y1="464.99" x2="829.40" y2="523.63" stroke="#2f1f8a" stroke-width="1.1"/>
<line x1="824.20" y1="464.99" x2="834.60" y2="464.99" stroke="#2f1f8a" stroke-width="1.1"/>
<line x1="824.20" y1="523.63" x2="834.60" y2="523.63" stroke="#2f1f8a" stroke-width="1.1"/>
<circle cx="829.40" cy="461.40" r="1.80" fill="#2f1f8a"/>
<circle cx="829.40" cy="501.79" r="1.80" fill="#2f1f8a"/>
<circle cx="829.40" cy="518.69" r="1.80" fill="#2f1f8a"/>
<rect x="851.05" y="459.50" width="18.70" height="150.00" fill="#eeeeee"/>
<path d="M851.05 609.50 V459.50 H869.75 V609.50" fill="none" stroke="#2f1f8a" stroke-width="1.3"/>
<line x1="860.40" y1="450.62" x2="860.40" y2="467.08" stroke="#2f1f8a" stroke-width="1.1"/>
<line x1="855.20" y1="450.62" x2="865.60" y2="450.62" stroke="#2f1f8a" stroke-width="1.1"/>
<line x1="855.20" y1="467.08" x2="865.60" y2="467.08" stroke="#2f1f8a" stroke-width="1.1"/>
<circle cx="857.40" cy="463.64" r="1.80" fill="#2f1f8a"/>
<circle cx="860.40" cy="449.43" r="1.80" fill="#2f1f8a"/>
<circle cx="863.40" cy="462.89" r="1.80" fill="#2f1f8a"/>
<line x1="716.70" y1="444.20" x2="716.70" y2="610.00" stroke="#000" stroke-width="1.3"/>
<line x1="712.70" y1="609.50" x2="716.70" y2="609.50" stroke="#000" stroke-width="1.3"/>
<text x="711.20" y="612.42" font-size="8.1" text-anchor="end" font-weight="bold" fill="#111">0.0</text>
<line x1="712.70" y1="579.58" x2="716.70" y2="579.58" stroke="#000" stroke-width="1.3"/>
<text x="711.20" y="582.50" font-size="8.1" text-anchor="end" font-weight="bold" fill="#111">0.2</text>
<line x1="712.70" y1="549.66" x2="716.70" y2="549.66" stroke="#000" stroke-width="1.3"/>
<text x="711.20" y="552.58" font-size="8.1" text-anchor="end" font-weight="bold" fill="#111">0.4</text>
<line x1="712.70" y1="519.74" x2="716.70" y2="519.74" stroke="#000" stroke-width="1.3"/>
<text x="711.20" y="522.66" font-size="8.1" text-anchor="end" font-weight="bold" fill="#111">0.6</text>
<line x1="712.70" y1="489.82" x2="716.70" y2="489.82" stroke="#000" stroke-width="1.3"/>
<text x="711.20" y="492.74" font-size="8.1" text-anchor="end" font-weight="bold" fill="#111">0.8</text>
<line x1="712.70" y1="459.90" x2="716.70" y2="459.90" stroke="#000" stroke-width="1.3"/>
<text x="711.20" y="462.82" font-size="8.1" text-anchor="end" font-weight="bold" fill="#111">1.0</text>
<line x1="716.20" y1="609.50" x2="881.30" y2="609.50" stroke="#000" stroke-width="1.4"/>
<text x="695.00" y="527.00" font-size="8.75" text-anchor="middle" font-weight="bold" fill="#111" transform="rotate(-90 695.00 527.00)">Relative protein amounts</text>
<path d="M767.1 442.6 V436.9 H798.6 V442.6" stroke="#111" stroke-width="1.1" fill="none"/>
<path d="M828.2 442.6 V436.9 H857.1 V442.6" stroke="#111" stroke-width="1.1" fill="none"/>
<text x="783.00" y="436.79" font-size="14.5" text-anchor="middle" font-weight="bold" fill="#111" letter-spacing="0.5">****</text>
<text x="842.60" y="431.80" font-size="8.6" text-anchor="middle" font-weight="normal" fill="#111">ns</text>
<text x="740.10" y="617.30" font-size="9.5" text-anchor="end" font-weight="bold" fill="#111" transform="rotate(-45 740.10 617.30)">UNT</text>
<text x="771.00" y="617.30" font-size="9.5" text-anchor="end" font-weight="bold" fill="#111" transform="rotate(-45 771.00 617.30)">siCTR</text>
<text x="802.00" y="617.30" font-size="9.5" text-anchor="end" font-weight="bold" fill="#111" transform="rotate(-45 802.00 617.30)">siBLM</text>
<text x="833.00" y="617.30" font-size="9.5" text-anchor="end" font-weight="bold" fill="#111" transform="rotate(-45 833.00 617.30)">DMSO</text>
<text x="864.00" y="617.30" font-size="9.5" text-anchor="end" font-weight="bold" fill="#111" transform="rotate(-45 864.00 617.30)">ML216</text>
<text x="923.50" y="349.20" font-size="21" text-anchor="middle" font-weight="bold" fill="#111">E</text>
<rect x="990.25" y="403.35" width="20.90" height="156.55" fill="#eeeeee"/>
<path d="M990.25 559.90 V403.35 H1011.15 V559.90" fill="none" stroke="#1b1842" stroke-width="1.3"/>
<circle cx="991.10" cy="402.70" r="1.90" fill="#050510"/>
<circle cx="997.50" cy="402.70" r="1.90" fill="#050510"/>
<circle cx="1003.90" cy="402.70" r="1.90" fill="#050510"/>
<circle cx="1010.30" cy="402.70" r="1.90" fill="#050510"/>
<rect x="1024.55" y="435.58" width="20.90" height="124.32" fill="#eeeeee"/>
<path d="M1024.55 559.90 V435.58 H1045.45 V559.90" fill="none" stroke="#1b1842" stroke-width="1.3"/>
<line x1="1035.00" y1="428.64" x2="1035.00" y2="441.21" stroke="#1b1842" stroke-width="1.1"/>
<line x1="1029.20" y1="428.64" x2="1040.80" y2="428.64" stroke="#1b1842" stroke-width="1.1"/>
<line x1="1029.20" y1="441.21" x2="1040.80" y2="441.21" stroke="#1b1842" stroke-width="1.1"/>
<circle cx="1031.80" cy="430.68" r="1.90" fill="#050510"/>
<circle cx="1034.00" cy="442.79" r="1.90" fill="#050510"/>
<circle cx="1038.00" cy="428.64" r="1.90" fill="#050510"/>
<circle cx="1036.20" cy="434.14" r="1.90" fill="#050510"/>
<rect x="1059.25" y="520.15" width="20.90" height="39.75" fill="#eeeeee"/>
<path d="M1059.25 559.90 V520.15 H1080.15 V559.90" fill="none" stroke="#1b1842" stroke-width="1.3"/>
<line x1="1069.70" y1="510.70" x2="1069.70" y2="528.30" stroke="#1b1842" stroke-width="1.1"/>
<line x1="1063.90" y1="510.70" x2="1075.50" y2="510.70" stroke="#1b1842" stroke-width="1.1"/>
<line x1="1063.90" y1="528.30" x2="1075.50" y2="528.30" stroke="#1b1842" stroke-width="1.1"/>
<circle cx="1066.50" cy="512.74" r="1.90" fill="#050510"/>
<circle cx="1068.70" cy="530.82" r="1.90" fill="#050510"/>
<circle cx="1072.70" cy="511.95" r="1.90" fill="#050510"/>
<circle cx="1070.90" cy="518.24" r="1.90" fill="#050510"/>
<rect x="1093.75" y="409.01" width="20.90" height="150.89" fill="#eeeeee"/>
<path d="M1093.75 559.90 V409.01 H1114.65 V559.90" fill="none" stroke="#1b1842" stroke-width="1.3"/>
<line x1="1104.20" y1="403.64" x2="1104.20" y2="413.08" stroke="#1b1842" stroke-width="1.1"/>
<line x1="1098.40" y1="403.64" x2="1110.00" y2="403.64" stroke="#1b1842" stroke-width="1.1"/>
<line x1="1098.40" y1="413.08" x2="1110.00" y2="413.08" stroke="#1b1842" stroke-width="1.1"/>
<circle cx="1101.00" cy="412.92" r="1.90" fill="#050510"/>
<circle cx="1103.20" cy="403.49" r="1.90" fill="#050510"/>
<circle cx="1107.20" cy="411.35" r="1.90" fill="#050510"/>
<circle cx="1105.40" cy="408.20" r="1.90" fill="#050510"/>
<rect x="1128.35" y="512.92" width="20.90" height="46.98" fill="#eeeeee"/>
<path d="M1128.35 559.90 V512.92 H1149.25 V559.90" fill="none" stroke="#1b1842" stroke-width="1.3"/>
<line x1="1138.80" y1="502.52" x2="1138.80" y2="522.01" stroke="#1b1842" stroke-width="1.1"/>
<line x1="1133.00" y1="502.52" x2="1144.60" y2="502.52" stroke="#1b1842" stroke-width="1.1"/>
<line x1="1133.00" y1="522.01" x2="1144.60" y2="522.01" stroke="#1b1842" stroke-width="1.1"/>
<circle cx="1135.60" cy="504.09" r="1.90" fill="#050510"/>
<circle cx="1137.80" cy="524.53" r="1.90" fill="#050510"/>
<circle cx="1141.80" cy="502.52" r="1.90" fill="#050510"/>
<circle cx="1140.00" cy="515.88" r="1.90" fill="#050510"/>
<line x1="982.90" y1="386.10" x2="982.90" y2="560.40" stroke="#000" stroke-width="1.4"/>
<line x1="978.90" y1="559.90" x2="982.90" y2="559.90" stroke="#000" stroke-width="1.4"/>
<text x="978.60" y="562.92" font-size="8.4" text-anchor="end" font-weight="bold" fill="#111">0.0</text>
<line x1="978.90" y1="528.46" x2="982.90" y2="528.46" stroke="#000" stroke-width="1.4"/>
<text x="978.60" y="531.48" font-size="8.4" text-anchor="end" font-weight="bold" fill="#111">0.2</text>
<line x1="978.90" y1="497.02" x2="982.90" y2="497.02" stroke="#000" stroke-width="1.4"/>
<text x="978.60" y="500.04" font-size="8.4" text-anchor="end" font-weight="bold" fill="#111">0.4</text>
<line x1="978.90" y1="465.58" x2="982.90" y2="465.58" stroke="#000" stroke-width="1.4"/>
<text x="978.60" y="468.60" font-size="8.4" text-anchor="end" font-weight="bold" fill="#111">0.6</text>
<line x1="978.90" y1="434.14" x2="982.90" y2="434.14" stroke="#000" stroke-width="1.4"/>
<text x="978.60" y="437.16" font-size="8.4" text-anchor="end" font-weight="bold" fill="#111">0.8</text>
<line x1="978.90" y1="402.70" x2="982.90" y2="402.70" stroke="#000" stroke-width="1.4"/>
<text x="978.60" y="405.72" font-size="8.4" text-anchor="end" font-weight="bold" fill="#111">1.0</text>
<line x1="982.40" y1="559.90" x2="1156.70" y2="559.90" stroke="#000" stroke-width="1.4"/>
<text x="961.40" y="473.50" font-size="9.15" text-anchor="middle" font-weight="bold" fill="#111" transform="rotate(-90 961.40 473.50)">Relative CCA score</text>
<path d="M1035.1 395.8 V391.0 H1073.9 V395.8" stroke="#111" stroke-width="1.1" fill="none"/>
<path d="M1103.8 395.8 V391.0 H1142.7 V395.8" stroke="#111" stroke-width="1.1" fill="none"/>
<text x="1054.30" y="389.69" font-size="13.5" text-anchor="middle" font-weight="bold" fill="#111">*</text>
<text x="1123.00" y="389.69" font-size="13.5" text-anchor="middle" font-weight="bold" fill="#111">*</text>
<text x="1003.30" y="568.00" font-size="9.6" text-anchor="end" font-weight="bold" fill="#111" transform="rotate(-45 1003.30 568.00)">UNT</text>
<text x="1037.60" y="568.00" font-size="9.6" text-anchor="end" font-weight="bold" fill="#111" transform="rotate(-45 1037.60 568.00)">siCTR</text>
<text x="1072.30" y="568.00" font-size="9.6" text-anchor="end" font-weight="bold" fill="#111" transform="rotate(-45 1072.30 568.00)">siBLM</text>
<text x="1106.80" y="568.00" font-size="9.6" text-anchor="end" font-weight="bold" fill="#111" transform="rotate(-45 1106.80 568.00)">DMSO</text>
<text x="1141.40" y="568.00" font-size="9.6" text-anchor="end" font-weight="bold" fill="#111" transform="rotate(-45 1141.40 568.00)">ML216</text>
<text x="8.60" y="595.00" font-size="21" text-anchor="middle" font-weight="bold" fill="#111">F</text>
<line x1="125.83" y1="612.70" x2="125.83" y2="829.00" stroke="#111" stroke-width="1.5" stroke-dasharray="1.5 2.3"/>
<line x1="177.66" y1="612.70" x2="177.66" y2="829.00" stroke="#111" stroke-width="1.5" stroke-dasharray="1.5 2.3"/>
<line x1="229.48" y1="612.70" x2="229.48" y2="829.00" stroke="#111" stroke-width="1.5" stroke-dasharray="1.5 2.3"/>
<line x1="281.31" y1="612.70" x2="281.31" y2="829.00" stroke="#111" stroke-width="1.5" stroke-dasharray="1.5 2.3"/>
<line x1="74.00" y1="612.20" x2="74.00" y2="829.50" stroke="#000" stroke-width="1.6"/>
<line x1="70.00" y1="829.00" x2="74.00" y2="829.00" stroke="#000" stroke-width="1.6"/>
<text x="68.50" y="832.35" font-size="9.3" text-anchor="end" font-weight="bold" fill="#111">0</text>
<line x1="70.00" y1="779.92" x2="74.00" y2="779.92" stroke="#000" stroke-width="1.6"/>
<text x="68.50" y="783.27" font-size="9.3" text-anchor="end" font-weight="bold" fill="#111">25</text>
<line x1="70.00" y1="730.85" x2="74.00" y2="730.85" stroke="#000" stroke-width="1.6"/>
<text x="68.50" y="734.20" font-size="9.3" text-anchor="end" font-weight="bold" fill="#111">50</text>
<line x1="70.00" y1="681.77" x2="74.00" y2="681.77" stroke="#000" stroke-width="1.6"/>
<text x="68.50" y="685.12" font-size="9.3" text-anchor="end" font-weight="bold" fill="#111">75</text>
<line x1="70.00" y1="632.70" x2="74.00" y2="632.70" stroke="#000" stroke-width="1.6"/>
<text x="68.50" y="636.05" font-size="9.3" text-anchor="end" font-weight="bold" fill="#111">100</text>
<line x1="73.20" y1="829.00" x2="290.00" y2="829.00" stroke="#000" stroke-width="1.7"/>
<line x1="74.00" y1="829.00" x2="74.00" y2="833.50" stroke="#000" stroke-width="1.5"/>
<text x="74.00" y="844.20" font-size="9.2" text-anchor="middle" font-weight="bold" fill="#111">0</text>
<line x1="99.91" y1="829.00" x2="99.91" y2="833.50" stroke="#000" stroke-width="1.5"/>
<text x="99.91" y="844.20" font-size="9.2" text-anchor="middle" font-weight="bold" fill="#111">12</text>
<line x1="125.83" y1="829.00" x2="125.83" y2="833.50" stroke="#000" stroke-width="1.5"/>
<text x="125.83" y="844.20" font-size="9.2" text-anchor="middle" font-weight="bold" fill="#111">24</text>
<line x1="151.74" y1="829.00" x2="151.74" y2="833.50" stroke="#000" stroke-width="1.5"/>
<text x="151.74" y="844.20" font-size="9.2" text-anchor="middle" font-weight="bold" fill="#111">36</text>
<line x1="177.66" y1="829.00" x2="177.66" y2="833.50" stroke="#000" stroke-width="1.5"/>
<text x="177.66" y="844.20" font-size="9.2" text-anchor="middle" font-weight="bold" fill="#111">48</text>
<line x1="203.57" y1="829.00" x2="203.57" y2="833.50" stroke="#000" stroke-width="1.5"/>
<text x="203.57" y="844.20" font-size="9.2" text-anchor="middle" font-weight="bold" fill="#111">60</text>
<line x1="229.48" y1="829.00" x2="229.48" y2="833.50" stroke="#000" stroke-width="1.5"/>
<text x="229.48" y="844.20" font-size="9.2" text-anchor="middle" font-weight="bold" fill="#111">72</text>
<line x1="255.40" y1="829.00" x2="255.40" y2="833.50" stroke="#000" stroke-width="1.5"/>
<text x="255.40" y="844.20" font-size="9.2" text-anchor="middle" font-weight="bold" fill="#111">84</text>
<line x1="281.31" y1="829.00" x2="281.31" y2="833.50" stroke="#000" stroke-width="1.5"/>
<text x="281.31" y="844.20" font-size="9.2" text-anchor="middle" font-weight="bold" fill="#111">96</text>
<text x="182.00" y="859.20" font-size="11.2" text-anchor="middle" font-weight="bold" fill="#111">time (h)</text>
<text x="45.50" y="721.00" font-size="11.45" text-anchor="middle" font-weight="bold" fill="#111" transform="rotate(-90 45.50 721.00)">Normalized Phase Image Confluence (%)</text>
<line x1="82.64" y1="817.22" x2="82.64" y2="815.65" stroke="#14501f" stroke-width="1.1"/>
<line x1="80.44" y1="815.65" x2="84.84" y2="815.65" stroke="#14501f" stroke-width="1.1"/>
<line x1="91.28" y1="809.37" x2="91.28" y2="807.41" stroke="#14501f" stroke-width="1.1"/>
<line x1="89.08" y1="807.41" x2="93.48" y2="807.41" stroke="#14501f" stroke-width="1.1"/>
<line x1="99.91" y1="797.59" x2="99.91" y2="795.24" stroke="#14501f" stroke-width="1.1"/>
<line x1="97.71" y1="795.24" x2="102.11" y2="795.24" stroke="#14501f" stroke-width="1.1"/>
<line x1="108.55" y1="786.80" x2="108.55" y2="783.85" stroke="#14501f" stroke-width="1.1"/>
<line x1="106.35" y1="783.85" x2="110.75" y2="783.85" stroke="#14501f" stroke-width="1.1"/>
<line x1="117.19" y1="776.98" x2="117.19" y2="773.05" stroke="#14501f" stroke-width="1.1"/>
<line x1="114.99" y1="773.05" x2="119.39" y2="773.05" stroke="#14501f" stroke-width="1.1"/>
<line x1="125.83" y1="768.15" x2="125.83" y2="762.26" stroke="#14501f" stroke-width="1.1"/>
<line x1="123.63" y1="762.26" x2="128.03" y2="762.26" stroke="#14501f" stroke-width="1.1"/>
<line x1="134.47" y1="758.33" x2="134.47" y2="751.46" stroke="#14501f" stroke-width="1.1"/>
<line x1="132.27" y1="751.46" x2="136.67" y2="751.46" stroke="#14501f" stroke-width="1.1"/>
<line x1="143.10" y1="748.52" x2="143.10" y2="740.66" stroke="#14501f" stroke-width="1.1"/>
<line x1="140.90" y1="740.66" x2="145.30" y2="740.66" stroke="#14501f" stroke-width="1.1"/>
<line x1="151.74" y1="733.79" x2="151.74" y2="724.96" stroke="#14501f" stroke-width="1.1"/>
<line x1="149.54" y1="724.96" x2="153.94" y2="724.96" stroke="#14501f" stroke-width="1.1"/>
<line x1="160.38" y1="719.07" x2="160.38" y2="709.65" stroke="#14501f" stroke-width="1.1"/>
<line x1="158.18" y1="709.65" x2="162.58" y2="709.65" stroke="#14501f" stroke-width="1.1"/>
<line x1="169.02" y1="705.33" x2="169.02" y2="695.52" stroke="#14501f" stroke-width="1.1"/>
<line x1="166.82" y1="695.52" x2="171.22" y2="695.52" stroke="#14501f" stroke-width="1.1"/>
<line x1="177.66" y1="694.53" x2="177.66" y2="684.72" stroke="#14501f" stroke-width="1.1"/>
<line x1="175.46" y1="684.72" x2="179.86" y2="684.72" stroke="#14501f" stroke-width="1.1"/>
<line x1="186.29" y1="681.77" x2="186.29" y2="671.96" stroke="#14501f" stroke-width="1.1"/>
<line x1="184.09" y1="671.96" x2="188.49" y2="671.96" stroke="#14501f" stroke-width="1.1"/>
<line x1="194.93" y1="671.96" x2="194.93" y2="662.14" stroke="#14501f" stroke-width="1.1"/>
<line x1="192.73" y1="662.14" x2="197.13" y2="662.14" stroke="#14501f" stroke-width="1.1"/>
<line x1="203.57" y1="663.13" x2="203.57" y2="654.10" stroke="#14501f" stroke-width="1.1"/>
<line x1="201.37" y1="654.10" x2="205.77" y2="654.10" stroke="#14501f" stroke-width="1.1"/>
<line x1="212.21" y1="656.26" x2="212.21" y2="648.01" stroke="#14501f" stroke-width="1.1"/>
<line x1="210.01" y1="648.01" x2="214.41" y2="648.01" stroke="#14501f" stroke-width="1.1"/>
<line x1="220.85" y1="650.37" x2="220.85" y2="643.30" stroke="#14501f" stroke-width="1.1"/>
<line x1="218.65" y1="643.30" x2="223.05" y2="643.30" stroke="#14501f" stroke-width="1.1"/>
<line x1="229.48" y1="646.44" x2="229.48" y2="640.55" stroke="#14501f" stroke-width="1.1"/>
<line x1="227.28" y1="640.55" x2="231.68" y2="640.55" stroke="#14501f" stroke-width="1.1"/>
<line x1="238.12" y1="643.30" x2="238.12" y2="638.39" stroke="#14501f" stroke-width="1.1"/>
<line x1="235.92" y1="638.39" x2="240.32" y2="638.39" stroke="#14501f" stroke-width="1.1"/>
<line x1="246.76" y1="640.55" x2="246.76" y2="636.63" stroke="#14501f" stroke-width="1.1"/>
<line x1="244.56" y1="636.63" x2="248.96" y2="636.63" stroke="#14501f" stroke-width="1.1"/>
<line x1="255.40" y1="638.59" x2="255.40" y2="635.45" stroke="#14501f" stroke-width="1.1"/>
<line x1="253.20" y1="635.45" x2="257.60" y2="635.45" stroke="#14501f" stroke-width="1.1"/>
<line x1="264.04" y1="636.63" x2="264.04" y2="634.27" stroke="#14501f" stroke-width="1.1"/>
<line x1="261.84" y1="634.27" x2="266.24" y2="634.27" stroke="#14501f" stroke-width="1.1"/>
<line x1="272.67" y1="635.25" x2="272.67" y2="633.29" stroke="#14501f" stroke-width="1.1"/>
<line x1="270.47" y1="633.29" x2="274.87" y2="633.29" stroke="#14501f" stroke-width="1.1"/>
<line x1="281.31" y1="634.07" x2="281.31" y2="632.50" stroke="#14501f" stroke-width="1.1"/>
<line x1="279.11" y1="632.50" x2="283.51" y2="632.50" stroke="#14501f" stroke-width="1.1"/>
<path d="M74.00 829.00 L82.64 817.22 L91.28 809.37 L99.91 797.59 L108.55 786.80 L117.19 776.98 L125.83 768.15 L134.47 758.33 L143.10 748.52 L151.74 733.79 L160.38 719.07 L169.02 705.33 L177.66 694.53 L186.29 681.77 L194.93 671.96 L203.57 663.13 L212.21 656.26 L220.85 650.37 L229.48 646.44 L238.12 643.30 L246.76 640.55 L255.40 638.59 L264.04 636.63 L272.67 635.25 L281.31 634.07" stroke="#14501f" stroke-width="1.8" fill="none" stroke-linejoin="round"/>
<circle cx="74.00" cy="829.00" r="2.20" fill="#14501f"/>
<circle cx="82.64" cy="817.22" r="2.20" fill="#14501f"/>
<circle cx="91.28" cy="809.37" r="2.20" fill="#14501f"/>
<circle cx="99.91" cy="797.59" r="2.20" fill="#14501f"/>
<circle cx="108.55" cy="786.80" r="2.20" fill="#14501f"/>
<circle cx="117.19" cy="776.98" r="2.20" fill="#14501f"/>
<circle cx="125.83" cy="768.15" r="2.20" fill="#14501f"/>
<circle cx="134.47" cy="758.33" r="2.20" fill="#14501f"/>
<circle cx="143.10" cy="748.52" r="2.20" fill="#14501f"/>
<circle cx="151.74" cy="733.79" r="2.20" fill="#14501f"/>
<circle cx="160.38" cy="719.07" r="2.20" fill="#14501f"/>
<circle cx="169.02" cy="705.33" r="2.20" fill="#14501f"/>
<circle cx="177.66" cy="694.53" r="2.20" fill="#14501f"/>
<circle cx="186.29" cy="681.77" r="2.20" fill="#14501f"/>
<circle cx="194.93" cy="671.96" r="2.20" fill="#14501f"/>
<circle cx="203.57" cy="663.13" r="2.20" fill="#14501f"/>
<circle cx="212.21" cy="656.26" r="2.20" fill="#14501f"/>
<circle cx="220.85" cy="650.37" r="2.20" fill="#14501f"/>
<circle cx="229.48" cy="646.44" r="2.20" fill="#14501f"/>
<circle cx="238.12" cy="643.30" r="2.20" fill="#14501f"/>
<circle cx="246.76" cy="640.55" r="2.20" fill="#14501f"/>
<circle cx="255.40" cy="638.59" r="2.20" fill="#14501f"/>
<circle cx="264.04" cy="636.63" r="2.20" fill="#14501f"/>
<circle cx="272.67" cy="635.25" r="2.20" fill="#14501f"/>
<circle cx="281.31" cy="634.07" r="2.20" fill="#14501f"/>
<line x1="82.64" y1="816.63" x2="82.64" y2="815.06" stroke="#e83a26" stroke-width="1.1"/>
<line x1="80.44" y1="815.06" x2="84.84" y2="815.06" stroke="#e83a26" stroke-width="1.1"/>
<line x1="91.28" y1="808.98" x2="91.28" y2="807.01" stroke="#e83a26" stroke-width="1.1"/>
<line x1="89.08" y1="807.01" x2="93.48" y2="807.01" stroke="#e83a26" stroke-width="1.1"/>
<line x1="99.91" y1="798.18" x2="99.91" y2="795.83" stroke="#e83a26" stroke-width="1.1"/>
<line x1="97.71" y1="795.83" x2="102.11" y2="795.83" stroke="#e83a26" stroke-width="1.1"/>
<line x1="108.55" y1="787.78" x2="108.55" y2="784.24" stroke="#e83a26" stroke-width="1.1"/>
<line x1="106.35" y1="784.24" x2="110.75" y2="784.24" stroke="#e83a26" stroke-width="1.1"/>
<line x1="117.19" y1="777.96" x2="117.19" y2="772.47" stroke="#e83a26" stroke-width="1.1"/>
<line x1="114.99" y1="772.47" x2="119.39" y2="772.47" stroke="#e83a26" stroke-width="1.1"/>
<line x1="125.83" y1="769.13" x2="125.83" y2="764.22" stroke="#e83a26" stroke-width="1.1"/>
<line x1="123.63" y1="764.22" x2="128.03" y2="764.22" stroke="#e83a26" stroke-width="1.1"/>
<line x1="134.47" y1="759.71" x2="134.47" y2="755.78" stroke="#e83a26" stroke-width="1.1"/>
<line x1="132.27" y1="755.78" x2="136.67" y2="755.78" stroke="#e83a26" stroke-width="1.1"/>
<line x1="143.10" y1="750.09" x2="143.10" y2="747.14" stroke="#e83a26" stroke-width="1.1"/>
<line x1="140.90" y1="747.14" x2="145.30" y2="747.14" stroke="#e83a26" stroke-width="1.1"/>
<line x1="151.74" y1="737.72" x2="151.74" y2="735.36" stroke="#e83a26" stroke-width="1.1"/>
<line x1="149.54" y1="735.36" x2="153.94" y2="735.36" stroke="#e83a26" stroke-width="1.1"/>
<line x1="160.38" y1="724.96" x2="160.38" y2="723.00" stroke="#e83a26" stroke-width="1.1"/>
<line x1="158.18" y1="723.00" x2="162.58" y2="723.00" stroke="#e83a26" stroke-width="1.1"/>
<line x1="169.02" y1="712.20" x2="169.02" y2="710.24" stroke="#e83a26" stroke-width="1.1"/>
<line x1="166.82" y1="710.24" x2="171.22" y2="710.24" stroke="#e83a26" stroke-width="1.1"/>
<line x1="177.66" y1="700.42" x2="177.66" y2="698.46" stroke="#e83a26" stroke-width="1.1"/>
<line x1="175.46" y1="698.46" x2="179.86" y2="698.46" stroke="#e83a26" stroke-width="1.1"/>
<line x1="186.29" y1="689.63" x2="186.29" y2="687.66" stroke="#e83a26" stroke-width="1.1"/>
<line x1="184.09" y1="687.66" x2="188.49" y2="687.66" stroke="#e83a26" stroke-width="1.1"/>
<line x1="194.93" y1="679.81" x2="194.93" y2="677.85" stroke="#e83a26" stroke-width="1.1"/>
<line x1="192.73" y1="677.85" x2="197.13" y2="677.85" stroke="#e83a26" stroke-width="1.1"/>
<line x1="203.57" y1="670.98" x2="203.57" y2="669.02" stroke="#e83a26" stroke-width="1.1"/>
<line x1="201.37" y1="669.02" x2="205.77" y2="669.02" stroke="#e83a26" stroke-width="1.1"/>
<line x1="212.21" y1="664.11" x2="212.21" y2="662.14" stroke="#e83a26" stroke-width="1.1"/>
<line x1="210.01" y1="662.14" x2="214.41" y2="662.14" stroke="#e83a26" stroke-width="1.1"/>
<line x1="220.85" y1="658.22" x2="220.85" y2="656.26" stroke="#e83a26" stroke-width="1.1"/>
<line x1="218.65" y1="656.26" x2="223.05" y2="656.26" stroke="#e83a26" stroke-width="1.1"/>
<line x1="229.48" y1="652.92" x2="229.48" y2="650.96" stroke="#e83a26" stroke-width="1.1"/>
<line x1="227.28" y1="650.96" x2="231.68" y2="650.96" stroke="#e83a26" stroke-width="1.1"/>
<line x1="238.12" y1="648.99" x2="238.12" y2="647.03" stroke="#e83a26" stroke-width="1.1"/>
<line x1="235.92" y1="647.03" x2="240.32" y2="647.03" stroke="#e83a26" stroke-width="1.1"/>
<line x1="246.76" y1="645.85" x2="246.76" y2="644.28" stroke="#e83a26" stroke-width="1.1"/>
<line x1="244.56" y1="644.28" x2="248.96" y2="644.28" stroke="#e83a26" stroke-width="1.1"/>
<line x1="255.40" y1="642.51" x2="255.40" y2="640.94" stroke="#e83a26" stroke-width="1.1"/>
<line x1="253.20" y1="640.94" x2="257.60" y2="640.94" stroke="#e83a26" stroke-width="1.1"/>
<line x1="264.04" y1="640.16" x2="264.04" y2="638.59" stroke="#e83a26" stroke-width="1.1"/>
<line x1="261.84" y1="638.59" x2="266.24" y2="638.59" stroke="#e83a26" stroke-width="1.1"/>
<line x1="272.67" y1="638.00" x2="272.67" y2="636.82" stroke="#e83a26" stroke-width="1.1"/>
<line x1="270.47" y1="636.82" x2="274.87" y2="636.82" stroke="#e83a26" stroke-width="1.1"/>
<line x1="281.31" y1="636.63" x2="281.31" y2="635.45" stroke="#e83a26" stroke-width="1.1"/>
<line x1="279.11" y1="635.45" x2="283.51" y2="635.45" stroke="#e83a26" stroke-width="1.1"/>
<path d="M74.00 829.00 L82.64 816.63 L91.28 808.98 L99.91 798.18 L108.55 787.78 L117.19 777.96 L125.83 769.13 L134.47 759.71 L143.10 750.09 L151.74 737.72 L160.38 724.96 L169.02 712.20 L177.66 700.42 L186.29 689.63 L194.93 679.81 L203.57 670.98 L212.21 664.11 L220.85 658.22 L229.48 652.92 L238.12 648.99 L246.76 645.85 L255.40 642.51 L264.04 640.16 L272.67 638.00 L281.31 636.63" stroke="#e83a26" stroke-width="1.8" fill="none" stroke-linejoin="round"/>
<circle cx="74.00" cy="829.00" r="2.20" fill="#e83a26"/>
<circle cx="82.64" cy="816.63" r="2.20" fill="#e83a26"/>
<circle cx="91.28" cy="808.98" r="2.20" fill="#e83a26"/>
<circle cx="99.91" cy="798.18" r="2.20" fill="#e83a26"/>
<circle cx="108.55" cy="787.78" r="2.20" fill="#e83a26"/>
<circle cx="117.19" cy="777.96" r="2.20" fill="#e83a26"/>
<circle cx="125.83" cy="769.13" r="2.20" fill="#e83a26"/>
<circle cx="134.47" cy="759.71" r="2.20" fill="#e83a26"/>
<circle cx="143.10" cy="750.09" r="2.20" fill="#e83a26"/>
<circle cx="151.74" cy="737.72" r="2.20" fill="#e83a26"/>
<circle cx="160.38" cy="724.96" r="2.20" fill="#e83a26"/>
<circle cx="169.02" cy="712.20" r="2.20" fill="#e83a26"/>
<circle cx="177.66" cy="700.42" r="2.20" fill="#e83a26"/>
<circle cx="186.29" cy="689.63" r="2.20" fill="#e83a26"/>
<circle cx="194.93" cy="679.81" r="2.20" fill="#e83a26"/>
<circle cx="203.57" cy="670.98" r="2.20" fill="#e83a26"/>
<circle cx="212.21" cy="664.11" r="2.20" fill="#e83a26"/>
<circle cx="220.85" cy="658.22" r="2.20" fill="#e83a26"/>
<circle cx="229.48" cy="652.92" r="2.20" fill="#e83a26"/>
<circle cx="238.12" cy="648.99" r="2.20" fill="#e83a26"/>
<circle cx="246.76" cy="645.85" r="2.20" fill="#e83a26"/>
<circle cx="255.40" cy="642.51" r="2.20" fill="#e83a26"/>
<circle cx="264.04" cy="640.16" r="2.20" fill="#e83a26"/>
<circle cx="272.67" cy="638.00" r="2.20" fill="#e83a26"/>
<circle cx="281.31" cy="636.63" r="2.20" fill="#e83a26"/>
<line x1="82.64" y1="814.28" x2="82.64" y2="812.31" stroke="#2e1f8e" stroke-width="1.1"/>
<line x1="80.44" y1="812.31" x2="84.84" y2="812.31" stroke="#2e1f8e" stroke-width="1.1"/>
<line x1="91.28" y1="801.52" x2="91.28" y2="798.57" stroke="#2e1f8e" stroke-width="1.1"/>
<line x1="89.08" y1="798.57" x2="93.48" y2="798.57" stroke="#2e1f8e" stroke-width="1.1"/>
<line x1="99.91" y1="784.83" x2="99.91" y2="781.30" stroke="#2e1f8e" stroke-width="1.1"/>
<line x1="97.71" y1="781.30" x2="102.11" y2="781.30" stroke="#2e1f8e" stroke-width="1.1"/>
<line x1="108.55" y1="770.11" x2="108.55" y2="767.17" stroke="#2e1f8e" stroke-width="1.1"/>
<line x1="106.35" y1="767.17" x2="110.75" y2="767.17" stroke="#2e1f8e" stroke-width="1.1"/>
<line x1="117.19" y1="755.39" x2="117.19" y2="752.44" stroke="#2e1f8e" stroke-width="1.1"/>
<line x1="114.99" y1="752.44" x2="119.39" y2="752.44" stroke="#2e1f8e" stroke-width="1.1"/>
<line x1="125.83" y1="742.63" x2="125.83" y2="739.09" stroke="#2e1f8e" stroke-width="1.1"/>
<line x1="123.63" y1="739.09" x2="128.03" y2="739.09" stroke="#2e1f8e" stroke-width="1.1"/>
<line x1="134.47" y1="726.92" x2="134.47" y2="723.39" stroke="#2e1f8e" stroke-width="1.1"/>
<line x1="132.27" y1="723.39" x2="136.67" y2="723.39" stroke="#2e1f8e" stroke-width="1.1"/>
<line x1="143.10" y1="710.24" x2="143.10" y2="706.71" stroke="#2e1f8e" stroke-width="1.1"/>
<line x1="140.90" y1="706.71" x2="145.30" y2="706.71" stroke="#2e1f8e" stroke-width="1.1"/>
<line x1="151.74" y1="694.53" x2="151.74" y2="691.59" stroke="#2e1f8e" stroke-width="1.1"/>
<line x1="149.54" y1="691.59" x2="153.94" y2="691.59" stroke="#2e1f8e" stroke-width="1.1"/>
<line x1="160.38" y1="679.81" x2="160.38" y2="677.46" stroke="#2e1f8e" stroke-width="1.1"/>
<line x1="158.18" y1="677.46" x2="162.58" y2="677.46" stroke="#2e1f8e" stroke-width="1.1"/>
<line x1="169.02" y1="668.03" x2="169.02" y2="665.68" stroke="#2e1f8e" stroke-width="1.1"/>
<line x1="166.82" y1="665.68" x2="171.22" y2="665.68" stroke="#2e1f8e" stroke-width="1.1"/>
<line x1="177.66" y1="659.20" x2="177.66" y2="656.84" stroke="#2e1f8e" stroke-width="1.1"/>
<line x1="175.46" y1="656.84" x2="179.86" y2="656.84" stroke="#2e1f8e" stroke-width="1.1"/>
<line x1="186.29" y1="651.35" x2="186.29" y2="649.39" stroke="#2e1f8e" stroke-width="1.1"/>
<line x1="184.09" y1="649.39" x2="188.49" y2="649.39" stroke="#2e1f8e" stroke-width="1.1"/>
<line x1="194.93" y1="645.46" x2="194.93" y2="643.89" stroke="#2e1f8e" stroke-width="1.1"/>
<line x1="192.73" y1="643.89" x2="197.13" y2="643.89" stroke="#2e1f8e" stroke-width="1.1"/>
<line x1="203.57" y1="641.53" x2="203.57" y2="640.36" stroke="#2e1f8e" stroke-width="1.1"/>
<line x1="201.37" y1="640.36" x2="205.77" y2="640.36" stroke="#2e1f8e" stroke-width="1.1"/>
<line x1="212.21" y1="638.59" x2="212.21" y2="637.61" stroke="#2e1f8e" stroke-width="1.1"/>
<line x1="210.01" y1="637.61" x2="214.41" y2="637.61" stroke="#2e1f8e" stroke-width="1.1"/>
<line x1="220.85" y1="636.63" x2="220.85" y2="635.84" stroke="#2e1f8e" stroke-width="1.1"/>
<line x1="218.65" y1="635.84" x2="223.05" y2="635.84" stroke="#2e1f8e" stroke-width="1.1"/>
<line x1="229.48" y1="635.45" x2="229.48" y2="634.86" stroke="#2e1f8e" stroke-width="1.1"/>
<line x1="227.28" y1="634.86" x2="231.68" y2="634.86" stroke="#2e1f8e" stroke-width="1.1"/>
<line x1="238.12" y1="634.66" x2="238.12" y2="634.07" stroke="#2e1f8e" stroke-width="1.1"/>
<line x1="235.92" y1="634.07" x2="240.32" y2="634.07" stroke="#2e1f8e" stroke-width="1.1"/>
<line x1="246.76" y1="634.07" x2="246.76" y2="633.49" stroke="#2e1f8e" stroke-width="1.1"/>
<line x1="244.56" y1="633.49" x2="248.96" y2="633.49" stroke="#2e1f8e" stroke-width="1.1"/>
<line x1="255.40" y1="633.68" x2="255.40" y2="633.09" stroke="#2e1f8e" stroke-width="1.1"/>
<line x1="253.20" y1="633.09" x2="257.60" y2="633.09" stroke="#2e1f8e" stroke-width="1.1"/>
<line x1="264.04" y1="633.49" x2="264.04" y2="632.90" stroke="#2e1f8e" stroke-width="1.1"/>
<line x1="261.84" y1="632.90" x2="266.24" y2="632.90" stroke="#2e1f8e" stroke-width="1.1"/>
<line x1="272.67" y1="633.29" x2="272.67" y2="632.70" stroke="#2e1f8e" stroke-width="1.1"/>
<line x1="270.47" y1="632.70" x2="274.87" y2="632.70" stroke="#2e1f8e" stroke-width="1.1"/>
<line x1="281.31" y1="633.09" x2="281.31" y2="632.50" stroke="#2e1f8e" stroke-width="1.1"/>
<line x1="279.11" y1="632.50" x2="283.51" y2="632.50" stroke="#2e1f8e" stroke-width="1.1"/>
<path d="M74.00 829.00 L82.64 814.28 L91.28 801.52 L99.91 784.83 L108.55 770.11 L117.19 755.39 L125.83 742.63 L134.47 726.92 L143.10 710.24 L151.74 694.53 L160.38 679.81 L169.02 668.03 L177.66 659.20 L186.29 651.35 L194.93 645.46 L203.57 641.53 L212.21 638.59 L220.85 636.63 L229.48 635.45 L238.12 634.66 L246.76 634.07 L255.40 633.68 L264.04 633.49 L272.67 633.29 L281.31 633.09" stroke="#2e1f8e" stroke-width="1.8" fill="none" stroke-linejoin="round"/>
<circle cx="74.00" cy="829.00" r="2.20" fill="#2e1f8e"/>
<circle cx="82.64" cy="814.28" r="2.20" fill="#2e1f8e"/>
<circle cx="91.28" cy="801.52" r="2.20" fill="#2e1f8e"/>
<circle cx="99.91" cy="784.83" r="2.20" fill="#2e1f8e"/>
<circle cx="108.55" cy="770.11" r="2.20" fill="#2e1f8e"/>
<circle cx="117.19" cy="755.39" r="2.20" fill="#2e1f8e"/>
<circle cx="125.83" cy="742.63" r="2.20" fill="#2e1f8e"/>
<circle cx="134.47" cy="726.92" r="2.20" fill="#2e1f8e"/>
<circle cx="143.10" cy="710.24" r="2.20" fill="#2e1f8e"/>
<circle cx="151.74" cy="694.53" r="2.20" fill="#2e1f8e"/>
<circle cx="160.38" cy="679.81" r="2.20" fill="#2e1f8e"/>
<circle cx="169.02" cy="668.03" r="2.20" fill="#2e1f8e"/>
<circle cx="177.66" cy="659.20" r="2.20" fill="#2e1f8e"/>
<circle cx="186.29" cy="651.35" r="2.20" fill="#2e1f8e"/>
<circle cx="194.93" cy="645.46" r="2.20" fill="#2e1f8e"/>
<circle cx="203.57" cy="641.53" r="2.20" fill="#2e1f8e"/>
<circle cx="212.21" cy="638.59" r="2.20" fill="#2e1f8e"/>
<circle cx="220.85" cy="636.63" r="2.20" fill="#2e1f8e"/>
<circle cx="229.48" cy="635.45" r="2.20" fill="#2e1f8e"/>
<circle cx="238.12" cy="634.66" r="2.20" fill="#2e1f8e"/>
<circle cx="246.76" cy="634.07" r="2.20" fill="#2e1f8e"/>
<circle cx="255.40" cy="633.68" r="2.20" fill="#2e1f8e"/>
<circle cx="264.04" cy="633.49" r="2.20" fill="#2e1f8e"/>
<circle cx="272.67" cy="633.29" r="2.20" fill="#2e1f8e"/>
<circle cx="281.31" cy="633.09" r="2.20" fill="#2e1f8e"/>
<line x1="82.64" y1="825.07" x2="82.64" y2="824.29" stroke="#2e1f8e" stroke-width="1.1"/>
<line x1="80.44" y1="824.29" x2="84.84" y2="824.29" stroke="#2e1f8e" stroke-width="1.1"/>
<line x1="91.28" y1="821.15" x2="91.28" y2="819.97" stroke="#2e1f8e" stroke-width="1.1"/>
<line x1="89.08" y1="819.97" x2="93.48" y2="819.97" stroke="#2e1f8e" stroke-width="1.1"/>
<line x1="99.91" y1="816.24" x2="99.91" y2="814.67" stroke="#2e1f8e" stroke-width="1.1"/>
<line x1="97.71" y1="814.67" x2="102.11" y2="814.67" stroke="#2e1f8e" stroke-width="1.1"/>
<line x1="108.55" y1="810.74" x2="108.55" y2="808.78" stroke="#2e1f8e" stroke-width="1.1"/>
<line x1="106.35" y1="808.78" x2="110.75" y2="808.78" stroke="#2e1f8e" stroke-width="1.1"/>
<line x1="117.19" y1="805.44" x2="117.19" y2="803.09" stroke="#2e1f8e" stroke-width="1.1"/>
<line x1="114.99" y1="803.09" x2="119.39" y2="803.09" stroke="#2e1f8e" stroke-width="1.1"/>
<line x1="125.83" y1="800.93" x2="125.83" y2="797.98" stroke="#2e1f8e" stroke-width="1.1"/>
<line x1="123.63" y1="797.98" x2="128.03" y2="797.98" stroke="#2e1f8e" stroke-width="1.1"/>
<line x1="134.47" y1="797.00" x2="134.47" y2="793.47" stroke="#2e1f8e" stroke-width="1.1"/>
<line x1="132.27" y1="793.47" x2="136.67" y2="793.47" stroke="#2e1f8e" stroke-width="1.1"/>
<line x1="143.10" y1="793.67" x2="143.10" y2="789.74" stroke="#2e1f8e" stroke-width="1.1"/>
<line x1="140.90" y1="789.74" x2="145.30" y2="789.74" stroke="#2e1f8e" stroke-width="1.1"/>
<line x1="151.74" y1="788.76" x2="151.74" y2="784.44" stroke="#2e1f8e" stroke-width="1.1"/>
<line x1="149.54" y1="784.44" x2="153.94" y2="784.44" stroke="#2e1f8e" stroke-width="1.1"/>
<line x1="160.38" y1="782.87" x2="160.38" y2="778.55" stroke="#2e1f8e" stroke-width="1.1"/>
<line x1="158.18" y1="778.55" x2="162.58" y2="778.55" stroke="#2e1f8e" stroke-width="1.1"/>
<line x1="169.02" y1="776.00" x2="169.02" y2="771.68" stroke="#2e1f8e" stroke-width="1.1"/>
<line x1="166.82" y1="771.68" x2="171.22" y2="771.68" stroke="#2e1f8e" stroke-width="1.1"/>
<line x1="177.66" y1="770.11" x2="177.66" y2="765.79" stroke="#2e1f8e" stroke-width="1.1"/>
<line x1="175.46" y1="765.79" x2="179.86" y2="765.79" stroke="#2e1f8e" stroke-width="1.1"/>
<line x1="186.29" y1="763.24" x2="186.29" y2="758.92" stroke="#2e1f8e" stroke-width="1.1"/>
<line x1="184.09" y1="758.92" x2="188.49" y2="758.92" stroke="#2e1f8e" stroke-width="1.1"/>
<line x1="194.93" y1="757.35" x2="194.93" y2="753.03" stroke="#2e1f8e" stroke-width="1.1"/>
<line x1="192.73" y1="753.03" x2="197.13" y2="753.03" stroke="#2e1f8e" stroke-width="1.1"/>
<line x1="203.57" y1="751.46" x2="203.57" y2="747.14" stroke="#2e1f8e" stroke-width="1.1"/>
<line x1="201.37" y1="747.14" x2="205.77" y2="747.14" stroke="#2e1f8e" stroke-width="1.1"/>
<line x1="212.21" y1="744.59" x2="212.21" y2="740.27" stroke="#2e1f8e" stroke-width="1.1"/>
<line x1="210.01" y1="740.27" x2="214.41" y2="740.27" stroke="#2e1f8e" stroke-width="1.1"/>
<line x1="220.85" y1="739.09" x2="220.85" y2="734.78" stroke="#2e1f8e" stroke-width="1.1"/>
<line x1="218.65" y1="734.78" x2="223.05" y2="734.78" stroke="#2e1f8e" stroke-width="1.1"/>
<line x1="229.48" y1="734.19" x2="229.48" y2="729.87" stroke="#2e1f8e" stroke-width="1.1"/>
<line x1="227.28" y1="729.87" x2="231.68" y2="729.87" stroke="#2e1f8e" stroke-width="1.1"/>
<line x1="238.12" y1="729.87" x2="238.12" y2="725.55" stroke="#2e1f8e" stroke-width="1.1"/>
<line x1="235.92" y1="725.55" x2="240.32" y2="725.55" stroke="#2e1f8e" stroke-width="1.1"/>
<line x1="246.76" y1="724.96" x2="246.76" y2="720.64" stroke="#2e1f8e" stroke-width="1.1"/>
<line x1="244.56" y1="720.64" x2="248.96" y2="720.64" stroke="#2e1f8e" stroke-width="1.1"/>
<line x1="255.40" y1="721.03" x2="255.40" y2="716.72" stroke="#2e1f8e" stroke-width="1.1"/>
<line x1="253.20" y1="716.72" x2="257.60" y2="716.72" stroke="#2e1f8e" stroke-width="1.1"/>
<line x1="264.04" y1="716.72" x2="264.04" y2="712.40" stroke="#2e1f8e" stroke-width="1.1"/>
<line x1="261.84" y1="712.40" x2="266.24" y2="712.40" stroke="#2e1f8e" stroke-width="1.1"/>
<line x1="272.67" y1="713.18" x2="272.67" y2="708.86" stroke="#2e1f8e" stroke-width="1.1"/>
<line x1="270.47" y1="708.86" x2="274.87" y2="708.86" stroke="#2e1f8e" stroke-width="1.1"/>
<line x1="281.31" y1="709.85" x2="281.31" y2="704.74" stroke="#2e1f8e" stroke-width="1.1"/>
<line x1="279.11" y1="704.74" x2="283.51" y2="704.74" stroke="#2e1f8e" stroke-width="1.1"/>
<path d="M74.00 829.00 L82.64 825.07 L91.28 821.15 L99.91 816.24 L108.55 810.74 L117.19 805.44 L125.83 800.93 L134.47 797.00 L143.10 793.67 L151.74 788.76 L160.38 782.87 L169.02 776.00 L177.66 770.11 L186.29 763.24 L194.93 757.35 L203.57 751.46 L212.21 744.59 L220.85 739.09 L229.48 734.19 L238.12 729.87 L246.76 724.96 L255.40 721.03 L264.04 716.72 L272.67 713.18 L281.31 709.85" stroke="#2e1f8e" stroke-width="1.8" fill="none" stroke-linejoin="round"/>
<path d="M74.00 826.12 L76.50 830.88 L71.50 830.88 Z" fill="#2e1f8e"/>
<path d="M82.64 822.20 L85.14 826.95 L80.14 826.95 Z" fill="#2e1f8e"/>
<path d="M91.28 818.27 L93.78 823.02 L88.78 823.02 Z" fill="#2e1f8e"/>
<path d="M99.91 813.37 L102.41 818.12 L97.41 818.12 Z" fill="#2e1f8e"/>
<path d="M108.55 807.87 L111.05 812.62 L106.05 812.62 Z" fill="#2e1f8e"/>
<path d="M117.19 802.57 L119.69 807.32 L114.69 807.32 Z" fill="#2e1f8e"/>
<path d="M125.83 798.05 L128.33 802.80 L123.33 802.80 Z" fill="#2e1f8e"/>
<path d="M134.47 794.13 L136.97 798.88 L131.97 798.88 Z" fill="#2e1f8e"/>
<path d="M143.10 790.79 L145.60 795.54 L140.60 795.54 Z" fill="#2e1f8e"/>
<path d="M151.74 785.88 L154.24 790.63 L149.24 790.63 Z" fill="#2e1f8e"/>
<path d="M160.38 779.99 L162.88 784.74 L157.88 784.74 Z" fill="#2e1f8e"/>
<path d="M169.02 773.12 L171.52 777.87 L166.52 777.87 Z" fill="#2e1f8e"/>
<path d="M177.66 767.24 L180.16 771.99 L175.16 771.99 Z" fill="#2e1f8e"/>
<path d="M186.29 760.36 L188.79 765.11 L183.79 765.11 Z" fill="#2e1f8e"/>
<path d="M194.93 754.48 L197.43 759.23 L192.43 759.23 Z" fill="#2e1f8e"/>
<path d="M203.57 748.59 L206.07 753.34 L201.07 753.34 Z" fill="#2e1f8e"/>
<path d="M212.21 741.72 L214.71 746.47 L209.71 746.47 Z" fill="#2e1f8e"/>
<path d="M220.85 736.22 L223.35 740.97 L218.35 740.97 Z" fill="#2e1f8e"/>
<path d="M229.48 731.31 L231.98 736.06 L226.98 736.06 Z" fill="#2e1f8e"/>
<path d="M238.12 726.99 L240.62 731.74 L235.62 731.74 Z" fill="#2e1f8e"/>
<path d="M246.76 722.09 L249.26 726.84 L244.26 726.84 Z" fill="#2e1f8e"/>
<path d="M255.40 718.16 L257.90 722.91 L252.90 722.91 Z" fill="#2e1f8e"/>
<path d="M264.04 713.84 L266.54 718.59 L261.54 718.59 Z" fill="#2e1f8e"/>
<path d="M272.67 710.31 L275.17 715.06 L270.17 715.06 Z" fill="#2e1f8e"/>
<path d="M281.31 706.97 L283.81 711.72 L278.81 711.72 Z" fill="#2e1f8e"/>
<line x1="91.28" y1="828.41" x2="91.28" y2="827.82" stroke="#14501f" stroke-width="1.1"/>
<line x1="89.08" y1="827.82" x2="93.48" y2="827.82" stroke="#14501f" stroke-width="1.1"/>
<line x1="99.91" y1="825.07" x2="99.91" y2="824.09" stroke="#14501f" stroke-width="1.1"/>
<line x1="97.71" y1="824.09" x2="102.11" y2="824.09" stroke="#14501f" stroke-width="1.1"/>
<line x1="108.55" y1="822.13" x2="108.55" y2="820.95" stroke="#14501f" stroke-width="1.1"/>
<line x1="106.35" y1="820.95" x2="110.75" y2="820.95" stroke="#14501f" stroke-width="1.1"/>
<line x1="117.19" y1="819.18" x2="117.19" y2="817.81" stroke="#14501f" stroke-width="1.1"/>
<line x1="114.99" y1="817.81" x2="119.39" y2="817.81" stroke="#14501f" stroke-width="1.1"/>
<line x1="125.83" y1="817.22" x2="125.83" y2="815.65" stroke="#14501f" stroke-width="1.1"/>
<line x1="123.63" y1="815.65" x2="128.03" y2="815.65" stroke="#14501f" stroke-width="1.1"/>
<line x1="134.47" y1="814.67" x2="134.47" y2="813.10" stroke="#14501f" stroke-width="1.1"/>
<line x1="132.27" y1="813.10" x2="136.67" y2="813.10" stroke="#14501f" stroke-width="1.1"/>
<line x1="143.10" y1="812.31" x2="143.10" y2="810.74" stroke="#14501f" stroke-width="1.1"/>
<line x1="140.90" y1="810.74" x2="145.30" y2="810.74" stroke="#14501f" stroke-width="1.1"/>
<line x1="151.74" y1="809.96" x2="151.74" y2="808.39" stroke="#14501f" stroke-width="1.1"/>
<line x1="149.54" y1="808.39" x2="153.94" y2="808.39" stroke="#14501f" stroke-width="1.1"/>
<line x1="160.38" y1="805.44" x2="160.38" y2="803.87" stroke="#14501f" stroke-width="1.1"/>
<line x1="158.18" y1="803.87" x2="162.58" y2="803.87" stroke="#14501f" stroke-width="1.1"/>
<line x1="169.02" y1="799.55" x2="169.02" y2="797.98" stroke="#14501f" stroke-width="1.1"/>
<line x1="166.82" y1="797.98" x2="171.22" y2="797.98" stroke="#14501f" stroke-width="1.1"/>
<line x1="177.66" y1="793.67" x2="177.66" y2="792.10" stroke="#14501f" stroke-width="1.1"/>
<line x1="175.46" y1="792.10" x2="179.86" y2="792.10" stroke="#14501f" stroke-width="1.1"/>
<line x1="186.29" y1="785.81" x2="186.29" y2="783.85" stroke="#14501f" stroke-width="1.1"/>
<line x1="184.09" y1="783.85" x2="188.49" y2="783.85" stroke="#14501f" stroke-width="1.1"/>
<line x1="194.93" y1="779.34" x2="194.93" y2="777.37" stroke="#14501f" stroke-width="1.1"/>
<line x1="192.73" y1="777.37" x2="197.13" y2="777.37" stroke="#14501f" stroke-width="1.1"/>
<line x1="203.57" y1="773.05" x2="203.57" y2="771.09" stroke="#14501f" stroke-width="1.1"/>
<line x1="201.37" y1="771.09" x2="205.77" y2="771.09" stroke="#14501f" stroke-width="1.1"/>
<line x1="212.21" y1="767.17" x2="212.21" y2="765.20" stroke="#14501f" stroke-width="1.1"/>
<line x1="210.01" y1="765.20" x2="214.41" y2="765.20" stroke="#14501f" stroke-width="1.1"/>
<line x1="220.85" y1="761.67" x2="220.85" y2="759.71" stroke="#14501f" stroke-width="1.1"/>
<line x1="218.65" y1="759.71" x2="223.05" y2="759.71" stroke="#14501f" stroke-width="1.1"/>
<line x1="229.48" y1="755.39" x2="229.48" y2="753.42" stroke="#14501f" stroke-width="1.1"/>
<line x1="227.28" y1="753.42" x2="231.68" y2="753.42" stroke="#14501f" stroke-width="1.1"/>
<line x1="238.12" y1="749.89" x2="238.12" y2="748.32" stroke="#14501f" stroke-width="1.1"/>
<line x1="235.92" y1="748.32" x2="240.32" y2="748.32" stroke="#14501f" stroke-width="1.1"/>
<line x1="246.76" y1="744.98" x2="246.76" y2="743.41" stroke="#14501f" stroke-width="1.1"/>
<line x1="244.56" y1="743.41" x2="248.96" y2="743.41" stroke="#14501f" stroke-width="1.1"/>
<line x1="255.40" y1="740.66" x2="255.40" y2="739.09" stroke="#14501f" stroke-width="1.1"/>
<line x1="253.20" y1="739.09" x2="257.60" y2="739.09" stroke="#14501f" stroke-width="1.1"/>
<line x1="264.04" y1="736.15" x2="264.04" y2="734.58" stroke="#14501f" stroke-width="1.1"/>
<line x1="261.84" y1="734.58" x2="266.24" y2="734.58" stroke="#14501f" stroke-width="1.1"/>
<line x1="272.67" y1="731.83" x2="272.67" y2="730.26" stroke="#14501f" stroke-width="1.1"/>
<line x1="270.47" y1="730.26" x2="274.87" y2="730.26" stroke="#14501f" stroke-width="1.1"/>
<line x1="281.31" y1="727.91" x2="281.31" y2="726.34" stroke="#14501f" stroke-width="1.1"/>
<line x1="279.11" y1="726.34" x2="283.51" y2="726.34" stroke="#14501f" stroke-width="1.1"/>
<path d="M74.00 829.00 L82.64 829.00 L91.28 828.41 L99.91 825.07 L108.55 822.13 L117.19 819.18 L125.83 817.22 L134.47 814.67 L143.10 812.31 L151.74 809.96 L160.38 805.44 L169.02 799.55 L177.66 793.67 L186.29 785.81 L194.93 779.34 L203.57 773.05 L212.21 767.17 L220.85 761.67 L229.48 755.39 L238.12 749.89 L246.76 744.98 L255.40 740.66 L264.04 736.15 L272.67 731.83 L281.31 727.91" stroke="#14501f" stroke-width="1.8" fill="none" stroke-linejoin="round"/>
<path d="M74.00 826.12 L76.50 830.88 L71.50 830.88 Z" fill="#14501f"/>
<path d="M82.64 826.12 L85.14 830.88 L80.14 830.88 Z" fill="#14501f"/>
<path d="M91.28 825.54 L93.78 830.29 L88.78 830.29 Z" fill="#14501f"/>
<path d="M99.91 822.20 L102.41 826.95 L97.41 826.95 Z" fill="#14501f"/>
<path d="M108.55 819.25 L111.05 824.00 L106.05 824.00 Z" fill="#14501f"/>
<path d="M117.19 816.31 L119.69 821.06 L114.69 821.06 Z" fill="#14501f"/>
<path d="M125.83 814.35 L128.33 819.10 L123.33 819.10 Z" fill="#14501f"/>
<path d="M134.47 811.80 L136.97 816.55 L131.97 816.55 Z" fill="#14501f"/>
<path d="M143.10 809.44 L145.60 814.19 L140.60 814.19 Z" fill="#14501f"/>
<path d="M151.74 807.08 L154.24 811.83 L149.24 811.83 Z" fill="#14501f"/>
<path d="M160.38 802.57 L162.88 807.32 L157.88 807.32 Z" fill="#14501f"/>
<path d="M169.02 796.68 L171.52 801.43 L166.52 801.43 Z" fill="#14501f"/>
<path d="M177.66 790.79 L180.16 795.54 L175.16 795.54 Z" fill="#14501f"/>
<path d="M186.29 782.94 L188.79 787.69 L183.79 787.69 Z" fill="#14501f"/>
<path d="M194.93 776.46 L197.43 781.21 L192.43 781.21 Z" fill="#14501f"/>
<path d="M203.57 770.18 L206.07 774.93 L201.07 774.93 Z" fill="#14501f"/>
<path d="M212.21 764.29 L214.71 769.04 L209.71 769.04 Z" fill="#14501f"/>
<path d="M220.85 758.79 L223.35 763.54 L218.35 763.54 Z" fill="#14501f"/>
<path d="M229.48 752.51 L231.98 757.26 L226.98 757.26 Z" fill="#14501f"/>
<path d="M238.12 747.02 L240.62 751.77 L235.62 751.77 Z" fill="#14501f"/>
<path d="M246.76 742.11 L249.26 746.86 L244.26 746.86 Z" fill="#14501f"/>
<path d="M255.40 737.79 L257.90 742.54 L252.90 742.54 Z" fill="#14501f"/>
<path d="M264.04 733.28 L266.54 738.03 L261.54 738.03 Z" fill="#14501f"/>
<path d="M272.67 728.96 L275.17 733.71 L270.17 733.71 Z" fill="#14501f"/>
<path d="M281.31 725.03 L283.81 729.78 L278.81 729.78 Z" fill="#14501f"/>
<line x1="91.28" y1="829.00" x2="91.28" y2="828.61" stroke="#e83a26" stroke-width="1.1"/>
<line x1="89.08" y1="828.61" x2="93.48" y2="828.61" stroke="#e83a26" stroke-width="1.1"/>
<line x1="99.91" y1="827.63" x2="99.91" y2="826.45" stroke="#e83a26" stroke-width="1.1"/>
<line x1="97.71" y1="826.45" x2="102.11" y2="826.45" stroke="#e83a26" stroke-width="1.1"/>
<line x1="108.55" y1="826.06" x2="108.55" y2="824.09" stroke="#e83a26" stroke-width="1.1"/>
<line x1="106.35" y1="824.09" x2="110.75" y2="824.09" stroke="#e83a26" stroke-width="1.1"/>
<line x1="117.19" y1="825.66" x2="117.19" y2="823.11" stroke="#e83a26" stroke-width="1.1"/>
<line x1="114.99" y1="823.11" x2="119.39" y2="823.11" stroke="#e83a26" stroke-width="1.1"/>
<line x1="125.83" y1="825.47" x2="125.83" y2="822.52" stroke="#e83a26" stroke-width="1.1"/>
<line x1="123.63" y1="822.52" x2="128.03" y2="822.52" stroke="#e83a26" stroke-width="1.1"/>
<line x1="134.47" y1="825.47" x2="134.47" y2="822.52" stroke="#e83a26" stroke-width="1.1"/>
<line x1="132.27" y1="822.52" x2="136.67" y2="822.52" stroke="#e83a26" stroke-width="1.1"/>
<line x1="143.10" y1="825.47" x2="143.10" y2="822.52" stroke="#e83a26" stroke-width="1.1"/>
<line x1="140.90" y1="822.52" x2="145.30" y2="822.52" stroke="#e83a26" stroke-width="1.1"/>
<line x1="151.74" y1="825.07" x2="151.74" y2="822.13" stroke="#e83a26" stroke-width="1.1"/>
<line x1="149.54" y1="822.13" x2="153.94" y2="822.13" stroke="#e83a26" stroke-width="1.1"/>
<line x1="160.38" y1="823.50" x2="160.38" y2="820.36" stroke="#e83a26" stroke-width="1.1"/>
<line x1="158.18" y1="820.36" x2="162.58" y2="820.36" stroke="#e83a26" stroke-width="1.1"/>
<line x1="169.02" y1="821.15" x2="169.02" y2="817.61" stroke="#e83a26" stroke-width="1.1"/>
<line x1="166.82" y1="817.61" x2="171.22" y2="817.61" stroke="#e83a26" stroke-width="1.1"/>
<line x1="177.66" y1="818.60" x2="177.66" y2="814.28" stroke="#e83a26" stroke-width="1.1"/>
<line x1="175.46" y1="814.28" x2="179.86" y2="814.28" stroke="#e83a26" stroke-width="1.1"/>
<line x1="186.29" y1="814.67" x2="186.29" y2="809.57" stroke="#e83a26" stroke-width="1.1"/>
<line x1="184.09" y1="809.57" x2="188.49" y2="809.57" stroke="#e83a26" stroke-width="1.1"/>
<line x1="194.93" y1="810.35" x2="194.93" y2="804.86" stroke="#e83a26" stroke-width="1.1"/>
<line x1="192.73" y1="804.86" x2="197.13" y2="804.86" stroke="#e83a26" stroke-width="1.1"/>
<line x1="203.57" y1="806.03" x2="203.57" y2="800.14" stroke="#e83a26" stroke-width="1.1"/>
<line x1="201.37" y1="800.14" x2="205.77" y2="800.14" stroke="#e83a26" stroke-width="1.1"/>
<line x1="212.21" y1="801.52" x2="212.21" y2="795.24" stroke="#e83a26" stroke-width="1.1"/>
<line x1="210.01" y1="795.24" x2="214.41" y2="795.24" stroke="#e83a26" stroke-width="1.1"/>
<line x1="220.85" y1="797.00" x2="220.85" y2="790.33" stroke="#e83a26" stroke-width="1.1"/>
<line x1="218.65" y1="790.33" x2="223.05" y2="790.33" stroke="#e83a26" stroke-width="1.1"/>
<line x1="229.48" y1="792.68" x2="229.48" y2="785.81" stroke="#e83a26" stroke-width="1.1"/>
<line x1="227.28" y1="785.81" x2="231.68" y2="785.81" stroke="#e83a26" stroke-width="1.1"/>
<line x1="238.12" y1="787.78" x2="238.12" y2="780.91" stroke="#e83a26" stroke-width="1.1"/>
<line x1="235.92" y1="780.91" x2="240.32" y2="780.91" stroke="#e83a26" stroke-width="1.1"/>
<line x1="246.76" y1="783.85" x2="246.76" y2="776.98" stroke="#e83a26" stroke-width="1.1"/>
<line x1="244.56" y1="776.98" x2="248.96" y2="776.98" stroke="#e83a26" stroke-width="1.1"/>
<line x1="255.40" y1="778.94" x2="255.40" y2="772.07" stroke="#e83a26" stroke-width="1.1"/>
<line x1="253.20" y1="772.07" x2="257.60" y2="772.07" stroke="#e83a26" stroke-width="1.1"/>
<line x1="264.04" y1="775.02" x2="264.04" y2="768.15" stroke="#e83a26" stroke-width="1.1"/>
<line x1="261.84" y1="768.15" x2="266.24" y2="768.15" stroke="#e83a26" stroke-width="1.1"/>
<line x1="272.67" y1="771.09" x2="272.67" y2="764.22" stroke="#e83a26" stroke-width="1.1"/>
<line x1="270.47" y1="764.22" x2="274.87" y2="764.22" stroke="#e83a26" stroke-width="1.1"/>
<line x1="281.31" y1="767.56" x2="281.31" y2="760.10" stroke="#e83a26" stroke-width="1.1"/>
<line x1="279.11" y1="760.10" x2="283.51" y2="760.10" stroke="#e83a26" stroke-width="1.1"/>
<path d="M74.00 829.00 L82.64 829.00 L91.28 829.00 L99.91 827.63 L108.55 826.06 L117.19 825.66 L125.83 825.47 L134.47 825.47 L143.10 825.47 L151.74 825.07 L160.38 823.50 L169.02 821.15 L177.66 818.60 L186.29 814.67 L194.93 810.35 L203.57 806.03 L212.21 801.52 L220.85 797.00 L229.48 792.68 L238.12 787.78 L246.76 783.85 L255.40 778.94 L264.04 775.02 L272.67 771.09 L281.31 767.56" stroke="#e83a26" stroke-width="1.8" fill="none" stroke-linejoin="round"/>
<path d="M74.00 826.12 L76.50 830.88 L71.50 830.88 Z" fill="#e83a26"/>
<path d="M82.64 826.12 L85.14 830.88 L80.14 830.88 Z" fill="#e83a26"/>
<path d="M91.28 826.12 L93.78 830.88 L88.78 830.88 Z" fill="#e83a26"/>
<path d="M99.91 824.75 L102.41 829.50 L97.41 829.50 Z" fill="#e83a26"/>
<path d="M108.55 823.18 L111.05 827.93 L106.05 827.93 Z" fill="#e83a26"/>
<path d="M117.19 822.79 L119.69 827.54 L114.69 827.54 Z" fill="#e83a26"/>
<path d="M125.83 822.59 L128.33 827.34 L123.33 827.34 Z" fill="#e83a26"/>
<path d="M134.47 822.59 L136.97 827.34 L131.97 827.34 Z" fill="#e83a26"/>
<path d="M143.10 822.59 L145.60 827.34 L140.60 827.34 Z" fill="#e83a26"/>
<path d="M151.74 822.20 L154.24 826.95 L149.24 826.95 Z" fill="#e83a26"/>
<path d="M160.38 820.63 L162.88 825.38 L157.88 825.38 Z" fill="#e83a26"/>
<path d="M169.02 818.27 L171.52 823.02 L166.52 823.02 Z" fill="#e83a26"/>
<path d="M177.66 815.72 L180.16 820.47 L175.16 820.47 Z" fill="#e83a26"/>
<path d="M186.29 811.80 L188.79 816.55 L183.79 816.55 Z" fill="#e83a26"/>
<path d="M194.93 807.48 L197.43 812.23 L192.43 812.23 Z" fill="#e83a26"/>
<path d="M203.57 803.16 L206.07 807.91 L201.07 807.91 Z" fill="#e83a26"/>
<path d="M212.21 798.64 L214.71 803.39 L209.71 803.39 Z" fill="#e83a26"/>
<path d="M220.85 794.13 L223.35 798.88 L218.35 798.88 Z" fill="#e83a26"/>
<path d="M229.48 789.81 L231.98 794.56 L226.98 794.56 Z" fill="#e83a26"/>
<path d="M238.12 784.90 L240.62 789.65 L235.62 789.65 Z" fill="#e83a26"/>
<path d="M246.76 780.98 L249.26 785.73 L244.26 785.73 Z" fill="#e83a26"/>
<path d="M255.40 776.07 L257.90 780.82 L252.90 780.82 Z" fill="#e83a26"/>
<path d="M264.04 772.14 L266.54 776.89 L261.54 776.89 Z" fill="#e83a26"/>
<path d="M272.67 768.22 L275.17 772.97 L270.17 772.97 Z" fill="#e83a26"/>
<path d="M281.31 764.68 L283.81 769.43 L278.81 769.43 Z" fill="#e83a26"/>
<path d="M284.4 633.3 H290.8 V704.2 H284.4" stroke="#111" stroke-width="1.1" fill="none"/>
<path d="M284.4 708.3 H290.8 V727.2 H284.4" stroke="#111" stroke-width="1.1" fill="none"/>
<path d="M304.7 707.8 H309.7 V766.7 H304.7" stroke="#111" stroke-width="1.1" fill="none"/>
<text x="291.70" y="660.30" font-size="13.5" text-anchor="middle" font-weight="bold" fill="#111" transform="rotate(90 291.70 660.30)" letter-spacing="1.5">***</text>
<text x="291.70" y="714.80" font-size="13.5" text-anchor="middle" font-weight="bold" fill="#111" transform="rotate(90 291.70 714.80)" letter-spacing="1.5">**</text>
<text x="309.20" y="727.80" font-size="13.5" text-anchor="middle" font-weight="bold" fill="#111" transform="rotate(90 309.20 727.80)" letter-spacing="1.5">***</text>
<line x1="298.60" y1="784.40" x2="312.40" y2="784.40" stroke="#2e1f8e" stroke-width="1.8"/>
<circle cx="305.50" cy="784.40" r="2.20" fill="#2e1f8e"/>
<text x="321.40" y="788.30" font-size="11.5" text-anchor="start" font-weight="bold" fill="#1c1c1c">siCTR</text>
<line x1="298.60" y1="795.80" x2="312.40" y2="795.80" stroke="#14501f" stroke-width="1.8"/>
<circle cx="305.50" cy="795.80" r="2.20" fill="#14501f"/>
<text x="321.40" y="799.70" font-size="11.5" text-anchor="start" font-weight="bold" fill="#1c1c1c">siCTR+NMe2</text>
<line x1="298.60" y1="808.90" x2="312.40" y2="808.90" stroke="#e83a26" stroke-width="1.8"/>
<circle cx="305.50" cy="808.90" r="2.20" fill="#e83a26"/>
<text x="321.40" y="812.80" font-size="11.5" text-anchor="start" font-weight="bold" fill="#1c1c1c">siCTR+QN-302</text>
<line x1="298.60" y1="833.30" x2="312.40" y2="833.30" stroke="#2e1f8e" stroke-width="1.8"/>
<path d="M305.50 830.42 L308.00 835.17 L303.00 835.17 Z" fill="#2e1f8e"/>
<text x="321.40" y="837.20" font-size="11.5" text-anchor="start" font-weight="bold" fill="#1c1c1c">siBLM</text>
<line x1="298.60" y1="844.40" x2="312.40" y2="844.40" stroke="#14501f" stroke-width="1.8"/>
<path d="M305.50 841.52 L308.00 846.27 L303.00 846.27 Z" fill="#14501f"/>
<text x="321.40" y="848.30" font-size="11.5" text-anchor="start" font-weight="bold" fill="#1c1c1c">siBLM+NMe2</text>
<line x1="298.60" y1="856.70" x2="312.40" y2="856.70" stroke="#e83a26" stroke-width="1.8"/>
<path d="M305.50 853.83 L308.00 858.58 L303.00 858.58 Z" fill="#e83a26"/>
<text x="321.40" y="860.60" font-size="11.5" text-anchor="start" font-weight="bold" fill="#1c1c1c">siBLM+QN-302</text>
<text x="466.00" y="625.40" font-size="8.8" text-anchor="start" font-weight="bold" fill="#111" transform="rotate(-90 466.00 625.40)">siCTR</text>
<text x="493.80" y="625.40" font-size="8.8" text-anchor="start" font-weight="bold" fill="#111" transform="rotate(-90 493.80 625.40)">siBLM</text>
<text x="521.40" y="625.40" font-size="8.8" text-anchor="start" font-weight="bold" fill="#111" transform="rotate(-90 521.40 625.40)">siCTR</text>
<text x="549.10" y="625.40" font-size="8.8" text-anchor="start" font-weight="bold" fill="#111" transform="rotate(-90 549.10 625.40)">siBLM</text>
<text x="450.30" y="636.60" font-size="8.6" text-anchor="end" font-weight="bold" fill="#111">BLM</text>
<text x="450.30" y="651.60" font-size="9.0" text-anchor="end" font-weight="bold" fill="#111">β-actin</text>
<clipPath id="cF0"><rect x="452.30" y="626.70" width="51.70" height="12.90"/></clipPath>
<rect x="452.30" y="626.70" width="51.70" height="12.90" fill="#bcbcbc" stroke="none" stroke-width="1"/>
<g clip-path="url(#cF0)">
<g filter="url(#bl0)">
<rect x="454.55" y="632.35" width="17.50" height="1.70" rx="0.85" fill="#0a0a0a" opacity="0.85"/>
<rect x="454.00" y="633.05" width="10.00" height="3.50" rx="1.75" fill="#0a0a0a" opacity="0.2"/>
<rect x="473.50" y="636.75" width="9.00" height="2.50" rx="1.25" fill="#0a0a0a" opacity="0.18"/>
</g></g>
<clipPath id="cF1"><rect x="508.90" y="626.70" width="51.10" height="12.90"/></clipPath>
<rect x="508.90" y="626.70" width="51.10" height="12.90" fill="#c0c0c0" stroke="none" stroke-width="1"/>
<g clip-path="url(#cF1)">
<g filter="url(#bl0)">
<rect x="512.05" y="631.55" width="12.50" height="1.50" rx="0.75" fill="#0a0a0a" opacity="0.78"/>
<rect x="524.00" y="632.00" width="6.00" height="1.00" rx="0.50" fill="#0a0a0a" opacity="0.22"/>
</g></g>
<clipPath id="cF2"><rect x="452.30" y="642.30" width="51.70" height="12.60"/></clipPath>
<rect x="452.30" y="642.30" width="51.70" height="12.60" fill="#bebebe" stroke="none" stroke-width="1"/>
<g clip-path="url(#cF2)">
<g filter="url(#bl0)">
<rect x="454.75" y="648.10" width="22.50" height="3.60" rx="1.80" fill="#0a0a0a" opacity="1"/>
<rect x="482.55" y="647.65" width="21.50" height="2.70" rx="1.35" fill="#0a0a0a" opacity="1"/>
</g></g>
<clipPath id="cF3"><rect x="508.90" y="642.30" width="51.10" height="12.60"/></clipPath>
<rect x="508.90" y="642.30" width="51.10" height="12.60" fill="#bebebe" stroke="none" stroke-width="1"/>
<g clip-path="url(#cF3)">
<g filter="url(#bl0)">
<rect x="509.75" y="647.40" width="22.50" height="3.00" rx="1.50" fill="#0a0a0a" opacity="1"/>
<rect x="537.25" y="646.50" width="22.50" height="3.60" rx="1.80" fill="#0a0a0a" opacity="1"/>
</g></g>
<path d="M458.3 657.2 V659.2 Q458.3 660 459.1 660 H493.9 Q494.7 660 494.7 659.2 V657.2" stroke="#222" stroke-width="1.0" fill="none"/>
<path d="M518.3 657.2 V659.2 Q518.3 660 519.1 660 H554.1 Q554.9 660 554.9 659.2 V657.2" stroke="#222" stroke-width="1.0" fill="none"/>
<text x="476.30" y="670.00" font-size="8.8" text-anchor="middle" font-weight="bold" fill="#111">day 2</text>
<text x="476.80" y="680.70" font-size="8.8" text-anchor="middle" font-weight="bold" fill="#111">(48 h)</text>
<text x="532.90" y="670.00" font-size="8.8" text-anchor="middle" font-weight="bold" fill="#111">day 4</text>
<text x="533.40" y="680.70" font-size="8.8" text-anchor="middle" font-weight="bold" fill="#111">(96 h)</text>
<rect x="461.65" y="734.92" width="23.40" height="131.38" fill="#eeeeee"/>
<path d="M461.65 866.30 V734.92 H485.05 V866.30" fill="none" stroke="#2f1f8a" stroke-width="1.3"/>
<line x1="473.35" y1="717.64" x2="473.35" y2="750.90" stroke="#2f1f8a" stroke-width="1.1"/>
<line x1="467.35" y1="717.64" x2="479.35" y2="717.64" stroke="#2f1f8a" stroke-width="1.1"/>
<line x1="467.35" y1="750.90" x2="479.35" y2="750.90" stroke="#2f1f8a" stroke-width="1.1"/>
<circle cx="473.35" cy="716.34" r="1.70" fill="#2f1f8a"/>
<circle cx="473.35" cy="737.20" r="1.70" fill="#2f1f8a"/>
<circle cx="473.35" cy="749.59" r="1.70" fill="#2f1f8a"/>
<rect x="499.35" y="866.04" width="23.40" height="0.26" fill="#eeeeee"/>
<path d="M499.35 866.30 V866.04 H522.75 V866.30" fill="none" stroke="#2f1f8a" stroke-width="1.3"/>
<circle cx="505.05" cy="866.00" r="1.70" fill="#2f1f8a"/>
<circle cx="511.05" cy="866.00" r="1.70" fill="#2f1f8a"/>
<circle cx="517.05" cy="866.00" r="1.70" fill="#2f1f8a"/>
<rect x="536.95" y="777.95" width="23.40" height="88.35" fill="#eeeeee"/>
<path d="M536.95 866.30 V777.95 H560.35 V866.30" fill="none" stroke="#2f1f8a" stroke-width="1.3"/>
<line x1="548.65" y1="769.80" x2="548.65" y2="784.80" stroke="#2f1f8a" stroke-width="1.1"/>
<line x1="542.65" y1="769.80" x2="554.65" y2="769.80" stroke="#2f1f8a" stroke-width="1.1"/>
<line x1="542.65" y1="784.80" x2="554.65" y2="784.80" stroke="#2f1f8a" stroke-width="1.1"/>
<circle cx="548.65" cy="768.50" r="1.70" fill="#2f1f8a"/>
<circle cx="548.65" cy="779.58" r="1.70" fill="#2f1f8a"/>
<circle cx="548.65" cy="782.84" r="1.70" fill="#2f1f8a"/>
<rect x="574.65" y="866.04" width="23.40" height="0.26" fill="#eeeeee"/>
<path d="M574.65 866.30 V866.04 H598.05 V866.30" fill="none" stroke="#2f1f8a" stroke-width="1.3"/>
<circle cx="580.35" cy="866.00" r="1.70" fill="#2f1f8a"/>
<circle cx="586.35" cy="866.00" r="1.70" fill="#2f1f8a"/>
<circle cx="592.35" cy="866.00" r="1.70" fill="#2f1f8a"/>
<line x1="448.30" y1="702.20" x2="448.30" y2="866.80" stroke="#000" stroke-width="1.1"/>
<line x1="444.30" y1="866.30" x2="448.30" y2="866.30" stroke="#000" stroke-width="1.1"/>
<text x="442.80" y="869.25" font-size="8.2" text-anchor="end" font-weight="bold" fill="#111">0.0</text>
<line x1="444.30" y1="833.70" x2="448.30" y2="833.70" stroke="#000" stroke-width="1.1"/>
<text x="442.80" y="836.65" font-size="8.2" text-anchor="end" font-weight="bold" fill="#111">0.5</text>
<line x1="444.30" y1="801.10" x2="448.30" y2="801.10" stroke="#000" stroke-width="1.1"/>
<text x="442.80" y="804.05" font-size="8.2" text-anchor="end" font-weight="bold" fill="#111">1.0</text>
<line x1="444.30" y1="768.50" x2="448.30" y2="768.50" stroke="#000" stroke-width="1.1"/>
<text x="442.80" y="771.45" font-size="8.2" text-anchor="end" font-weight="bold" fill="#111">1.5</text>
<line x1="444.30" y1="735.90" x2="448.30" y2="735.90" stroke="#000" stroke-width="1.1"/>
<text x="442.80" y="738.85" font-size="8.2" text-anchor="end" font-weight="bold" fill="#111">2.0</text>
<line x1="444.30" y1="703.30" x2="448.30" y2="703.30" stroke="#000" stroke-width="1.1"/>
<text x="442.80" y="706.25" font-size="8.2" text-anchor="end" font-weight="bold" fill="#111">2.5</text>
<line x1="447.80" y1="866.30" x2="611.70" y2="866.30" stroke="#000" stroke-width="1.3"/>
<line x1="499.70" y1="865.90" x2="522.40" y2="865.90" stroke="#2f1f8a" stroke-width="1.0"/>
<circle cx="505.05" cy="866.00" r="1.70" fill="#2f1f8a"/>
<circle cx="511.05" cy="866.00" r="1.70" fill="#2f1f8a"/>
<circle cx="517.05" cy="866.00" r="1.70" fill="#2f1f8a"/>
<line x1="575.00" y1="865.90" x2="597.70" y2="865.90" stroke="#2f1f8a" stroke-width="1.0"/>
<circle cx="580.35" cy="866.00" r="1.70" fill="#2f1f8a"/>
<circle cx="586.35" cy="866.00" r="1.70" fill="#2f1f8a"/>
<circle cx="592.35" cy="866.00" r="1.70" fill="#2f1f8a"/>
<text x="427.00" y="785.00" font-size="8.5" text-anchor="middle" font-weight="bold" fill="#111" transform="rotate(-90 427.00 785.00)">Relative protein amounts</text>
<text x="476.95" y="879.00" font-size="9.9" text-anchor="end" font-weight="bold" fill="#111" transform="rotate(-45 476.95 879.00)">siCTR</text>
<text x="514.60" y="879.00" font-size="9.9" text-anchor="end" font-weight="bold" fill="#111" transform="rotate(-45 514.60 879.00)">siBLM</text>
<text x="552.25" y="879.00" font-size="9.9" text-anchor="end" font-weight="bold" fill="#111" transform="rotate(-45 552.25 879.00)">siCTR</text>
<text x="589.95" y="879.00" font-size="9.9" text-anchor="end" font-weight="bold" fill="#111" transform="rotate(-45 589.95 879.00)">siBLM</text>
<text x="642.80" y="646.60" font-size="21" text-anchor="middle" font-weight="bold" fill="#111">G</text>
<rect x="689.40" y="776.28" width="39.90" height="90.62" fill="#eeeeee"/>
<path d="M689.40 866.90 V776.28 H729.30 V866.90" fill="none" stroke="#2f1f8a" stroke-width="1.4"/>
<line x1="709.35" y1="765.62" x2="709.35" y2="785.54" stroke="#2f1f8a" stroke-width="1.1"/>
<line x1="699.35" y1="765.62" x2="719.35" y2="765.62" stroke="#2f1f8a" stroke-width="1.1"/>
<line x1="699.35" y1="785.54" x2="719.35" y2="785.54" stroke="#2f1f8a" stroke-width="1.1"/>
<circle cx="705.35" cy="767.31" r="1.70" fill="#2f1f8a"/>
<circle cx="705.35" cy="784.22" r="1.70" fill="#2f1f8a"/>
<circle cx="712.85" cy="765.43" r="1.70" fill="#2f1f8a"/>
<circle cx="712.85" cy="782.35" r="1.70" fill="#2f1f8a"/>
<rect x="752.10" y="847.87" width="39.90" height="19.03" fill="#eeeeee"/>
<path d="M752.10 866.90 V847.87 H792.00 V866.90" fill="none" stroke="#2f1f8a" stroke-width="1.4"/>
<line x1="772.05" y1="841.35" x2="772.05" y2="853.00" stroke="#2f1f8a" stroke-width="1.1"/>
<line x1="762.05" y1="841.35" x2="782.05" y2="841.35" stroke="#2f1f8a" stroke-width="1.1"/>
<line x1="762.05" y1="853.00" x2="782.05" y2="853.00" stroke="#2f1f8a" stroke-width="1.1"/>
<circle cx="772.05" cy="843.41" r="1.70" fill="#2f1f8a"/>
<circle cx="772.05" cy="853.75" r="1.70" fill="#2f1f8a"/>
<circle cx="772.05" cy="840.59" r="1.70" fill="#2f1f8a"/>
<circle cx="772.05" cy="848.11" r="1.70" fill="#2f1f8a"/>
<rect x="814.80" y="725.74" width="39.90" height="141.16" fill="#eeeeee"/>
<path d="M814.80 866.90 V725.74 H854.70 V866.90" fill="none" stroke="#2f1f8a" stroke-width="1.4"/>
<line x1="834.75" y1="719.77" x2="834.75" y2="730.30" stroke="#2f1f8a" stroke-width="1.1"/>
<line x1="824.75" y1="719.77" x2="844.75" y2="719.77" stroke="#2f1f8a" stroke-width="1.1"/>
<line x1="824.75" y1="730.30" x2="844.75" y2="730.30" stroke="#2f1f8a" stroke-width="1.1"/>
<circle cx="827.25" cy="721.28" r="1.70" fill="#2f1f8a"/>
<circle cx="834.75" cy="731.61" r="1.70" fill="#2f1f8a"/>
<circle cx="842.25" cy="723.16" r="1.70" fill="#2f1f8a"/>
<circle cx="834.75" cy="723.72" r="1.70" fill="#2f1f8a"/>
<line x1="677.80" y1="678.50" x2="677.80" y2="867.40" stroke="#000" stroke-width="1.5"/>
<line x1="673.80" y1="866.90" x2="677.80" y2="866.90" stroke="#000" stroke-width="1.5"/>
<text x="672.30" y="870.07" font-size="8.8" text-anchor="end" font-weight="bold" fill="#111">0.0</text>
<line x1="673.80" y1="829.32" x2="677.80" y2="829.32" stroke="#000" stroke-width="1.5"/>
<text x="672.30" y="832.49" font-size="8.8" text-anchor="end" font-weight="bold" fill="#111">0.2</text>
<line x1="673.80" y1="791.74" x2="677.80" y2="791.74" stroke="#000" stroke-width="1.5"/>
<text x="672.30" y="794.91" font-size="8.8" text-anchor="end" font-weight="bold" fill="#111">0.4</text>
<line x1="673.80" y1="754.16" x2="677.80" y2="754.16" stroke="#000" stroke-width="1.5"/>
<text x="672.30" y="757.33" font-size="8.8" text-anchor="end" font-weight="bold" fill="#111">0.6</text>
<line x1="673.80" y1="716.58" x2="677.80" y2="716.58" stroke="#000" stroke-width="1.5"/>
<text x="672.30" y="719.75" font-size="8.8" text-anchor="end" font-weight="bold" fill="#111">0.8</text>
<line x1="673.80" y1="679.00" x2="677.80" y2="679.00" stroke="#000" stroke-width="1.5"/>
<text x="672.30" y="682.17" font-size="8.8" text-anchor="end" font-weight="bold" fill="#111">1.0</text>
<line x1="677.30" y1="866.90" x2="867.00" y2="866.90" stroke="#000" stroke-width="1.4"/>
<text x="653.50" y="767.00" font-size="10.0" text-anchor="middle" font-weight="bold" fill="#111" transform="rotate(-90 653.50 767.00)">Fraction affected (Fa)</text>
<path d="M709.2 712.5 V705.9 H835.2 V712.5" stroke="#111" stroke-width="1.1" fill="none"/>
<text x="771.70" y="704.60" font-size="14.5" text-anchor="middle" font-weight="bold" fill="#111">*</text>
<line x1="704.50" y1="875.60" x2="711.50" y2="875.60" stroke="#111" stroke-width="1.6"/>
<line x1="708.00" y1="872.10" x2="708.00" y2="879.10" stroke="#111" stroke-width="1.6"/>
<line x1="704.50" y1="895.00" x2="711.50" y2="895.00" stroke="#111" stroke-width="1.6"/>
<line x1="769.10" y1="877.20" x2="776.10" y2="877.20" stroke="#111" stroke-width="1.6"/>
<line x1="769.10" y1="894.80" x2="776.10" y2="894.80" stroke="#111" stroke-width="1.6"/>
<line x1="772.60" y1="891.30" x2="772.60" y2="898.30" stroke="#111" stroke-width="1.6"/>
<line x1="831.20" y1="875.60" x2="838.20" y2="875.60" stroke="#111" stroke-width="1.6"/>
<line x1="834.70" y1="872.10" x2="834.70" y2="879.10" stroke="#111" stroke-width="1.6"/>
<line x1="831.20" y1="894.80" x2="838.20" y2="894.80" stroke="#111" stroke-width="1.6"/>
<line x1="834.70" y1="891.30" x2="834.70" y2="898.30" stroke="#111" stroke-width="1.6"/>
<text x="856.50" y="880.70" font-size="11.3" text-anchor="start" font-weight="bold" fill="#111">NMe2 [0.25 μM]</text>
<text x="856.50" y="895.00" font-size="11.3" text-anchor="start" font-weight="bold" fill="#111">ML216 [30 μM]</text>
<text x="924.00" y="646.60" font-size="21" text-anchor="middle" font-weight="bold" fill="#111">H</text>
<line x1="960.20" y1="750.65" x2="1131.50" y2="750.65" stroke="#222" stroke-width="1.4" stroke-dasharray="1.5 3.4"/>
<path d="M1011.49 759.54 L1046.35 773.40 L1089.93 779.67 L1116.07 782.63" stroke="#1d6b30" stroke-width="1.0" fill="none"/>
<line x1="1011.49" y1="752.39" x2="1011.49" y2="766.34" stroke="#1d6b30" stroke-width="1.1"/>
<line x1="1008.89" y1="752.39" x2="1014.09" y2="752.39" stroke="#1d6b30" stroke-width="1.1"/>
<line x1="1008.89" y1="766.34" x2="1014.09" y2="766.34" stroke="#1d6b30" stroke-width="1.1"/>
<circle cx="1011.49" cy="759.54" r="2.30" fill="#134d22"/>
<line x1="1046.35" y1="766.69" x2="1046.35" y2="780.02" stroke="#1d6b30" stroke-width="1.1"/>
<line x1="1043.75" y1="766.69" x2="1048.95" y2="766.69" stroke="#1d6b30" stroke-width="1.1"/>
<line x1="1043.75" y1="780.02" x2="1048.95" y2="780.02" stroke="#1d6b30" stroke-width="1.1"/>
<circle cx="1046.35" cy="773.40" r="2.30" fill="#134d22"/>
<line x1="1089.93" y1="771.91" x2="1089.93" y2="787.25" stroke="#1d6b30" stroke-width="1.1"/>
<line x1="1087.33" y1="771.91" x2="1092.53" y2="771.91" stroke="#1d6b30" stroke-width="1.1"/>
<line x1="1087.33" y1="787.25" x2="1092.53" y2="787.25" stroke="#1d6b30" stroke-width="1.1"/>
<circle cx="1089.93" cy="779.67" r="2.30" fill="#134d22"/>
<line x1="1116.07" y1="772.18" x2="1116.07" y2="793.35" stroke="#1d6b30" stroke-width="1.1"/>
<line x1="1113.47" y1="772.18" x2="1118.67" y2="772.18" stroke="#1d6b30" stroke-width="1.1"/>
<line x1="1113.47" y1="793.35" x2="1118.67" y2="793.35" stroke="#1d6b30" stroke-width="1.1"/>
<circle cx="1116.07" cy="782.63" r="2.30" fill="#134d22"/>
<line x1="959.20" y1="663.00" x2="959.20" y2="838.30" stroke="#000" stroke-width="1.3"/>
<line x1="955.20" y1="837.80" x2="959.20" y2="837.80" stroke="#000" stroke-width="1.3"/>
<text x="953.70" y="841.04" font-size="9.0" text-anchor="end" font-weight="bold" fill="#111">0.0</text>
<line x1="955.20" y1="794.22" x2="959.20" y2="794.22" stroke="#000" stroke-width="1.3"/>
<text x="953.70" y="797.46" font-size="9.0" text-anchor="end" font-weight="bold" fill="#111">0.5</text>
<line x1="955.20" y1="750.65" x2="959.20" y2="750.65" stroke="#000" stroke-width="1.3"/>
<text x="953.70" y="753.89" font-size="9.0" text-anchor="end" font-weight="bold" fill="#111">1.0</text>
<line x1="955.20" y1="707.07" x2="959.20" y2="707.07" stroke="#000" stroke-width="1.3"/>
<text x="953.70" y="710.31" font-size="9.0" text-anchor="end" font-weight="bold" fill="#111">1.5</text>
<line x1="955.20" y1="663.50" x2="959.20" y2="663.50" stroke="#000" stroke-width="1.3"/>
<text x="953.70" y="666.74" font-size="9.0" text-anchor="end" font-weight="bold" fill="#111">2.0</text>
<line x1="958.70" y1="837.80" x2="1134.00" y2="837.80" stroke="#000" stroke-width="1.4"/>
<line x1="959.20" y1="837.80" x2="959.20" y2="841.80" stroke="#111" stroke-width="1.1"/>
<text x="959.20" y="851.50" font-size="9.1" text-anchor="middle" font-weight="bold" fill="#111">0.00</text>
<line x1="1002.78" y1="837.80" x2="1002.78" y2="841.80" stroke="#111" stroke-width="1.1"/>
<text x="1002.78" y="851.50" font-size="9.1" text-anchor="middle" font-weight="bold" fill="#111">0.25</text>
<line x1="1046.35" y1="837.80" x2="1046.35" y2="841.80" stroke="#111" stroke-width="1.1"/>
<text x="1046.35" y="851.50" font-size="9.1" text-anchor="middle" font-weight="bold" fill="#111">0.50</text>
<line x1="1089.93" y1="837.80" x2="1089.93" y2="841.80" stroke="#111" stroke-width="1.1"/>
<text x="1089.93" y="851.50" font-size="9.1" text-anchor="middle" font-weight="bold" fill="#111">0.75</text>
<line x1="1133.50" y1="837.80" x2="1133.50" y2="841.80" stroke="#111" stroke-width="1.1"/>
<text x="1133.50" y="851.50" font-size="9.1" text-anchor="middle" font-weight="bold" fill="#111">1.00</text>
<text x="1046.50" y="864.00" font-size="8.8" text-anchor="middle" font-weight="bold" fill="#111">Fa</text>
<text x="937.00" y="745.60" font-size="9.25" text-anchor="middle" font-weight="bold" fill="#111" transform="rotate(-90 937.00 745.60)">Combination index</text>
<text x="1133.70" y="742.70" font-size="11.5" text-anchor="start" font-weight="bold" fill="#1c1c1c">antagonism</text>
<path d="M1127.7 745.3 V735.8 M1125.7 738.3 L1127.7 735.6 L1129.7 738.3" stroke="#1c1c1c" stroke-width="1.0" fill="none"/>
<text x="1133.70" y="752.90" font-size="11.5" text-anchor="start" font-weight="bold" fill="#1c1c1c">additive</text>
<text x="1133.70" y="763.50" font-size="11.5" text-anchor="start" font-weight="bold" fill="#1c1c1c">synergism</text>
<path d="M1127.7 756.0 V765.4 M1125.7 762.9 L1127.7 765.6 L1129.7 762.9" stroke="#1c1c1c" stroke-width="1.0" fill="none"/>
</svg></body></html>
